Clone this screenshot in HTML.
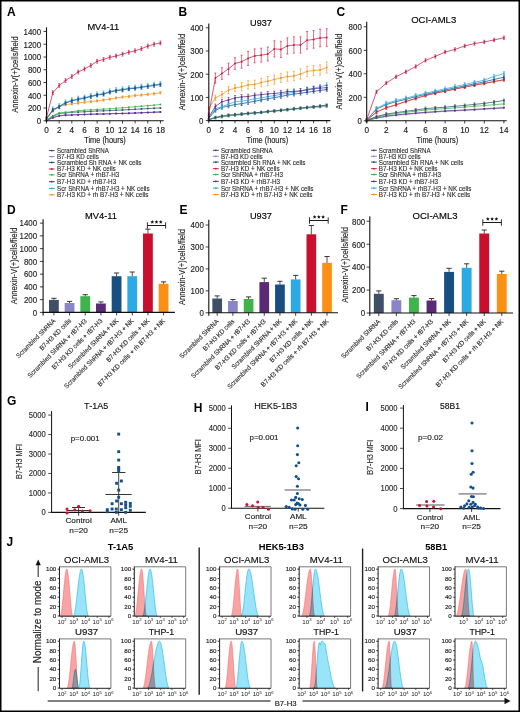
<!DOCTYPE html>
<html><head><meta charset="utf-8"><style>
html,body{margin:0;padding:0;background:#fff;}
svg{display:block;font-family:"Liberation Sans", sans-serif;}
</style></head><body>
<svg width="520" height="712" viewBox="0 0 520 712">
<rect x="0" y="0" width="520" height="712" fill="#fff"/>
<polyline points="46.50,120.48 52.83,117.93 59.16,116.02 65.49,115.38 71.82,115.06 78.15,114.74 84.48,114.48 90.81,114.29 97.14,114.10 103.47,113.91 109.80,113.78 116.13,113.59 122.46,113.40 128.79,113.21 135.12,113.02 141.45,112.76 147.78,112.51 154.11,112.25 160.44,112.00" fill="none" stroke="#8f87d2" stroke-width="0.75"/>
<path d="M45.5 120.5a1 1 0 1 0 2 0a1 1 0 1 0 -2 0M51.8 117.9a1 1 0 1 0 2 0a1 1 0 1 0 -2 0M58.2 116.0a1 1 0 1 0 2 0a1 1 0 1 0 -2 0M64.5 115.4a1 1 0 1 0 2 0a1 1 0 1 0 -2 0M70.8 115.1a1 1 0 1 0 2 0a1 1 0 1 0 -2 0M77.2 114.7a1 1 0 1 0 2 0a1 1 0 1 0 -2 0M83.5 114.5a1 1 0 1 0 2 0a1 1 0 1 0 -2 0M89.8 114.3a1 1 0 1 0 2 0a1 1 0 1 0 -2 0M96.1 114.1a1 1 0 1 0 2 0a1 1 0 1 0 -2 0M102.5 113.9a1 1 0 1 0 2 0a1 1 0 1 0 -2 0M108.8 113.8a1 1 0 1 0 2 0a1 1 0 1 0 -2 0M115.1 113.6a1 1 0 1 0 2 0a1 1 0 1 0 -2 0M121.5 113.4a1 1 0 1 0 2 0a1 1 0 1 0 -2 0M127.8 113.2a1 1 0 1 0 2 0a1 1 0 1 0 -2 0M134.1 113.0a1 1 0 1 0 2 0a1 1 0 1 0 -2 0M140.4 112.8a1 1 0 1 0 2 0a1 1 0 1 0 -2 0M146.8 112.5a1 1 0 1 0 2 0a1 1 0 1 0 -2 0M153.1 112.3a1 1 0 1 0 2 0a1 1 0 1 0 -2 0M159.4 112.0a1 1 0 1 0 2 0a1 1 0 1 0 -2 0" fill="#8f87d2"/>
<polyline points="46.50,120.48 52.83,117.48 59.16,115.70 65.49,115.12 71.82,114.87 78.15,114.68 84.48,114.42 90.81,114.23 97.14,114.04 103.47,113.91 109.80,113.72 116.13,113.59 122.46,113.40 128.79,113.27 135.12,113.08 141.45,112.76 147.78,112.51 154.11,112.19 160.44,111.93" fill="none" stroke="#5e2d86" stroke-width="0.75"/>
<path d="M45.5 120.5a1 1 0 1 0 2 0a1 1 0 1 0 -2 0M51.8 117.5a1 1 0 1 0 2 0a1 1 0 1 0 -2 0M58.2 115.7a1 1 0 1 0 2 0a1 1 0 1 0 -2 0M64.5 115.1a1 1 0 1 0 2 0a1 1 0 1 0 -2 0M70.8 114.9a1 1 0 1 0 2 0a1 1 0 1 0 -2 0M77.2 114.7a1 1 0 1 0 2 0a1 1 0 1 0 -2 0M83.5 114.4a1 1 0 1 0 2 0a1 1 0 1 0 -2 0M89.8 114.2a1 1 0 1 0 2 0a1 1 0 1 0 -2 0M96.1 114.0a1 1 0 1 0 2 0a1 1 0 1 0 -2 0M102.5 113.9a1 1 0 1 0 2 0a1 1 0 1 0 -2 0M108.8 113.7a1 1 0 1 0 2 0a1 1 0 1 0 -2 0M115.1 113.6a1 1 0 1 0 2 0a1 1 0 1 0 -2 0M121.5 113.4a1 1 0 1 0 2 0a1 1 0 1 0 -2 0M127.8 113.3a1 1 0 1 0 2 0a1 1 0 1 0 -2 0M134.1 113.1a1 1 0 1 0 2 0a1 1 0 1 0 -2 0M140.4 112.8a1 1 0 1 0 2 0a1 1 0 1 0 -2 0M146.8 112.5a1 1 0 1 0 2 0a1 1 0 1 0 -2 0M153.1 112.2a1 1 0 1 0 2 0a1 1 0 1 0 -2 0M159.4 111.9a1 1 0 1 0 2 0a1 1 0 1 0 -2 0" fill="#5e2d86"/>
<polyline points="46.50,120.16 52.83,116.27 59.16,113.53 65.49,113.02 71.82,112.19 78.15,112.00 84.48,111.80 90.81,111.36 97.14,110.97 103.47,110.85 109.80,110.59 116.13,110.27 122.46,109.95 128.79,109.63 135.12,109.32 141.45,108.93 147.78,108.55 154.11,108.23 160.44,107.91" fill="none" stroke="#34506e" stroke-width="0.75"/>
<path d="M45.5 120.2a1 1 0 1 0 2 0a1 1 0 1 0 -2 0M51.8 116.3a1 1 0 1 0 2 0a1 1 0 1 0 -2 0M58.2 113.5a1 1 0 1 0 2 0a1 1 0 1 0 -2 0M64.5 113.0a1 1 0 1 0 2 0a1 1 0 1 0 -2 0M70.8 112.2a1 1 0 1 0 2 0a1 1 0 1 0 -2 0M77.2 112.0a1 1 0 1 0 2 0a1 1 0 1 0 -2 0M83.5 111.8a1 1 0 1 0 2 0a1 1 0 1 0 -2 0M89.8 111.4a1 1 0 1 0 2 0a1 1 0 1 0 -2 0M96.1 111.0a1 1 0 1 0 2 0a1 1 0 1 0 -2 0M102.5 110.8a1 1 0 1 0 2 0a1 1 0 1 0 -2 0M108.8 110.6a1 1 0 1 0 2 0a1 1 0 1 0 -2 0M115.1 110.3a1 1 0 1 0 2 0a1 1 0 1 0 -2 0M121.5 110.0a1 1 0 1 0 2 0a1 1 0 1 0 -2 0M127.8 109.6a1 1 0 1 0 2 0a1 1 0 1 0 -2 0M134.1 109.3a1 1 0 1 0 2 0a1 1 0 1 0 -2 0M140.4 108.9a1 1 0 1 0 2 0a1 1 0 1 0 -2 0M146.8 108.6a1 1 0 1 0 2 0a1 1 0 1 0 -2 0M153.1 108.2a1 1 0 1 0 2 0a1 1 0 1 0 -2 0M159.4 107.9a1 1 0 1 0 2 0a1 1 0 1 0 -2 0" fill="#34506e"/>
<polyline points="46.50,120.16 52.83,115.70 59.16,113.02 65.49,112.19 71.82,111.80 78.15,110.78 84.48,110.21 90.81,109.83 97.14,109.51 103.47,109.12 109.80,108.81 116.13,108.30 122.46,107.78 128.79,107.27 135.12,106.70 141.45,106.19 147.78,105.68 154.11,105.17 160.44,104.53" fill="none" stroke="#3bb54a" stroke-width="0.75"/>
<path d="M45.5 120.2a1 1 0 1 0 2 0a1 1 0 1 0 -2 0M51.8 115.7a1 1 0 1 0 2 0a1 1 0 1 0 -2 0M58.2 113.0a1 1 0 1 0 2 0a1 1 0 1 0 -2 0M64.5 112.2a1 1 0 1 0 2 0a1 1 0 1 0 -2 0M70.8 111.8a1 1 0 1 0 2 0a1 1 0 1 0 -2 0M77.2 110.8a1 1 0 1 0 2 0a1 1 0 1 0 -2 0M83.5 110.2a1 1 0 1 0 2 0a1 1 0 1 0 -2 0M89.8 109.8a1 1 0 1 0 2 0a1 1 0 1 0 -2 0M96.1 109.5a1 1 0 1 0 2 0a1 1 0 1 0 -2 0M102.5 109.1a1 1 0 1 0 2 0a1 1 0 1 0 -2 0M108.8 108.8a1 1 0 1 0 2 0a1 1 0 1 0 -2 0M115.1 108.3a1 1 0 1 0 2 0a1 1 0 1 0 -2 0M121.5 107.8a1 1 0 1 0 2 0a1 1 0 1 0 -2 0M127.8 107.3a1 1 0 1 0 2 0a1 1 0 1 0 -2 0M134.1 106.7a1 1 0 1 0 2 0a1 1 0 1 0 -2 0M140.4 106.2a1 1 0 1 0 2 0a1 1 0 1 0 -2 0M146.8 105.7a1 1 0 1 0 2 0a1 1 0 1 0 -2 0M153.1 105.2a1 1 0 1 0 2 0a1 1 0 1 0 -2 0M159.4 104.5a1 1 0 1 0 2 0a1 1 0 1 0 -2 0" fill="#3bb54a"/>
<polyline points="46.50,118.89 52.83,110.78 59.16,107.08 65.49,104.59 71.82,103.89 78.15,103.06 84.48,102.30 90.81,101.66 97.14,100.89 103.47,100.06 109.80,99.11 116.13,97.96 122.46,97.07 128.79,96.43 135.12,95.54 141.45,95.02 147.78,94.32 154.11,93.81 160.44,92.73" fill="none" stroke="#f7941e" stroke-width="0.75"/>
<path d="M46.5 117.7V120.0M45.5 117.7h2M45.5 120.0h2M52.8 109.6V111.9M51.8 109.6h2M51.8 111.9h2M59.2 105.9V108.2M58.2 105.9h2M58.2 108.2h2M65.5 103.4V105.7M64.5 103.4h2M64.5 105.7h2M71.8 102.7V105.0M70.8 102.7h2M70.8 105.0h2M78.2 101.9V104.2M77.2 101.9h2M77.2 104.2h2M84.5 101.1V103.4M83.5 101.1h2M83.5 103.4h2M90.8 100.5V102.8M89.8 100.5h2M89.8 102.8h2M97.1 99.7V102.0M96.1 99.7h2M96.1 102.0h2M103.5 98.9V101.2M102.5 98.9h2M102.5 101.2h2M109.8 98.0V100.3M108.8 98.0h2M108.8 100.3h2M116.1 96.8V99.1M115.1 96.8h2M115.1 99.1h2M122.5 95.9V98.2M121.5 95.9h2M121.5 98.2h2M128.8 95.3V97.6M127.8 95.3h2M127.8 97.6h2M135.1 94.4V96.7M134.1 94.4h2M134.1 96.7h2M141.4 93.9V96.2M140.4 93.9h2M140.4 96.2h2M147.8 93.2V95.5M146.8 93.2h2M146.8 95.5h2M154.1 92.7V95.0M153.1 92.7h2M153.1 95.0h2M160.4 91.6V93.9M159.4 91.6h2M159.4 93.9h2" stroke="#f7941e" stroke-width="0.65" fill="none"/>
<path d="M45.5 118.9a1 1 0 1 0 2 0a1 1 0 1 0 -2 0M51.8 110.8a1 1 0 1 0 2 0a1 1 0 1 0 -2 0M58.2 107.1a1 1 0 1 0 2 0a1 1 0 1 0 -2 0M64.5 104.6a1 1 0 1 0 2 0a1 1 0 1 0 -2 0M70.8 103.9a1 1 0 1 0 2 0a1 1 0 1 0 -2 0M77.2 103.1a1 1 0 1 0 2 0a1 1 0 1 0 -2 0M83.5 102.3a1 1 0 1 0 2 0a1 1 0 1 0 -2 0M89.8 101.7a1 1 0 1 0 2 0a1 1 0 1 0 -2 0M96.1 100.9a1 1 0 1 0 2 0a1 1 0 1 0 -2 0M102.5 100.1a1 1 0 1 0 2 0a1 1 0 1 0 -2 0M108.8 99.1a1 1 0 1 0 2 0a1 1 0 1 0 -2 0M115.1 98.0a1 1 0 1 0 2 0a1 1 0 1 0 -2 0M121.5 97.1a1 1 0 1 0 2 0a1 1 0 1 0 -2 0M127.8 96.4a1 1 0 1 0 2 0a1 1 0 1 0 -2 0M134.1 95.5a1 1 0 1 0 2 0a1 1 0 1 0 -2 0M140.4 95.0a1 1 0 1 0 2 0a1 1 0 1 0 -2 0M146.8 94.3a1 1 0 1 0 2 0a1 1 0 1 0 -2 0M153.1 93.8a1 1 0 1 0 2 0a1 1 0 1 0 -2 0M159.4 92.7a1 1 0 1 0 2 0a1 1 0 1 0 -2 0" fill="#f7941e"/>
<polyline points="46.50,118.89 52.83,109.44 59.16,106.25 65.49,102.49 71.82,100.26 78.15,98.79 84.48,97.58 90.81,95.98 97.14,94.45 103.47,93.49 109.80,91.45 116.13,90.18 122.46,89.35 128.79,88.26 135.12,87.69 141.45,86.73 147.78,85.84 154.11,84.75 160.44,83.99" fill="none" stroke="#35aae3" stroke-width="0.75"/>
<path d="M46.5 116.3V121.4M45.5 116.3h2M45.5 121.4h2M52.8 106.9V112.0M51.8 106.9h2M51.8 112.0h2M59.2 103.7V108.8M58.2 103.7h2M58.2 108.8h2M65.5 99.9V105.0M64.5 99.9h2M64.5 105.0h2M71.8 97.7V102.8M70.8 97.7h2M70.8 102.8h2M78.2 96.2V101.3M77.2 96.2h2M77.2 101.3h2M84.5 95.0V100.1M83.5 95.0h2M83.5 100.1h2M90.8 93.4V98.5M89.8 93.4h2M89.8 98.5h2M97.1 91.9V97.0M96.1 91.9h2M96.1 97.0h2M103.5 90.9V96.0M102.5 90.9h2M102.5 96.0h2M109.8 88.9V94.0M108.8 88.9h2M108.8 94.0h2M116.1 87.6V92.7M115.1 87.6h2M115.1 92.7h2M122.5 86.8V91.9M121.5 86.8h2M121.5 91.9h2M128.8 85.7V90.8M127.8 85.7h2M127.8 90.8h2M135.1 85.1V90.2M134.1 85.1h2M134.1 90.2h2M141.4 84.2V89.3M140.4 84.2h2M140.4 89.3h2M147.8 83.3V88.4M146.8 83.3h2M146.8 88.4h2M154.1 82.2V87.3M153.1 82.2h2M153.1 87.3h2M160.4 81.4V86.5M159.4 81.4h2M159.4 86.5h2" stroke="#35aae3" stroke-width="0.65" fill="none"/>
<path d="M45.5 118.9a1 1 0 1 0 2 0a1 1 0 1 0 -2 0M51.8 109.4a1 1 0 1 0 2 0a1 1 0 1 0 -2 0M58.2 106.3a1 1 0 1 0 2 0a1 1 0 1 0 -2 0M64.5 102.5a1 1 0 1 0 2 0a1 1 0 1 0 -2 0M70.8 100.3a1 1 0 1 0 2 0a1 1 0 1 0 -2 0M77.2 98.8a1 1 0 1 0 2 0a1 1 0 1 0 -2 0M83.5 97.6a1 1 0 1 0 2 0a1 1 0 1 0 -2 0M89.8 96.0a1 1 0 1 0 2 0a1 1 0 1 0 -2 0M96.1 94.5a1 1 0 1 0 2 0a1 1 0 1 0 -2 0M102.5 93.5a1 1 0 1 0 2 0a1 1 0 1 0 -2 0M108.8 91.5a1 1 0 1 0 2 0a1 1 0 1 0 -2 0M115.1 90.2a1 1 0 1 0 2 0a1 1 0 1 0 -2 0M121.5 89.3a1 1 0 1 0 2 0a1 1 0 1 0 -2 0M127.8 88.3a1 1 0 1 0 2 0a1 1 0 1 0 -2 0M134.1 87.7a1 1 0 1 0 2 0a1 1 0 1 0 -2 0M140.4 86.7a1 1 0 1 0 2 0a1 1 0 1 0 -2 0M146.8 85.8a1 1 0 1 0 2 0a1 1 0 1 0 -2 0M153.1 84.8a1 1 0 1 0 2 0a1 1 0 1 0 -2 0M159.4 84.0a1 1 0 1 0 2 0a1 1 0 1 0 -2 0" fill="#35aae3"/>
<polyline points="46.50,118.89 52.83,109.89 59.16,106.83 65.49,103.13 71.82,100.89 78.15,99.43 84.48,98.21 90.81,96.62 97.14,95.09 103.47,94.20 109.80,92.09 116.13,90.81 122.46,89.98 128.79,88.90 135.12,88.33 141.45,87.37 147.78,86.48 154.11,85.39 160.44,84.63" fill="none" stroke="#17508a" stroke-width="0.75"/>
<path d="M46.5 117.3V120.5M45.5 117.3h2M45.5 120.5h2M52.8 108.3V111.5M51.8 108.3h2M51.8 111.5h2M59.2 105.2V108.4M58.2 105.2h2M58.2 108.4h2M65.5 101.5V104.7M64.5 101.5h2M64.5 104.7h2M71.8 99.3V102.5M70.8 99.3h2M70.8 102.5h2M78.2 97.8V101.0M77.2 97.8h2M77.2 101.0h2M84.5 96.6V99.8M83.5 96.6h2M83.5 99.8h2M90.8 95.0V98.2M89.8 95.0h2M89.8 98.2h2M97.1 93.5V96.7M96.1 93.5h2M96.1 96.7h2M103.5 92.6V95.8M102.5 92.6h2M102.5 95.8h2M109.8 90.5V93.7M108.8 90.5h2M108.8 93.7h2M116.1 89.2V92.4M115.1 89.2h2M115.1 92.4h2M122.5 88.4V91.6M121.5 88.4h2M121.5 91.6h2M128.8 87.3V90.5M127.8 87.3h2M127.8 90.5h2M135.1 86.7V89.9M134.1 86.7h2M134.1 89.9h2M141.4 85.8V89.0M140.4 85.8h2M140.4 89.0h2M147.8 84.9V88.1M146.8 84.9h2M146.8 88.1h2M154.1 83.8V87.0M153.1 83.8h2M153.1 87.0h2M160.4 83.0V86.2M159.4 83.0h2M159.4 86.2h2" stroke="#17508a" stroke-width="0.65" fill="none"/>
<path d="M45.5 118.9a1 1 0 1 0 2 0a1 1 0 1 0 -2 0M51.8 109.9a1 1 0 1 0 2 0a1 1 0 1 0 -2 0M58.2 106.8a1 1 0 1 0 2 0a1 1 0 1 0 -2 0M64.5 103.1a1 1 0 1 0 2 0a1 1 0 1 0 -2 0M70.8 100.9a1 1 0 1 0 2 0a1 1 0 1 0 -2 0M77.2 99.4a1 1 0 1 0 2 0a1 1 0 1 0 -2 0M83.5 98.2a1 1 0 1 0 2 0a1 1 0 1 0 -2 0M89.8 96.6a1 1 0 1 0 2 0a1 1 0 1 0 -2 0M96.1 95.1a1 1 0 1 0 2 0a1 1 0 1 0 -2 0M102.5 94.2a1 1 0 1 0 2 0a1 1 0 1 0 -2 0M108.8 92.1a1 1 0 1 0 2 0a1 1 0 1 0 -2 0M115.1 90.8a1 1 0 1 0 2 0a1 1 0 1 0 -2 0M121.5 90.0a1 1 0 1 0 2 0a1 1 0 1 0 -2 0M127.8 88.9a1 1 0 1 0 2 0a1 1 0 1 0 -2 0M134.1 88.3a1 1 0 1 0 2 0a1 1 0 1 0 -2 0M140.4 87.4a1 1 0 1 0 2 0a1 1 0 1 0 -2 0M146.8 86.5a1 1 0 1 0 2 0a1 1 0 1 0 -2 0M153.1 85.4a1 1 0 1 0 2 0a1 1 0 1 0 -2 0M159.4 84.6a1 1 0 1 0 2 0a1 1 0 1 0 -2 0" fill="#17508a"/>
<polyline points="46.50,117.61 52.83,92.73 59.16,85.52 65.49,80.61 71.82,76.52 78.15,71.99 84.48,68.99 90.81,65.49 97.14,61.27 103.47,59.49 109.80,57.32 116.13,55.98 122.46,54.19 128.79,52.28 135.12,50.81 141.45,48.71 147.78,46.15 154.11,44.24 160.44,42.96" fill="none" stroke="#cc1f48" stroke-width="0.75"/>
<path d="M52.8 90.8V94.6M51.8 90.8h2M51.8 94.6h2M59.2 83.6V87.4M58.2 83.6h2M58.2 87.4h2M65.5 78.7V82.5M64.5 78.7h2M64.5 82.5h2M71.8 74.6V78.4M70.8 74.6h2M70.8 78.4h2M78.2 70.1V73.9M77.2 70.1h2M77.2 73.9h2M84.5 67.1V70.9M83.5 67.1h2M83.5 70.9h2M90.8 63.6V67.4M89.8 63.6h2M89.8 67.4h2M97.1 59.4V63.2M96.1 59.4h2M96.1 63.2h2M103.5 57.6V61.4M102.5 57.6h2M102.5 61.4h2M109.8 55.4V59.2M108.8 55.4h2M108.8 59.2h2M116.1 54.1V57.9M115.1 54.1h2M115.1 57.9h2M122.5 52.3V56.1M121.5 52.3h2M121.5 56.1h2M128.8 50.4V54.2M127.8 50.4h2M127.8 54.2h2M135.1 48.9V52.7M134.1 48.9h2M134.1 52.7h2M141.4 46.8V50.6M140.4 46.8h2M140.4 50.6h2M147.8 44.2V48.1M146.8 44.2h2M146.8 48.1h2M154.1 42.3V46.2M153.1 42.3h2M153.1 46.2h2M160.4 41.0V44.9M159.4 41.0h2M159.4 44.9h2" stroke="#cc1f48" stroke-width="0.65" fill="none"/>
<path d="M45.5 117.6a1 1 0 1 0 2 0a1 1 0 1 0 -2 0M51.8 92.7a1 1 0 1 0 2 0a1 1 0 1 0 -2 0M58.2 85.5a1 1 0 1 0 2 0a1 1 0 1 0 -2 0M64.5 80.6a1 1 0 1 0 2 0a1 1 0 1 0 -2 0M70.8 76.5a1 1 0 1 0 2 0a1 1 0 1 0 -2 0M77.2 72.0a1 1 0 1 0 2 0a1 1 0 1 0 -2 0M83.5 69.0a1 1 0 1 0 2 0a1 1 0 1 0 -2 0M89.8 65.5a1 1 0 1 0 2 0a1 1 0 1 0 -2 0M96.1 61.3a1 1 0 1 0 2 0a1 1 0 1 0 -2 0M102.5 59.5a1 1 0 1 0 2 0a1 1 0 1 0 -2 0M108.8 57.3a1 1 0 1 0 2 0a1 1 0 1 0 -2 0M115.1 56.0a1 1 0 1 0 2 0a1 1 0 1 0 -2 0M121.5 54.2a1 1 0 1 0 2 0a1 1 0 1 0 -2 0M127.8 52.3a1 1 0 1 0 2 0a1 1 0 1 0 -2 0M134.1 50.8a1 1 0 1 0 2 0a1 1 0 1 0 -2 0M140.4 48.7a1 1 0 1 0 2 0a1 1 0 1 0 -2 0M146.8 46.2a1 1 0 1 0 2 0a1 1 0 1 0 -2 0M153.1 44.2a1 1 0 1 0 2 0a1 1 0 1 0 -2 0M159.4 43.0a1 1 0 1 0 2 0a1 1 0 1 0 -2 0" fill="#cc1f48"/>
<line x1="46.50" y1="27.30" x2="46.50" y2="121.30" stroke="#111" stroke-width="1.1" />
<line x1="46.00" y1="120.80" x2="163.70" y2="120.80" stroke="#111" stroke-width="1.1" />
<line x1="43.50" y1="120.80" x2="46.50" y2="120.80" stroke="#111" stroke-width="0.8" />
<text x="41.10" y="124.10" font-size="8.8" text-anchor="end" fill="#222" textLength="4.40" lengthAdjust="spacingAndGlyphs"  stroke="#222" stroke-width="0.15">0</text>
<line x1="43.50" y1="108.04" x2="46.50" y2="108.04" stroke="#111" stroke-width="0.8" />
<text x="41.10" y="111.34" font-size="8.8" text-anchor="end" fill="#222" textLength="13.20" lengthAdjust="spacingAndGlyphs"  stroke="#222" stroke-width="0.15">200</text>
<line x1="43.50" y1="95.28" x2="46.50" y2="95.28" stroke="#111" stroke-width="0.8" />
<text x="41.10" y="98.58" font-size="8.8" text-anchor="end" fill="#222" textLength="13.20" lengthAdjust="spacingAndGlyphs"  stroke="#222" stroke-width="0.15">400</text>
<line x1="43.50" y1="82.52" x2="46.50" y2="82.52" stroke="#111" stroke-width="0.8" />
<text x="41.10" y="85.82" font-size="8.8" text-anchor="end" fill="#222" textLength="13.20" lengthAdjust="spacingAndGlyphs"  stroke="#222" stroke-width="0.15">600</text>
<line x1="43.50" y1="69.76" x2="46.50" y2="69.76" stroke="#111" stroke-width="0.8" />
<text x="41.10" y="73.06" font-size="8.8" text-anchor="end" fill="#222" textLength="13.20" lengthAdjust="spacingAndGlyphs"  stroke="#222" stroke-width="0.15">800</text>
<line x1="43.50" y1="57.00" x2="46.50" y2="57.00" stroke="#111" stroke-width="0.8" />
<text x="41.10" y="60.30" font-size="8.8" text-anchor="end" fill="#222" textLength="17.60" lengthAdjust="spacingAndGlyphs"  stroke="#222" stroke-width="0.15">1000</text>
<line x1="43.50" y1="44.24" x2="46.50" y2="44.24" stroke="#111" stroke-width="0.8" />
<text x="41.10" y="47.54" font-size="8.8" text-anchor="end" fill="#222" textLength="17.60" lengthAdjust="spacingAndGlyphs"  stroke="#222" stroke-width="0.15">1200</text>
<line x1="43.50" y1="31.48" x2="46.50" y2="31.48" stroke="#111" stroke-width="0.8" />
<text x="41.10" y="34.78" font-size="8.8" text-anchor="end" fill="#222" textLength="17.60" lengthAdjust="spacingAndGlyphs"  stroke="#222" stroke-width="0.15">1400</text>
<line x1="46.50" y1="120.80" x2="46.50" y2="123.50" stroke="#111" stroke-width="0.8" />
<text x="46.50" y="133.40" font-size="8.2" text-anchor="middle" fill="#222"  stroke="#222" stroke-width="0.15">0</text>
<line x1="59.16" y1="120.80" x2="59.16" y2="123.50" stroke="#111" stroke-width="0.8" />
<text x="59.16" y="133.40" font-size="8.2" text-anchor="middle" fill="#222"  stroke="#222" stroke-width="0.15">2</text>
<line x1="71.82" y1="120.80" x2="71.82" y2="123.50" stroke="#111" stroke-width="0.8" />
<text x="71.82" y="133.40" font-size="8.2" text-anchor="middle" fill="#222"  stroke="#222" stroke-width="0.15">4</text>
<line x1="84.48" y1="120.80" x2="84.48" y2="123.50" stroke="#111" stroke-width="0.8" />
<text x="84.48" y="133.40" font-size="8.2" text-anchor="middle" fill="#222"  stroke="#222" stroke-width="0.15">6</text>
<line x1="97.14" y1="120.80" x2="97.14" y2="123.50" stroke="#111" stroke-width="0.8" />
<text x="97.14" y="133.40" font-size="8.2" text-anchor="middle" fill="#222"  stroke="#222" stroke-width="0.15">8</text>
<line x1="109.80" y1="120.80" x2="109.80" y2="123.50" stroke="#111" stroke-width="0.8" />
<text x="109.80" y="133.40" font-size="8.2" text-anchor="middle" fill="#222"  stroke="#222" stroke-width="0.15">10</text>
<line x1="122.46" y1="120.80" x2="122.46" y2="123.50" stroke="#111" stroke-width="0.8" />
<text x="122.46" y="133.40" font-size="8.2" text-anchor="middle" fill="#222"  stroke="#222" stroke-width="0.15">12</text>
<line x1="135.12" y1="120.80" x2="135.12" y2="123.50" stroke="#111" stroke-width="0.8" />
<text x="135.12" y="133.40" font-size="8.2" text-anchor="middle" fill="#222"  stroke="#222" stroke-width="0.15">14</text>
<line x1="147.78" y1="120.80" x2="147.78" y2="123.50" stroke="#111" stroke-width="0.8" />
<text x="147.78" y="133.40" font-size="8.2" text-anchor="middle" fill="#222"  stroke="#222" stroke-width="0.15">16</text>
<line x1="160.44" y1="120.80" x2="160.44" y2="123.50" stroke="#111" stroke-width="0.8" />
<text x="160.44" y="133.40" font-size="8.2" text-anchor="middle" fill="#222"  stroke="#222" stroke-width="0.15">18</text>
<text x="103.30" y="30.10" font-size="9" text-anchor="middle" fill="#000" textLength="31.80" lengthAdjust="spacingAndGlyphs"  stroke="#000" stroke-width="0.15">MV4-11</text>
<text x="105.00" y="143.20" font-size="8.6" text-anchor="middle" fill="#222" textLength="41.60" lengthAdjust="spacingAndGlyphs"  stroke="#222" stroke-width="0.15">Time (hours)</text>
<text x="0" y="0" font-size="9.8" text-anchor="middle" fill="#222" textLength="76.60" lengthAdjust="spacingAndGlyphs" transform="translate(18.40,74.50) rotate(-90)"  stroke="#222" stroke-width="0.15">Annexin-V(+)cells/field</text>
<line x1="48.90" y1="150.60" x2="54.60" y2="150.60" stroke="#34506e" stroke-width="1.0" />
<circle cx="51.75" cy="150.60" r="0.9" fill="#34506e"/>
<text x="57.00" y="153.05" font-size="7.0" text-anchor="start" fill="#2a2a2a" textLength="51.80" lengthAdjust="spacingAndGlyphs" stroke="#2a2a2a" stroke-width="0.12">Scrambled ShRNA</text>
<line x1="48.90" y1="156.60" x2="54.60" y2="156.60" stroke="#8f87d2" stroke-width="1.0" />
<circle cx="51.75" cy="156.60" r="0.9" fill="#8f87d2"/>
<text x="57.00" y="159.05" font-size="7.0" text-anchor="start" fill="#2a2a2a" textLength="41.80" lengthAdjust="spacingAndGlyphs" stroke="#2a2a2a" stroke-width="0.12">B7-H3 KD cells</text>
<line x1="48.90" y1="162.40" x2="54.60" y2="162.40" stroke="#17508a" stroke-width="1.0" />
<circle cx="51.75" cy="162.40" r="0.9" fill="#17508a"/>
<text x="57.00" y="164.85" font-size="7.0" text-anchor="start" fill="#2a2a2a" textLength="84.50" lengthAdjust="spacingAndGlyphs" stroke="#2a2a2a" stroke-width="0.12">Scrambled Sh RNA + NK cells</text>
<line x1="48.90" y1="169.00" x2="54.60" y2="169.00" stroke="#cc1f48" stroke-width="1.0" />
<circle cx="51.75" cy="169.00" r="0.9" fill="#cc1f48"/>
<text x="57.00" y="171.45" font-size="7.0" text-anchor="start" fill="#2a2a2a" textLength="58.70" lengthAdjust="spacingAndGlyphs" stroke="#2a2a2a" stroke-width="0.12">B7-H3 KD + NK cells</text>
<line x1="48.90" y1="174.80" x2="54.60" y2="174.80" stroke="#3bb54a" stroke-width="1.0" />
<circle cx="51.75" cy="174.80" r="0.9" fill="#3bb54a"/>
<text x="57.00" y="177.25" font-size="7.0" text-anchor="start" fill="#2a2a2a" textLength="62.20" lengthAdjust="spacingAndGlyphs" stroke="#2a2a2a" stroke-width="0.12">Scr ShRNA + rhB7-H3</text>
<line x1="48.90" y1="181.70" x2="54.60" y2="181.70" stroke="#5e2d86" stroke-width="1.0" />
<circle cx="51.75" cy="181.70" r="0.9" fill="#5e2d86"/>
<text x="57.00" y="184.15" font-size="7.0" text-anchor="start" fill="#2a2a2a" textLength="59.20" lengthAdjust="spacingAndGlyphs" stroke="#2a2a2a" stroke-width="0.12">B7-H3 KD + rhB7-H3</text>
<line x1="48.90" y1="188.40" x2="54.60" y2="188.40" stroke="#35aae3" stroke-width="1.0" />
<circle cx="51.75" cy="188.40" r="0.9" fill="#35aae3"/>
<text x="57.00" y="190.85" font-size="7.0" text-anchor="start" fill="#2a2a2a" textLength="92.60" lengthAdjust="spacingAndGlyphs" stroke="#2a2a2a" stroke-width="0.12">Scr ShRNA + rhB7-H3 + NK cells</text>
<line x1="48.90" y1="194.80" x2="54.60" y2="194.80" stroke="#f7941e" stroke-width="1.0" />
<circle cx="51.75" cy="194.80" r="0.9" fill="#f7941e"/>
<text x="57.00" y="197.25" font-size="7.0" text-anchor="start" fill="#2a2a2a" textLength="91.50" lengthAdjust="spacingAndGlyphs" stroke="#2a2a2a" stroke-width="0.12">B7-H3 KD + rh B7-H3 + NK cells</text>
<polyline points="208.80,119.90 215.35,117.82 221.90,116.89 228.45,115.96 235.00,115.26 241.55,114.57 248.10,113.87 254.65,113.41 261.20,112.71 267.75,112.02 274.30,111.32 280.85,110.62 287.40,109.93 293.95,109.23 300.50,108.54 307.05,107.84 313.60,107.38 320.15,106.91 326.70,106.68" fill="none" stroke="#8f87d2" stroke-width="0.75"/>
<path d="M208.8 119.0V120.8M207.8 119.0h2M207.8 120.8h2M215.4 116.9V118.7M214.4 116.9h2M214.4 118.7h2M221.9 116.0V117.8M220.9 116.0h2M220.9 117.8h2M228.5 115.0V116.9M227.5 115.0h2M227.5 116.9h2M235.0 114.3V116.2M234.0 114.3h2M234.0 116.2h2M241.6 113.6V115.5M240.6 113.6h2M240.6 115.5h2M248.1 112.9V114.8M247.1 112.9h2M247.1 114.8h2M254.7 112.5V114.3M253.7 112.5h2M253.7 114.3h2M261.2 111.8V113.6M260.2 111.8h2M260.2 113.6h2M267.8 111.1V112.9M266.8 111.1h2M266.8 112.9h2M274.3 110.4V112.2M273.3 110.4h2M273.3 112.2h2M280.9 109.7V111.6M279.9 109.7h2M279.9 111.6h2M287.4 109.0V110.9M286.4 109.0h2M286.4 110.9h2M293.9 108.3V110.2M292.9 108.3h2M292.9 110.2h2M300.5 107.6V109.5M299.5 107.6h2M299.5 109.5h2M307.1 106.9V108.8M306.1 106.9h2M306.1 108.8h2M313.6 106.4V108.3M312.6 106.4h2M312.6 108.3h2M320.1 106.0V107.8M319.1 106.0h2M319.1 107.8h2M326.7 105.8V107.6M325.7 105.8h2M325.7 107.6h2" stroke="#8f87d2" stroke-width="0.65" fill="none"/>
<path d="M207.8 119.9a1 1 0 1 0 2 0a1 1 0 1 0 -2 0M214.4 117.8a1 1 0 1 0 2 0a1 1 0 1 0 -2 0M220.9 116.9a1 1 0 1 0 2 0a1 1 0 1 0 -2 0M227.5 116.0a1 1 0 1 0 2 0a1 1 0 1 0 -2 0M234.0 115.3a1 1 0 1 0 2 0a1 1 0 1 0 -2 0M240.6 114.6a1 1 0 1 0 2 0a1 1 0 1 0 -2 0M247.1 113.9a1 1 0 1 0 2 0a1 1 0 1 0 -2 0M253.7 113.4a1 1 0 1 0 2 0a1 1 0 1 0 -2 0M260.2 112.7a1 1 0 1 0 2 0a1 1 0 1 0 -2 0M266.8 112.0a1 1 0 1 0 2 0a1 1 0 1 0 -2 0M273.3 111.3a1 1 0 1 0 2 0a1 1 0 1 0 -2 0M279.9 110.6a1 1 0 1 0 2 0a1 1 0 1 0 -2 0M286.4 109.9a1 1 0 1 0 2 0a1 1 0 1 0 -2 0M292.9 109.2a1 1 0 1 0 2 0a1 1 0 1 0 -2 0M299.5 108.5a1 1 0 1 0 2 0a1 1 0 1 0 -2 0M306.1 107.8a1 1 0 1 0 2 0a1 1 0 1 0 -2 0M312.6 107.4a1 1 0 1 0 2 0a1 1 0 1 0 -2 0M319.1 106.9a1 1 0 1 0 2 0a1 1 0 1 0 -2 0M325.7 106.7a1 1 0 1 0 2 0a1 1 0 1 0 -2 0" fill="#8f87d2"/>
<polyline points="208.80,119.90 215.35,117.82 221.90,116.66 228.45,115.73 235.00,115.03 241.55,114.34 248.10,113.64 254.65,113.18 261.20,112.48 267.75,111.78 274.30,111.09 280.85,110.39 287.40,109.70 293.95,109.00 300.50,108.30 307.05,107.61 313.60,106.91 320.15,106.22 326.70,105.52" fill="none" stroke="#3bb54a" stroke-width="0.75"/>
<path d="M208.8 118.7V121.1M207.8 118.7h2M207.8 121.1h2M215.4 116.7V119.0M214.4 116.7h2M214.4 119.0h2M221.9 115.5V117.8M220.9 115.5h2M220.9 117.8h2M228.5 114.6V116.9M227.5 114.6h2M227.5 116.9h2M235.0 113.9V116.2M234.0 113.9h2M234.0 116.2h2M241.6 113.2V115.5M240.6 113.2h2M240.6 115.5h2M248.1 112.5V114.8M247.1 112.5h2M247.1 114.8h2M254.7 112.0V114.3M253.7 112.0h2M253.7 114.3h2M261.2 111.3V113.6M260.2 111.3h2M260.2 113.6h2M267.8 110.6V112.9M266.8 110.6h2M266.8 112.9h2M274.3 109.9V112.2M273.3 109.9h2M273.3 112.2h2M280.9 109.2V111.6M279.9 109.2h2M279.9 111.6h2M287.4 108.5V110.9M286.4 108.5h2M286.4 110.9h2M293.9 107.8V110.2M292.9 107.8h2M292.9 110.2h2M300.5 107.1V109.5M299.5 107.1h2M299.5 109.5h2M307.1 106.4V108.8M306.1 106.4h2M306.1 108.8h2M313.6 105.8V108.1M312.6 105.8h2M312.6 108.1h2M320.1 105.1V107.4M319.1 105.1h2M319.1 107.4h2M326.7 104.4V106.7M325.7 104.4h2M325.7 106.7h2" stroke="#3bb54a" stroke-width="0.65" fill="none"/>
<path d="M207.8 119.9a1 1 0 1 0 2 0a1 1 0 1 0 -2 0M214.4 117.8a1 1 0 1 0 2 0a1 1 0 1 0 -2 0M220.9 116.7a1 1 0 1 0 2 0a1 1 0 1 0 -2 0M227.5 115.7a1 1 0 1 0 2 0a1 1 0 1 0 -2 0M234.0 115.0a1 1 0 1 0 2 0a1 1 0 1 0 -2 0M240.6 114.3a1 1 0 1 0 2 0a1 1 0 1 0 -2 0M247.1 113.6a1 1 0 1 0 2 0a1 1 0 1 0 -2 0M253.7 113.2a1 1 0 1 0 2 0a1 1 0 1 0 -2 0M260.2 112.5a1 1 0 1 0 2 0a1 1 0 1 0 -2 0M266.8 111.8a1 1 0 1 0 2 0a1 1 0 1 0 -2 0M273.3 111.1a1 1 0 1 0 2 0a1 1 0 1 0 -2 0M279.9 110.4a1 1 0 1 0 2 0a1 1 0 1 0 -2 0M286.4 109.7a1 1 0 1 0 2 0a1 1 0 1 0 -2 0M292.9 109.0a1 1 0 1 0 2 0a1 1 0 1 0 -2 0M299.5 108.3a1 1 0 1 0 2 0a1 1 0 1 0 -2 0M306.1 107.6a1 1 0 1 0 2 0a1 1 0 1 0 -2 0M312.6 106.9a1 1 0 1 0 2 0a1 1 0 1 0 -2 0M319.1 106.2a1 1 0 1 0 2 0a1 1 0 1 0 -2 0M325.7 105.5a1 1 0 1 0 2 0a1 1 0 1 0 -2 0" fill="#3bb54a"/>
<polyline points="208.80,119.44 215.35,117.35 221.90,115.96 228.45,115.03 235.00,114.57 241.55,113.87 248.10,113.18 254.65,112.71 261.20,112.25 267.75,111.32 274.30,110.86 280.85,110.16 287.40,109.46 293.95,108.77 300.50,108.07 307.05,107.38 313.60,106.68 320.15,105.98 326.70,105.06" fill="none" stroke="#34506e" stroke-width="0.75"/>
<path d="M208.8 118.3V120.6M207.8 118.3h2M207.8 120.6h2M215.4 116.2V118.5M214.4 116.2h2M214.4 118.5h2M221.9 114.8V117.1M220.9 114.8h2M220.9 117.1h2M228.5 113.9V116.2M227.5 113.9h2M227.5 116.2h2M235.0 113.4V115.7M234.0 113.4h2M234.0 115.7h2M241.6 112.7V115.0M240.6 112.7h2M240.6 115.0h2M248.1 112.0V114.3M247.1 112.0h2M247.1 114.3h2M254.7 111.6V113.9M253.7 111.6h2M253.7 113.9h2M261.2 111.1V113.4M260.2 111.1h2M260.2 113.4h2M267.8 110.2V112.5M266.8 110.2h2M266.8 112.5h2M274.3 109.7V112.0M273.3 109.7h2M273.3 112.0h2M280.9 109.0V111.3M279.9 109.0h2M279.9 111.3h2M287.4 108.3V110.6M286.4 108.3h2M286.4 110.6h2M293.9 107.6V109.9M292.9 107.6h2M292.9 109.9h2M300.5 106.9V109.2M299.5 106.9h2M299.5 109.2h2M307.1 106.2V108.5M306.1 106.2h2M306.1 108.5h2M313.6 105.5V107.8M312.6 105.5h2M312.6 107.8h2M320.1 104.8V107.1M319.1 104.8h2M319.1 107.1h2M326.7 103.9V106.2M325.7 103.9h2M325.7 106.2h2" stroke="#34506e" stroke-width="0.65" fill="none"/>
<path d="M207.8 119.4a1 1 0 1 0 2 0a1 1 0 1 0 -2 0M214.4 117.4a1 1 0 1 0 2 0a1 1 0 1 0 -2 0M220.9 116.0a1 1 0 1 0 2 0a1 1 0 1 0 -2 0M227.5 115.0a1 1 0 1 0 2 0a1 1 0 1 0 -2 0M234.0 114.6a1 1 0 1 0 2 0a1 1 0 1 0 -2 0M240.6 113.9a1 1 0 1 0 2 0a1 1 0 1 0 -2 0M247.1 113.2a1 1 0 1 0 2 0a1 1 0 1 0 -2 0M253.7 112.7a1 1 0 1 0 2 0a1 1 0 1 0 -2 0M260.2 112.2a1 1 0 1 0 2 0a1 1 0 1 0 -2 0M266.8 111.3a1 1 0 1 0 2 0a1 1 0 1 0 -2 0M273.3 110.9a1 1 0 1 0 2 0a1 1 0 1 0 -2 0M279.9 110.2a1 1 0 1 0 2 0a1 1 0 1 0 -2 0M286.4 109.5a1 1 0 1 0 2 0a1 1 0 1 0 -2 0M292.9 108.8a1 1 0 1 0 2 0a1 1 0 1 0 -2 0M299.5 108.1a1 1 0 1 0 2 0a1 1 0 1 0 -2 0M306.1 107.4a1 1 0 1 0 2 0a1 1 0 1 0 -2 0M312.6 106.7a1 1 0 1 0 2 0a1 1 0 1 0 -2 0M319.1 106.0a1 1 0 1 0 2 0a1 1 0 1 0 -2 0M325.7 105.1a1 1 0 1 0 2 0a1 1 0 1 0 -2 0" fill="#34506e"/>
<polyline points="208.80,118.28 215.35,110.39 221.90,107.38 228.45,105.98 235.00,104.59 241.55,103.66 248.10,102.50 254.65,101.34 261.20,99.95 267.75,98.79 274.30,97.63 280.85,96.47 287.40,95.08 293.95,94.15 300.50,93.22 307.05,92.30 313.60,91.37 320.15,90.44 326.70,89.51" fill="none" stroke="#17508a" stroke-width="0.75"/>
<path d="M208.8 116.4V120.1M207.8 116.4h2M207.8 120.1h2M215.4 108.5V112.2M214.4 108.5h2M214.4 112.2h2M221.9 105.5V109.2M220.9 105.5h2M220.9 109.2h2M228.5 104.1V107.8M227.5 104.1h2M227.5 107.8h2M235.0 102.7V106.4M234.0 102.7h2M234.0 106.4h2M241.6 101.8V105.5M240.6 101.8h2M240.6 105.5h2M248.1 100.6V104.4M247.1 100.6h2M247.1 104.4h2M254.7 99.5V103.2M253.7 99.5h2M253.7 103.2h2M261.2 98.1V101.8M260.2 98.1h2M260.2 101.8h2M267.8 96.9V100.6M266.8 96.9h2M266.8 100.6h2M274.3 95.8V99.5M273.3 95.8h2M273.3 99.5h2M280.9 94.6V98.3M279.9 94.6h2M279.9 98.3h2M287.4 93.2V96.9M286.4 93.2h2M286.4 96.9h2M293.9 92.3V96.0M292.9 92.3h2M292.9 96.0h2M300.5 91.4V95.1M299.5 91.4h2M299.5 95.1h2M307.1 90.4V94.2M306.1 90.4h2M306.1 94.2h2M313.6 89.5V93.2M312.6 89.5h2M312.6 93.2h2M320.1 88.6V92.3M319.1 88.6h2M319.1 92.3h2M326.7 87.7V91.4M325.7 87.7h2M325.7 91.4h2" stroke="#17508a" stroke-width="0.65" fill="none"/>
<path d="M207.8 118.3a1 1 0 1 0 2 0a1 1 0 1 0 -2 0M214.4 110.4a1 1 0 1 0 2 0a1 1 0 1 0 -2 0M220.9 107.4a1 1 0 1 0 2 0a1 1 0 1 0 -2 0M227.5 106.0a1 1 0 1 0 2 0a1 1 0 1 0 -2 0M234.0 104.6a1 1 0 1 0 2 0a1 1 0 1 0 -2 0M240.6 103.7a1 1 0 1 0 2 0a1 1 0 1 0 -2 0M247.1 102.5a1 1 0 1 0 2 0a1 1 0 1 0 -2 0M253.7 101.3a1 1 0 1 0 2 0a1 1 0 1 0 -2 0M260.2 100.0a1 1 0 1 0 2 0a1 1 0 1 0 -2 0M266.8 98.8a1 1 0 1 0 2 0a1 1 0 1 0 -2 0M273.3 97.6a1 1 0 1 0 2 0a1 1 0 1 0 -2 0M279.9 96.5a1 1 0 1 0 2 0a1 1 0 1 0 -2 0M286.4 95.1a1 1 0 1 0 2 0a1 1 0 1 0 -2 0M292.9 94.2a1 1 0 1 0 2 0a1 1 0 1 0 -2 0M299.5 93.2a1 1 0 1 0 2 0a1 1 0 1 0 -2 0M306.1 92.3a1 1 0 1 0 2 0a1 1 0 1 0 -2 0M312.6 91.4a1 1 0 1 0 2 0a1 1 0 1 0 -2 0M319.1 90.4a1 1 0 1 0 2 0a1 1 0 1 0 -2 0M325.7 89.5a1 1 0 1 0 2 0a1 1 0 1 0 -2 0" fill="#17508a"/>
<polyline points="208.80,118.28 215.35,108.77 221.90,106.68 228.45,104.13 235.00,101.81 241.55,101.11 248.10,100.18 254.65,98.79 261.20,97.86 267.75,96.70 274.30,95.54 280.85,94.38 287.40,93.22 293.95,92.30 300.50,90.90 307.05,89.28 313.60,88.12 320.15,86.73 326.70,85.10" fill="none" stroke="#35aae3" stroke-width="0.75"/>
<path d="M208.8 116.0V120.6M207.8 116.0h2M207.8 120.6h2M215.4 106.4V111.1M214.4 106.4h2M214.4 111.1h2M221.9 104.4V109.0M220.9 104.4h2M220.9 109.0h2M228.5 101.8V106.4M227.5 101.8h2M227.5 106.4h2M235.0 99.5V104.1M234.0 99.5h2M234.0 104.1h2M241.6 98.8V103.4M240.6 98.8h2M240.6 103.4h2M248.1 97.9V102.5M247.1 97.9h2M247.1 102.5h2M254.7 96.5V101.1M253.7 96.5h2M253.7 101.1h2M261.2 95.5V100.2M260.2 95.5h2M260.2 100.2h2M267.8 94.4V99.0M266.8 94.4h2M266.8 99.0h2M274.3 93.2V97.9M273.3 93.2h2M273.3 97.9h2M280.9 92.1V96.7M279.9 92.1h2M279.9 96.7h2M287.4 90.9V95.5M286.4 90.9h2M286.4 95.5h2M293.9 90.0V94.6M292.9 90.0h2M292.9 94.6h2M300.5 88.6V93.2M299.5 88.6h2M299.5 93.2h2M307.1 87.0V91.6M306.1 87.0h2M306.1 91.6h2M313.6 85.8V90.4M312.6 85.8h2M312.6 90.4h2M320.1 84.4V89.0M319.1 84.4h2M319.1 89.0h2M326.7 82.8V87.4M325.7 82.8h2M325.7 87.4h2" stroke="#35aae3" stroke-width="0.65" fill="none"/>
<path d="M207.8 118.3a1 1 0 1 0 2 0a1 1 0 1 0 -2 0M214.4 108.8a1 1 0 1 0 2 0a1 1 0 1 0 -2 0M220.9 106.7a1 1 0 1 0 2 0a1 1 0 1 0 -2 0M227.5 104.1a1 1 0 1 0 2 0a1 1 0 1 0 -2 0M234.0 101.8a1 1 0 1 0 2 0a1 1 0 1 0 -2 0M240.6 101.1a1 1 0 1 0 2 0a1 1 0 1 0 -2 0M247.1 100.2a1 1 0 1 0 2 0a1 1 0 1 0 -2 0M253.7 98.8a1 1 0 1 0 2 0a1 1 0 1 0 -2 0M260.2 97.9a1 1 0 1 0 2 0a1 1 0 1 0 -2 0M266.8 96.7a1 1 0 1 0 2 0a1 1 0 1 0 -2 0M273.3 95.5a1 1 0 1 0 2 0a1 1 0 1 0 -2 0M279.9 94.4a1 1 0 1 0 2 0a1 1 0 1 0 -2 0M286.4 93.2a1 1 0 1 0 2 0a1 1 0 1 0 -2 0M292.9 92.3a1 1 0 1 0 2 0a1 1 0 1 0 -2 0M299.5 90.9a1 1 0 1 0 2 0a1 1 0 1 0 -2 0M306.1 89.3a1 1 0 1 0 2 0a1 1 0 1 0 -2 0M312.6 88.1a1 1 0 1 0 2 0a1 1 0 1 0 -2 0M319.1 86.7a1 1 0 1 0 2 0a1 1 0 1 0 -2 0M325.7 85.1a1 1 0 1 0 2 0a1 1 0 1 0 -2 0" fill="#35aae3"/>
<polyline points="208.80,117.12 215.35,106.45 221.90,101.81 228.45,99.95 235.00,97.86 241.55,96.94 248.10,96.47 254.65,95.31 261.20,94.62 267.75,93.92 274.30,93.46 280.85,92.76 287.40,91.60 293.95,91.37 300.50,90.90 307.05,89.98 313.60,88.82 320.15,88.12 326.70,87.66" fill="none" stroke="#5e2d86" stroke-width="0.75"/>
<path d="M208.8 114.8V119.4M207.8 114.8h2M207.8 119.4h2M215.4 104.1V108.8M214.4 104.1h2M214.4 108.8h2M221.9 99.5V104.1M220.9 99.5h2M220.9 104.1h2M228.5 97.6V102.3M227.5 97.6h2M227.5 102.3h2M235.0 95.5V100.2M234.0 95.5h2M234.0 100.2h2M241.6 94.6V99.3M240.6 94.6h2M240.6 99.3h2M248.1 94.2V98.8M247.1 94.2h2M247.1 98.8h2M254.7 93.0V97.6M253.7 93.0h2M253.7 97.6h2M261.2 92.3V96.9M260.2 92.3h2M260.2 96.9h2M267.8 91.6V96.2M266.8 91.6h2M266.8 96.2h2M274.3 91.1V95.8M273.3 91.1h2M273.3 95.8h2M280.9 90.4V95.1M279.9 90.4h2M279.9 95.1h2M287.4 89.3V93.9M286.4 89.3h2M286.4 93.9h2M293.9 89.0V93.7M292.9 89.0h2M292.9 93.7h2M300.5 88.6V93.2M299.5 88.6h2M299.5 93.2h2M307.1 87.7V92.3M306.1 87.7h2M306.1 92.3h2M313.6 86.5V91.1M312.6 86.5h2M312.6 91.1h2M320.1 85.8V90.4M319.1 85.8h2M319.1 90.4h2M326.7 85.3V90.0M325.7 85.3h2M325.7 90.0h2" stroke="#5e2d86" stroke-width="0.65" fill="none"/>
<path d="M207.8 117.1a1 1 0 1 0 2 0a1 1 0 1 0 -2 0M214.4 106.4a1 1 0 1 0 2 0a1 1 0 1 0 -2 0M220.9 101.8a1 1 0 1 0 2 0a1 1 0 1 0 -2 0M227.5 100.0a1 1 0 1 0 2 0a1 1 0 1 0 -2 0M234.0 97.9a1 1 0 1 0 2 0a1 1 0 1 0 -2 0M240.6 96.9a1 1 0 1 0 2 0a1 1 0 1 0 -2 0M247.1 96.5a1 1 0 1 0 2 0a1 1 0 1 0 -2 0M253.7 95.3a1 1 0 1 0 2 0a1 1 0 1 0 -2 0M260.2 94.6a1 1 0 1 0 2 0a1 1 0 1 0 -2 0M266.8 93.9a1 1 0 1 0 2 0a1 1 0 1 0 -2 0M273.3 93.5a1 1 0 1 0 2 0a1 1 0 1 0 -2 0M279.9 92.8a1 1 0 1 0 2 0a1 1 0 1 0 -2 0M286.4 91.6a1 1 0 1 0 2 0a1 1 0 1 0 -2 0M292.9 91.4a1 1 0 1 0 2 0a1 1 0 1 0 -2 0M299.5 90.9a1 1 0 1 0 2 0a1 1 0 1 0 -2 0M306.1 90.0a1 1 0 1 0 2 0a1 1 0 1 0 -2 0M312.6 88.8a1 1 0 1 0 2 0a1 1 0 1 0 -2 0M319.1 88.1a1 1 0 1 0 2 0a1 1 0 1 0 -2 0M325.7 87.7a1 1 0 1 0 2 0a1 1 0 1 0 -2 0" fill="#5e2d86"/>
<polyline points="208.80,108.30 215.35,97.86 221.90,94.62 228.45,90.21 235.00,88.12 241.55,86.73 248.10,84.87 254.65,84.41 261.20,82.55 267.75,81.16 274.30,79.54 280.85,77.91 287.40,76.52 293.95,76.06 300.50,73.97 307.05,71.42 313.60,70.49 320.15,70.02 326.70,67.47" fill="none" stroke="#f7941e" stroke-width="0.75"/>
<path d="M208.8 107.1V109.5M207.8 107.1h2M207.8 109.5h2M215.4 95.1V100.6M214.4 95.1h2M214.4 100.6h2M221.9 91.4V97.9M220.9 91.4h2M220.9 97.9h2M228.5 86.7V93.7M227.5 86.7h2M227.5 93.7h2M235.0 84.6V91.6M234.0 84.6h2M234.0 91.6h2M241.6 82.6V90.9M240.6 82.6h2M240.6 90.9h2M248.1 80.7V89.0M247.1 80.7h2M247.1 89.0h2M254.7 80.2V88.6M253.7 80.2h2M253.7 88.6h2M261.2 78.4V86.7M260.2 78.4h2M260.2 86.7h2M267.8 76.5V85.8M266.8 76.5h2M266.8 85.8h2M274.3 74.9V84.2M273.3 74.9h2M273.3 84.2h2M280.9 73.3V82.6M279.9 73.3h2M279.9 82.6h2M287.4 71.9V81.2M286.4 71.9h2M286.4 81.2h2M293.9 71.4V80.7M292.9 71.4h2M292.9 80.7h2M300.5 68.9V79.1M299.5 68.9h2M299.5 79.1h2M307.1 66.3V76.5M306.1 66.3h2M306.1 76.5h2M313.6 65.4V75.6M312.6 65.4h2M312.6 75.6h2M320.1 64.9V75.1M319.1 64.9h2M319.1 75.1h2M326.7 61.9V73.0M325.7 61.9h2M325.7 73.0h2" stroke="#f7941e" stroke-width="0.65" fill="none"/>
<path d="M207.8 108.3a1 1 0 1 0 2 0a1 1 0 1 0 -2 0M214.4 97.9a1 1 0 1 0 2 0a1 1 0 1 0 -2 0M220.9 94.6a1 1 0 1 0 2 0a1 1 0 1 0 -2 0M227.5 90.2a1 1 0 1 0 2 0a1 1 0 1 0 -2 0M234.0 88.1a1 1 0 1 0 2 0a1 1 0 1 0 -2 0M240.6 86.7a1 1 0 1 0 2 0a1 1 0 1 0 -2 0M247.1 84.9a1 1 0 1 0 2 0a1 1 0 1 0 -2 0M253.7 84.4a1 1 0 1 0 2 0a1 1 0 1 0 -2 0M260.2 82.6a1 1 0 1 0 2 0a1 1 0 1 0 -2 0M266.8 81.2a1 1 0 1 0 2 0a1 1 0 1 0 -2 0M273.3 79.5a1 1 0 1 0 2 0a1 1 0 1 0 -2 0M279.9 77.9a1 1 0 1 0 2 0a1 1 0 1 0 -2 0M286.4 76.5a1 1 0 1 0 2 0a1 1 0 1 0 -2 0M292.9 76.1a1 1 0 1 0 2 0a1 1 0 1 0 -2 0M299.5 74.0a1 1 0 1 0 2 0a1 1 0 1 0 -2 0M306.1 71.4a1 1 0 1 0 2 0a1 1 0 1 0 -2 0M312.6 70.5a1 1 0 1 0 2 0a1 1 0 1 0 -2 0M319.1 70.0a1 1 0 1 0 2 0a1 1 0 1 0 -2 0M325.7 67.5a1 1 0 1 0 2 0a1 1 0 1 0 -2 0" fill="#f7941e"/>
<polyline points="208.80,114.10 215.35,78.14 221.90,73.50 228.45,68.86 235.00,63.53 241.55,61.67 248.10,58.42 254.65,55.87 261.20,55.18 267.75,54.02 274.30,48.91 280.85,49.38 287.40,45.90 293.95,44.97 300.50,44.97 307.05,40.33 313.60,39.40 320.15,38.01 326.70,37.54" fill="none" stroke="#cc1f48" stroke-width="0.75"/>
<path d="M208.8 112.9V115.3M207.8 112.9h2M207.8 115.3h2M215.4 73.0V83.2M214.4 73.0h2M214.4 83.2h2M221.9 67.7V79.3M220.9 67.7h2M220.9 79.3h2M228.5 63.1V74.7M227.5 63.1h2M227.5 74.7h2M235.0 57.7V69.3M234.0 57.7h2M234.0 69.3h2M241.6 55.2V68.2M240.6 55.2h2M240.6 68.2h2M248.1 51.5V65.4M247.1 51.5h2M247.1 65.4h2M254.7 48.9V62.8M253.7 48.9h2M253.7 62.8h2M261.2 48.2V62.1M260.2 48.2h2M260.2 62.1h2M267.8 47.1V61.0M266.8 47.1h2M266.8 61.0h2M274.3 40.8V57.0M273.3 40.8h2M273.3 57.0h2M280.9 41.3V57.5M279.9 41.3h2M279.9 57.5h2M287.4 37.8V54.0M286.4 37.8h2M286.4 54.0h2M293.9 36.8V53.1M292.9 36.8h2M292.9 53.1h2M300.5 36.8V53.1M299.5 36.8h2M299.5 53.1h2M307.1 31.5V49.1M306.1 31.5h2M306.1 49.1h2M313.6 30.6V48.2M312.6 30.6h2M312.6 48.2h2M320.1 29.2V46.8M319.1 29.2h2M319.1 46.8h2M326.7 28.7V46.4M325.7 28.7h2M325.7 46.4h2" stroke="#cc1f48" stroke-width="0.65" fill="none"/>
<path d="M207.8 114.1a1 1 0 1 0 2 0a1 1 0 1 0 -2 0M214.4 78.1a1 1 0 1 0 2 0a1 1 0 1 0 -2 0M220.9 73.5a1 1 0 1 0 2 0a1 1 0 1 0 -2 0M227.5 68.9a1 1 0 1 0 2 0a1 1 0 1 0 -2 0M234.0 63.5a1 1 0 1 0 2 0a1 1 0 1 0 -2 0M240.6 61.7a1 1 0 1 0 2 0a1 1 0 1 0 -2 0M247.1 58.4a1 1 0 1 0 2 0a1 1 0 1 0 -2 0M253.7 55.9a1 1 0 1 0 2 0a1 1 0 1 0 -2 0M260.2 55.2a1 1 0 1 0 2 0a1 1 0 1 0 -2 0M266.8 54.0a1 1 0 1 0 2 0a1 1 0 1 0 -2 0M273.3 48.9a1 1 0 1 0 2 0a1 1 0 1 0 -2 0M279.9 49.4a1 1 0 1 0 2 0a1 1 0 1 0 -2 0M286.4 45.9a1 1 0 1 0 2 0a1 1 0 1 0 -2 0M292.9 45.0a1 1 0 1 0 2 0a1 1 0 1 0 -2 0M299.5 45.0a1 1 0 1 0 2 0a1 1 0 1 0 -2 0M306.1 40.3a1 1 0 1 0 2 0a1 1 0 1 0 -2 0M312.6 39.4a1 1 0 1 0 2 0a1 1 0 1 0 -2 0M319.1 38.0a1 1 0 1 0 2 0a1 1 0 1 0 -2 0M325.7 37.5a1 1 0 1 0 2 0a1 1 0 1 0 -2 0" fill="#cc1f48"/>
<line x1="208.80" y1="23.60" x2="208.80" y2="121.10" stroke="#111" stroke-width="1.1" />
<line x1="208.30" y1="120.60" x2="330.40" y2="120.60" stroke="#111" stroke-width="1.1" />
<line x1="205.80" y1="120.60" x2="208.80" y2="120.60" stroke="#111" stroke-width="0.8" />
<text x="203.50" y="123.90" font-size="8.8" text-anchor="end" fill="#222" textLength="4.40" lengthAdjust="spacingAndGlyphs"  stroke="#222" stroke-width="0.15">0</text>
<line x1="205.80" y1="97.40" x2="208.80" y2="97.40" stroke="#111" stroke-width="0.8" />
<text x="203.50" y="100.70" font-size="8.8" text-anchor="end" fill="#222" textLength="13.20" lengthAdjust="spacingAndGlyphs"  stroke="#222" stroke-width="0.15">100</text>
<line x1="205.80" y1="74.20" x2="208.80" y2="74.20" stroke="#111" stroke-width="0.8" />
<text x="203.50" y="77.50" font-size="8.8" text-anchor="end" fill="#222" textLength="13.20" lengthAdjust="spacingAndGlyphs"  stroke="#222" stroke-width="0.15">200</text>
<line x1="205.80" y1="51.00" x2="208.80" y2="51.00" stroke="#111" stroke-width="0.8" />
<text x="203.50" y="54.30" font-size="8.8" text-anchor="end" fill="#222" textLength="13.20" lengthAdjust="spacingAndGlyphs"  stroke="#222" stroke-width="0.15">300</text>
<line x1="205.80" y1="27.80" x2="208.80" y2="27.80" stroke="#111" stroke-width="0.8" />
<text x="203.50" y="31.10" font-size="8.8" text-anchor="end" fill="#222" textLength="13.20" lengthAdjust="spacingAndGlyphs"  stroke="#222" stroke-width="0.15">400</text>
<line x1="208.80" y1="120.60" x2="208.80" y2="123.30" stroke="#111" stroke-width="0.8" />
<text x="208.80" y="133.20" font-size="8.2" text-anchor="middle" fill="#222"  stroke="#222" stroke-width="0.15">0</text>
<line x1="221.90" y1="120.60" x2="221.90" y2="123.30" stroke="#111" stroke-width="0.8" />
<text x="221.90" y="133.20" font-size="8.2" text-anchor="middle" fill="#222"  stroke="#222" stroke-width="0.15">2</text>
<line x1="235.00" y1="120.60" x2="235.00" y2="123.30" stroke="#111" stroke-width="0.8" />
<text x="235.00" y="133.20" font-size="8.2" text-anchor="middle" fill="#222"  stroke="#222" stroke-width="0.15">4</text>
<line x1="248.10" y1="120.60" x2="248.10" y2="123.30" stroke="#111" stroke-width="0.8" />
<text x="248.10" y="133.20" font-size="8.2" text-anchor="middle" fill="#222"  stroke="#222" stroke-width="0.15">6</text>
<line x1="261.20" y1="120.60" x2="261.20" y2="123.30" stroke="#111" stroke-width="0.8" />
<text x="261.20" y="133.20" font-size="8.2" text-anchor="middle" fill="#222"  stroke="#222" stroke-width="0.15">8</text>
<line x1="274.30" y1="120.60" x2="274.30" y2="123.30" stroke="#111" stroke-width="0.8" />
<text x="274.30" y="133.20" font-size="8.2" text-anchor="middle" fill="#222"  stroke="#222" stroke-width="0.15">10</text>
<line x1="287.40" y1="120.60" x2="287.40" y2="123.30" stroke="#111" stroke-width="0.8" />
<text x="287.40" y="133.20" font-size="8.2" text-anchor="middle" fill="#222"  stroke="#222" stroke-width="0.15">12</text>
<line x1="300.50" y1="120.60" x2="300.50" y2="123.30" stroke="#111" stroke-width="0.8" />
<text x="300.50" y="133.20" font-size="8.2" text-anchor="middle" fill="#222"  stroke="#222" stroke-width="0.15">14</text>
<line x1="313.60" y1="120.60" x2="313.60" y2="123.30" stroke="#111" stroke-width="0.8" />
<text x="313.60" y="133.20" font-size="8.2" text-anchor="middle" fill="#222"  stroke="#222" stroke-width="0.15">16</text>
<line x1="326.70" y1="120.60" x2="326.70" y2="123.30" stroke="#111" stroke-width="0.8" />
<text x="326.70" y="133.20" font-size="8.2" text-anchor="middle" fill="#222"  stroke="#222" stroke-width="0.15">18</text>
<text x="261.00" y="25.80" font-size="9" text-anchor="middle" fill="#000" textLength="21.80" lengthAdjust="spacingAndGlyphs"  stroke="#000" stroke-width="0.15">U937</text>
<text x="267.30" y="143.20" font-size="8.6" text-anchor="middle" fill="#222" textLength="41.60" lengthAdjust="spacingAndGlyphs"  stroke="#222" stroke-width="0.15">Time (hours)</text>
<text x="0" y="0" font-size="9.8" text-anchor="middle" fill="#222" textLength="76.70" lengthAdjust="spacingAndGlyphs" transform="translate(184.60,72.00) rotate(-90)"  stroke="#222" stroke-width="0.15">Annexin-V(+)cells/field</text>
<line x1="212.90" y1="150.30" x2="218.70" y2="150.30" stroke="#34506e" stroke-width="1.0" />
<circle cx="215.80" cy="150.30" r="0.9" fill="#34506e"/>
<text x="220.90" y="152.75" font-size="7.0" text-anchor="start" fill="#2a2a2a" textLength="51.80" lengthAdjust="spacingAndGlyphs" stroke="#2a2a2a" stroke-width="0.12">Scrambled ShRNA</text>
<line x1="212.90" y1="156.30" x2="218.70" y2="156.30" stroke="#8f87d2" stroke-width="1.0" />
<circle cx="215.80" cy="156.30" r="0.9" fill="#8f87d2"/>
<text x="220.90" y="158.75" font-size="7.0" text-anchor="start" fill="#2a2a2a" textLength="41.80" lengthAdjust="spacingAndGlyphs" stroke="#2a2a2a" stroke-width="0.12">B7-H3 KD cells</text>
<line x1="212.90" y1="162.10" x2="218.70" y2="162.10" stroke="#17508a" stroke-width="1.0" />
<circle cx="215.80" cy="162.10" r="0.9" fill="#17508a"/>
<text x="220.90" y="164.55" font-size="7.0" text-anchor="start" fill="#2a2a2a" textLength="84.50" lengthAdjust="spacingAndGlyphs" stroke="#2a2a2a" stroke-width="0.12">Scrambled Sh RNA + NK cells</text>
<line x1="212.90" y1="168.70" x2="218.70" y2="168.70" stroke="#cc1f48" stroke-width="1.0" />
<circle cx="215.80" cy="168.70" r="0.9" fill="#cc1f48"/>
<text x="220.90" y="171.15" font-size="7.0" text-anchor="start" fill="#2a2a2a" textLength="58.70" lengthAdjust="spacingAndGlyphs" stroke="#2a2a2a" stroke-width="0.12">B7-H3 KD + NK cells</text>
<line x1="212.90" y1="174.50" x2="218.70" y2="174.50" stroke="#3bb54a" stroke-width="1.0" />
<circle cx="215.80" cy="174.50" r="0.9" fill="#3bb54a"/>
<text x="220.90" y="176.95" font-size="7.0" text-anchor="start" fill="#2a2a2a" textLength="62.20" lengthAdjust="spacingAndGlyphs" stroke="#2a2a2a" stroke-width="0.12">Scr ShRNA + rhB7-H3</text>
<line x1="212.90" y1="181.40" x2="218.70" y2="181.40" stroke="#5e2d86" stroke-width="1.0" />
<circle cx="215.80" cy="181.40" r="0.9" fill="#5e2d86"/>
<text x="220.90" y="183.85" font-size="7.0" text-anchor="start" fill="#2a2a2a" textLength="59.20" lengthAdjust="spacingAndGlyphs" stroke="#2a2a2a" stroke-width="0.12">B7-H3 KD + rhB7-H3</text>
<line x1="212.90" y1="188.10" x2="218.70" y2="188.10" stroke="#35aae3" stroke-width="1.0" />
<circle cx="215.80" cy="188.10" r="0.9" fill="#35aae3"/>
<text x="220.90" y="190.55" font-size="7.0" text-anchor="start" fill="#2a2a2a" textLength="92.60" lengthAdjust="spacingAndGlyphs" stroke="#2a2a2a" stroke-width="0.12">Scr ShRNA + rhB7-H3 + NK cells</text>
<line x1="212.90" y1="194.50" x2="218.70" y2="194.50" stroke="#f7941e" stroke-width="1.0" />
<circle cx="215.80" cy="194.50" r="0.9" fill="#f7941e"/>
<text x="220.90" y="196.95" font-size="7.0" text-anchor="start" fill="#2a2a2a" textLength="91.50" lengthAdjust="spacingAndGlyphs" stroke="#2a2a2a" stroke-width="0.12">B7-H3 KD + rh B7-H3 + NK cells</text>
<polyline points="366.70,120.56 376.50,118.22 386.30,116.57 396.10,115.39 405.90,114.45 415.70,113.52 425.50,112.81 435.30,112.10 445.10,111.40 454.90,110.93 464.70,110.46 474.50,109.87 484.30,109.28 494.10,108.70 503.90,108.11" fill="none" stroke="#8f87d2" stroke-width="0.75"/>
<path d="M365.7 120.6a1 1 0 1 0 2 0a1 1 0 1 0 -2 0M375.5 118.2a1 1 0 1 0 2 0a1 1 0 1 0 -2 0M385.3 116.6a1 1 0 1 0 2 0a1 1 0 1 0 -2 0M395.1 115.4a1 1 0 1 0 2 0a1 1 0 1 0 -2 0M404.9 114.5a1 1 0 1 0 2 0a1 1 0 1 0 -2 0M414.7 113.5a1 1 0 1 0 2 0a1 1 0 1 0 -2 0M424.5 112.8a1 1 0 1 0 2 0a1 1 0 1 0 -2 0M434.3 112.1a1 1 0 1 0 2 0a1 1 0 1 0 -2 0M444.1 111.4a1 1 0 1 0 2 0a1 1 0 1 0 -2 0M453.9 110.9a1 1 0 1 0 2 0a1 1 0 1 0 -2 0M463.7 110.5a1 1 0 1 0 2 0a1 1 0 1 0 -2 0M473.5 109.9a1 1 0 1 0 2 0a1 1 0 1 0 -2 0M483.3 109.3a1 1 0 1 0 2 0a1 1 0 1 0 -2 0M493.1 108.7a1 1 0 1 0 2 0a1 1 0 1 0 -2 0M502.9 108.1a1 1 0 1 0 2 0a1 1 0 1 0 -2 0" fill="#8f87d2"/>
<polyline points="366.70,120.56 376.50,117.86 386.30,116.10 396.10,114.92 405.90,113.98 415.70,113.05 425.50,112.34 435.30,111.63 445.10,110.93 454.90,110.46 464.70,109.99 474.50,109.40 484.30,108.81 494.10,108.23 503.90,107.64" fill="none" stroke="#5e2d86" stroke-width="0.75"/>
<path d="M365.7 120.6a1 1 0 1 0 2 0a1 1 0 1 0 -2 0M375.5 117.9a1 1 0 1 0 2 0a1 1 0 1 0 -2 0M385.3 116.1a1 1 0 1 0 2 0a1 1 0 1 0 -2 0M395.1 114.9a1 1 0 1 0 2 0a1 1 0 1 0 -2 0M404.9 114.0a1 1 0 1 0 2 0a1 1 0 1 0 -2 0M414.7 113.0a1 1 0 1 0 2 0a1 1 0 1 0 -2 0M424.5 112.3a1 1 0 1 0 2 0a1 1 0 1 0 -2 0M434.3 111.6a1 1 0 1 0 2 0a1 1 0 1 0 -2 0M444.1 110.9a1 1 0 1 0 2 0a1 1 0 1 0 -2 0M453.9 110.5a1 1 0 1 0 2 0a1 1 0 1 0 -2 0M463.7 110.0a1 1 0 1 0 2 0a1 1 0 1 0 -2 0M473.5 109.4a1 1 0 1 0 2 0a1 1 0 1 0 -2 0M483.3 108.8a1 1 0 1 0 2 0a1 1 0 1 0 -2 0M493.1 108.2a1 1 0 1 0 2 0a1 1 0 1 0 -2 0M502.9 107.6a1 1 0 1 0 2 0a1 1 0 1 0 -2 0" fill="#5e2d86"/>
<polyline points="366.70,120.45 376.50,117.27 386.30,114.92 396.10,113.52 405.90,112.34 415.70,111.16 425.50,109.99 435.30,109.28 445.10,108.58 454.90,107.88 464.70,107.17 474.50,106.23 484.30,105.53 494.10,104.70 503.90,103.88" fill="none" stroke="#3bb54a" stroke-width="0.75"/>
<path d="M366.7 119.5V121.4M365.7 119.5h2M365.7 121.4h2M376.5 116.3V118.2M375.5 116.3h2M375.5 118.2h2M386.3 114.0V115.9M385.3 114.0h2M385.3 115.9h2M396.1 112.6V114.5M395.1 112.6h2M395.1 114.5h2M405.9 111.4V113.3M404.9 111.4h2M404.9 113.3h2M415.7 110.2V112.1M414.7 110.2h2M414.7 112.1h2M425.5 109.0V110.9M424.5 109.0h2M424.5 110.9h2M435.3 108.3V110.2M434.3 108.3h2M434.3 110.2h2M445.1 107.6V109.5M444.1 107.6h2M444.1 109.5h2M454.9 106.9V108.8M453.9 106.9h2M453.9 108.8h2M464.7 106.2V108.1M463.7 106.2h2M463.7 108.1h2M474.5 105.3V107.2M473.5 105.3h2M473.5 107.2h2M484.3 104.6V106.5M483.3 104.6h2M483.3 106.5h2M494.1 103.8V105.6M493.1 103.8h2M493.1 105.6h2M503.9 102.9V104.8M502.9 102.9h2M502.9 104.8h2" stroke="#3bb54a" stroke-width="0.65" fill="none"/>
<path d="M365.7 120.4a1 1 0 1 0 2 0a1 1 0 1 0 -2 0M375.5 117.3a1 1 0 1 0 2 0a1 1 0 1 0 -2 0M385.3 114.9a1 1 0 1 0 2 0a1 1 0 1 0 -2 0M395.1 113.5a1 1 0 1 0 2 0a1 1 0 1 0 -2 0M404.9 112.3a1 1 0 1 0 2 0a1 1 0 1 0 -2 0M414.7 111.2a1 1 0 1 0 2 0a1 1 0 1 0 -2 0M424.5 110.0a1 1 0 1 0 2 0a1 1 0 1 0 -2 0M434.3 109.3a1 1 0 1 0 2 0a1 1 0 1 0 -2 0M444.1 108.6a1 1 0 1 0 2 0a1 1 0 1 0 -2 0M453.9 107.9a1 1 0 1 0 2 0a1 1 0 1 0 -2 0M463.7 107.2a1 1 0 1 0 2 0a1 1 0 1 0 -2 0M473.5 106.2a1 1 0 1 0 2 0a1 1 0 1 0 -2 0M483.3 105.5a1 1 0 1 0 2 0a1 1 0 1 0 -2 0M493.1 104.7a1 1 0 1 0 2 0a1 1 0 1 0 -2 0M502.9 103.9a1 1 0 1 0 2 0a1 1 0 1 0 -2 0" fill="#3bb54a"/>
<polyline points="366.70,120.45 376.50,116.45 386.30,114.10 396.10,112.58 405.90,111.28 415.70,109.99 425.50,108.58 435.30,107.88 445.10,107.17 454.90,106.23 464.70,105.41 474.50,104.35 484.30,103.41 494.10,102.00 503.90,100.47" fill="none" stroke="#34506e" stroke-width="0.75"/>
<path d="M366.7 119.0V121.9M365.7 119.0h2M365.7 121.9h2M376.5 115.0V117.9M375.5 115.0h2M375.5 117.9h2M386.3 112.7V115.5M385.3 112.7h2M385.3 115.5h2M396.1 111.2V114.0M395.1 111.2h2M395.1 114.0h2M405.9 109.9V112.7M404.9 109.9h2M404.9 112.7h2M415.7 108.6V111.4M414.7 108.6h2M414.7 111.4h2M425.5 107.2V110.0M424.5 107.2h2M424.5 110.0h2M435.3 106.5V109.3M434.3 106.5h2M434.3 109.3h2M445.1 105.8V108.6M444.1 105.8h2M444.1 108.6h2M454.9 104.8V107.6M453.9 104.8h2M453.9 107.6h2M464.7 104.0V106.8M463.7 104.0h2M463.7 106.8h2M474.5 102.9V105.8M473.5 102.9h2M473.5 105.8h2M484.3 102.0V104.8M483.3 102.0h2M483.3 104.8h2M494.1 100.6V103.4M493.1 100.6h2M493.1 103.4h2M503.9 99.1V101.9M502.9 99.1h2M502.9 101.9h2" stroke="#34506e" stroke-width="0.65" fill="none"/>
<path d="M365.7 120.4a1 1 0 1 0 2 0a1 1 0 1 0 -2 0M375.5 116.5a1 1 0 1 0 2 0a1 1 0 1 0 -2 0M385.3 114.1a1 1 0 1 0 2 0a1 1 0 1 0 -2 0M395.1 112.6a1 1 0 1 0 2 0a1 1 0 1 0 -2 0M404.9 111.3a1 1 0 1 0 2 0a1 1 0 1 0 -2 0M414.7 110.0a1 1 0 1 0 2 0a1 1 0 1 0 -2 0M424.5 108.6a1 1 0 1 0 2 0a1 1 0 1 0 -2 0M434.3 107.9a1 1 0 1 0 2 0a1 1 0 1 0 -2 0M444.1 107.2a1 1 0 1 0 2 0a1 1 0 1 0 -2 0M453.9 106.2a1 1 0 1 0 2 0a1 1 0 1 0 -2 0M463.7 105.4a1 1 0 1 0 2 0a1 1 0 1 0 -2 0M473.5 104.3a1 1 0 1 0 2 0a1 1 0 1 0 -2 0M483.3 103.4a1 1 0 1 0 2 0a1 1 0 1 0 -2 0M493.1 102.0a1 1 0 1 0 2 0a1 1 0 1 0 -2 0M502.9 100.5a1 1 0 1 0 2 0a1 1 0 1 0 -2 0" fill="#34506e"/>
<polyline points="366.70,120.21 376.50,112.10 386.30,107.76 396.10,104.82 405.90,101.41 415.70,98.47 425.50,95.54 435.30,93.19 445.10,91.19 454.90,89.08 464.70,87.08 474.50,85.20 484.30,83.44 494.10,81.56 503.90,79.79" fill="none" stroke="#f7941e" stroke-width="0.75"/>
<path d="M366.7 119.0V121.4M365.7 119.0h2M365.7 121.4h2M376.5 110.9V113.3M375.5 110.9h2M375.5 113.3h2M386.3 106.6V108.9M385.3 106.6h2M385.3 108.9h2M396.1 103.6V106.0M395.1 103.6h2M395.1 106.0h2M405.9 100.2V102.6M404.9 100.2h2M404.9 102.6h2M415.7 97.3V99.7M414.7 97.3h2M414.7 99.7h2M425.5 94.4V96.7M424.5 94.4h2M424.5 96.7h2M435.3 92.0V94.4M434.3 92.0h2M434.3 94.4h2M445.1 90.0V92.4M444.1 90.0h2M444.1 92.4h2M454.9 87.9V90.2M453.9 87.9h2M453.9 90.2h2M464.7 85.9V88.3M463.7 85.9h2M463.7 88.3h2M474.5 84.0V86.4M473.5 84.0h2M473.5 86.4h2M484.3 82.3V84.6M483.3 82.3h2M483.3 84.6h2M494.1 80.4V82.7M493.1 80.4h2M493.1 82.7h2M503.9 78.6V81.0M502.9 78.6h2M502.9 81.0h2" stroke="#f7941e" stroke-width="0.65" fill="none"/>
<path d="M365.7 120.2a1 1 0 1 0 2 0a1 1 0 1 0 -2 0M375.5 112.1a1 1 0 1 0 2 0a1 1 0 1 0 -2 0M385.3 107.8a1 1 0 1 0 2 0a1 1 0 1 0 -2 0M395.1 104.8a1 1 0 1 0 2 0a1 1 0 1 0 -2 0M404.9 101.4a1 1 0 1 0 2 0a1 1 0 1 0 -2 0M414.7 98.5a1 1 0 1 0 2 0a1 1 0 1 0 -2 0M424.5 95.5a1 1 0 1 0 2 0a1 1 0 1 0 -2 0M434.3 93.2a1 1 0 1 0 2 0a1 1 0 1 0 -2 0M444.1 91.2a1 1 0 1 0 2 0a1 1 0 1 0 -2 0M453.9 89.1a1 1 0 1 0 2 0a1 1 0 1 0 -2 0M463.7 87.1a1 1 0 1 0 2 0a1 1 0 1 0 -2 0M473.5 85.2a1 1 0 1 0 2 0a1 1 0 1 0 -2 0M483.3 83.4a1 1 0 1 0 2 0a1 1 0 1 0 -2 0M493.1 81.6a1 1 0 1 0 2 0a1 1 0 1 0 -2 0M502.9 79.8a1 1 0 1 0 2 0a1 1 0 1 0 -2 0" fill="#f7941e"/>
<polyline points="366.70,120.21 376.50,112.10 386.30,107.76 396.10,104.82 405.90,101.41 415.70,98.47 425.50,95.54 435.30,93.19 445.10,91.19 454.90,89.08 464.70,87.08 474.50,85.20 484.30,83.44 494.10,81.56 503.90,79.79" fill="none" stroke="#cc1f48" stroke-width="0.75"/>
<path d="M366.7 118.8V121.6M365.7 118.8h2M365.7 121.6h2M376.5 110.7V113.5M375.5 110.7h2M375.5 113.5h2M386.3 106.3V109.2M385.3 106.3h2M385.3 109.2h2M396.1 103.4V106.2M395.1 103.4h2M395.1 106.2h2M405.9 100.0V102.8M404.9 100.0h2M404.9 102.8h2M415.7 97.1V99.9M414.7 97.1h2M414.7 99.9h2M425.5 94.1V96.9M424.5 94.1h2M424.5 96.9h2M435.3 91.8V94.6M434.3 91.8h2M434.3 94.6h2M445.1 89.8V92.6M444.1 89.8h2M444.1 92.6h2M454.9 87.7V90.5M453.9 87.7h2M453.9 90.5h2M464.7 85.7V88.5M463.7 85.7h2M463.7 88.5h2M474.5 83.8V86.6M473.5 83.8h2M473.5 86.6h2M484.3 82.0V84.8M483.3 82.0h2M483.3 84.8h2M494.1 80.1V83.0M493.1 80.1h2M493.1 83.0h2M503.9 78.4V81.2M502.9 78.4h2M502.9 81.2h2" stroke="#cc1f48" stroke-width="0.65" fill="none"/>
<path d="M365.7 120.2a1 1 0 1 0 2 0a1 1 0 1 0 -2 0M375.5 112.1a1 1 0 1 0 2 0a1 1 0 1 0 -2 0M385.3 107.8a1 1 0 1 0 2 0a1 1 0 1 0 -2 0M395.1 104.8a1 1 0 1 0 2 0a1 1 0 1 0 -2 0M404.9 101.4a1 1 0 1 0 2 0a1 1 0 1 0 -2 0M414.7 98.5a1 1 0 1 0 2 0a1 1 0 1 0 -2 0M424.5 95.5a1 1 0 1 0 2 0a1 1 0 1 0 -2 0M434.3 93.2a1 1 0 1 0 2 0a1 1 0 1 0 -2 0M444.1 91.2a1 1 0 1 0 2 0a1 1 0 1 0 -2 0M453.9 89.1a1 1 0 1 0 2 0a1 1 0 1 0 -2 0M463.7 87.1a1 1 0 1 0 2 0a1 1 0 1 0 -2 0M473.5 85.2a1 1 0 1 0 2 0a1 1 0 1 0 -2 0M483.3 83.4a1 1 0 1 0 2 0a1 1 0 1 0 -2 0M493.1 81.6a1 1 0 1 0 2 0a1 1 0 1 0 -2 0M502.9 79.8a1 1 0 1 0 2 0a1 1 0 1 0 -2 0" fill="#cc1f48"/>
<polyline points="366.70,120.21 376.50,109.05 386.30,104.58 396.10,101.65 405.90,99.30 415.70,96.71 425.50,94.36 435.30,92.13 445.10,90.02 454.90,87.90 464.70,85.90 474.50,83.79 484.30,81.79 494.10,79.44 503.90,77.21" fill="none" stroke="#17508a" stroke-width="0.75"/>
<path d="M366.7 118.6V121.9M365.7 118.6h2M365.7 121.9h2M376.5 107.4V110.7M375.5 107.4h2M375.5 110.7h2M386.3 102.9V106.2M385.3 102.9h2M385.3 106.2h2M396.1 100.0V103.3M395.1 100.0h2M395.1 103.3h2M405.9 97.7V100.9M404.9 97.7h2M404.9 100.9h2M415.7 95.1V98.4M414.7 95.1h2M414.7 98.4h2M425.5 92.7V96.0M424.5 92.7h2M424.5 96.0h2M435.3 90.5V93.8M434.3 90.5h2M434.3 93.8h2M445.1 88.4V91.7M444.1 88.4h2M444.1 91.7h2M454.9 86.3V89.5M453.9 86.3h2M453.9 89.5h2M464.7 84.3V87.5M463.7 84.3h2M463.7 87.5h2M474.5 82.1V85.4M473.5 82.1h2M473.5 85.4h2M484.3 80.1V83.4M483.3 80.1h2M483.3 83.4h2M494.1 77.8V81.1M493.1 77.8h2M493.1 81.1h2M503.9 75.6V78.9M502.9 75.6h2M502.9 78.9h2" stroke="#17508a" stroke-width="0.65" fill="none"/>
<path d="M365.7 120.2a1 1 0 1 0 2 0a1 1 0 1 0 -2 0M375.5 109.0a1 1 0 1 0 2 0a1 1 0 1 0 -2 0M385.3 104.6a1 1 0 1 0 2 0a1 1 0 1 0 -2 0M395.1 101.6a1 1 0 1 0 2 0a1 1 0 1 0 -2 0M404.9 99.3a1 1 0 1 0 2 0a1 1 0 1 0 -2 0M414.7 96.7a1 1 0 1 0 2 0a1 1 0 1 0 -2 0M424.5 94.4a1 1 0 1 0 2 0a1 1 0 1 0 -2 0M434.3 92.1a1 1 0 1 0 2 0a1 1 0 1 0 -2 0M444.1 90.0a1 1 0 1 0 2 0a1 1 0 1 0 -2 0M453.9 87.9a1 1 0 1 0 2 0a1 1 0 1 0 -2 0M463.7 85.9a1 1 0 1 0 2 0a1 1 0 1 0 -2 0M473.5 83.8a1 1 0 1 0 2 0a1 1 0 1 0 -2 0M483.3 81.8a1 1 0 1 0 2 0a1 1 0 1 0 -2 0M493.1 79.4a1 1 0 1 0 2 0a1 1 0 1 0 -2 0M502.9 77.2a1 1 0 1 0 2 0a1 1 0 1 0 -2 0" fill="#17508a"/>
<polyline points="366.70,120.21 376.50,108.34 386.30,103.41 396.10,100.47 405.90,98.12 415.70,95.54 425.50,93.19 435.30,90.95 445.10,88.84 454.90,86.61 464.70,84.49 474.50,82.26 484.30,80.14 494.10,76.38 503.90,73.56" fill="none" stroke="#35aae3" stroke-width="0.75"/>
<path d="M366.7 118.3V122.1M365.7 118.3h2M365.7 122.1h2M376.5 106.5V110.2M375.5 106.5h2M375.5 110.2h2M386.3 101.5V105.3M385.3 101.5h2M385.3 105.3h2M396.1 98.6V102.4M395.1 98.6h2M395.1 102.4h2M405.9 96.2V100.0M404.9 96.2h2M404.9 100.0h2M415.7 93.7V97.4M414.7 93.7h2M414.7 97.4h2M425.5 91.3V95.1M424.5 91.3h2M424.5 95.1h2M435.3 89.1V92.8M434.3 89.1h2M434.3 92.8h2M445.1 87.0V90.7M444.1 87.0h2M444.1 90.7h2M454.9 84.7V88.5M453.9 84.7h2M453.9 88.5h2M464.7 82.6V86.4M463.7 82.6h2M463.7 86.4h2M474.5 80.4V84.1M473.5 80.4h2M473.5 84.1h2M484.3 78.3V82.0M483.3 78.3h2M483.3 82.0h2M494.1 74.5V78.3M493.1 74.5h2M493.1 78.3h2M503.9 71.7V75.4M502.9 71.7h2M502.9 75.4h2" stroke="#35aae3" stroke-width="0.65" fill="none"/>
<path d="M365.7 120.2a1 1 0 1 0 2 0a1 1 0 1 0 -2 0M375.5 108.3a1 1 0 1 0 2 0a1 1 0 1 0 -2 0M385.3 103.4a1 1 0 1 0 2 0a1 1 0 1 0 -2 0M395.1 100.5a1 1 0 1 0 2 0a1 1 0 1 0 -2 0M404.9 98.1a1 1 0 1 0 2 0a1 1 0 1 0 -2 0M414.7 95.5a1 1 0 1 0 2 0a1 1 0 1 0 -2 0M424.5 93.2a1 1 0 1 0 2 0a1 1 0 1 0 -2 0M434.3 91.0a1 1 0 1 0 2 0a1 1 0 1 0 -2 0M444.1 88.8a1 1 0 1 0 2 0a1 1 0 1 0 -2 0M453.9 86.6a1 1 0 1 0 2 0a1 1 0 1 0 -2 0M463.7 84.5a1 1 0 1 0 2 0a1 1 0 1 0 -2 0M473.5 82.3a1 1 0 1 0 2 0a1 1 0 1 0 -2 0M483.3 80.1a1 1 0 1 0 2 0a1 1 0 1 0 -2 0M493.1 76.4a1 1 0 1 0 2 0a1 1 0 1 0 -2 0M502.9 73.6a1 1 0 1 0 2 0a1 1 0 1 0 -2 0" fill="#35aae3"/>
<polyline points="366.70,119.62 376.50,91.78 386.30,83.08 396.10,76.74 405.90,71.80 415.70,66.52 425.50,60.41 435.30,56.41 445.10,52.06 454.90,49.48 464.70,45.95 474.50,43.60 484.30,41.96 494.10,39.96 503.90,37.73" fill="none" stroke="#cc1f48" stroke-width="0.75"/>
<path d="M376.5 90.1V93.4M375.5 90.1h2M375.5 93.4h2M386.3 81.4V84.7M385.3 81.4h2M385.3 84.7h2M396.1 75.1V78.4M395.1 75.1h2M395.1 78.4h2M405.9 70.2V73.4M404.9 70.2h2M404.9 73.4h2M415.7 64.9V68.2M414.7 64.9h2M414.7 68.2h2M425.5 58.8V62.0M424.5 58.8h2M424.5 62.0h2M435.3 54.8V58.1M434.3 54.8h2M434.3 58.1h2M445.1 50.4V53.7M444.1 50.4h2M444.1 53.7h2M454.9 47.8V51.1M453.9 47.8h2M453.9 51.1h2M464.7 44.3V47.6M463.7 44.3h2M463.7 47.6h2M474.5 42.0V45.2M473.5 42.0h2M473.5 45.2h2M484.3 40.3V43.6M483.3 40.3h2M483.3 43.6h2M494.1 38.3V41.6M493.1 38.3h2M493.1 41.6h2M503.9 36.1V39.4M502.9 36.1h2M502.9 39.4h2" stroke="#cc1f48" stroke-width="0.65" fill="none"/>
<path d="M365.7 119.6a1 1 0 1 0 2 0a1 1 0 1 0 -2 0M375.5 91.8a1 1 0 1 0 2 0a1 1 0 1 0 -2 0M385.3 83.1a1 1 0 1 0 2 0a1 1 0 1 0 -2 0M395.1 76.7a1 1 0 1 0 2 0a1 1 0 1 0 -2 0M404.9 71.8a1 1 0 1 0 2 0a1 1 0 1 0 -2 0M414.7 66.5a1 1 0 1 0 2 0a1 1 0 1 0 -2 0M424.5 60.4a1 1 0 1 0 2 0a1 1 0 1 0 -2 0M434.3 56.4a1 1 0 1 0 2 0a1 1 0 1 0 -2 0M444.1 52.1a1 1 0 1 0 2 0a1 1 0 1 0 -2 0M453.9 49.5a1 1 0 1 0 2 0a1 1 0 1 0 -2 0M463.7 46.0a1 1 0 1 0 2 0a1 1 0 1 0 -2 0M473.5 43.6a1 1 0 1 0 2 0a1 1 0 1 0 -2 0M483.3 42.0a1 1 0 1 0 2 0a1 1 0 1 0 -2 0M493.1 40.0a1 1 0 1 0 2 0a1 1 0 1 0 -2 0M502.9 37.7a1 1 0 1 0 2 0a1 1 0 1 0 -2 0" fill="#cc1f48"/>
<line x1="366.70" y1="21.70" x2="366.70" y2="121.30" stroke="#111" stroke-width="1.1" />
<line x1="366.20" y1="120.80" x2="506.70" y2="120.80" stroke="#111" stroke-width="1.1" />
<line x1="363.70" y1="120.80" x2="366.70" y2="120.80" stroke="#111" stroke-width="0.8" />
<text x="361.80" y="124.10" font-size="8.8" text-anchor="end" fill="#222" textLength="4.40" lengthAdjust="spacingAndGlyphs"  stroke="#222" stroke-width="0.15">0</text>
<line x1="363.70" y1="97.30" x2="366.70" y2="97.30" stroke="#111" stroke-width="0.8" />
<text x="361.80" y="100.60" font-size="8.8" text-anchor="end" fill="#222" textLength="13.20" lengthAdjust="spacingAndGlyphs"  stroke="#222" stroke-width="0.15">200</text>
<line x1="363.70" y1="73.80" x2="366.70" y2="73.80" stroke="#111" stroke-width="0.8" />
<text x="361.80" y="77.10" font-size="8.8" text-anchor="end" fill="#222" textLength="13.20" lengthAdjust="spacingAndGlyphs"  stroke="#222" stroke-width="0.15">400</text>
<line x1="363.70" y1="50.30" x2="366.70" y2="50.30" stroke="#111" stroke-width="0.8" />
<text x="361.80" y="53.60" font-size="8.8" text-anchor="end" fill="#222" textLength="13.20" lengthAdjust="spacingAndGlyphs"  stroke="#222" stroke-width="0.15">600</text>
<line x1="363.70" y1="26.80" x2="366.70" y2="26.80" stroke="#111" stroke-width="0.8" />
<text x="361.80" y="30.10" font-size="8.8" text-anchor="end" fill="#222" textLength="13.20" lengthAdjust="spacingAndGlyphs"  stroke="#222" stroke-width="0.15">800</text>
<line x1="366.70" y1="120.80" x2="366.70" y2="123.50" stroke="#111" stroke-width="0.8" />
<text x="366.70" y="133.40" font-size="8.2" text-anchor="middle" fill="#222"  stroke="#222" stroke-width="0.15">0</text>
<line x1="386.30" y1="120.80" x2="386.30" y2="123.50" stroke="#111" stroke-width="0.8" />
<text x="386.30" y="133.40" font-size="8.2" text-anchor="middle" fill="#222"  stroke="#222" stroke-width="0.15">2</text>
<line x1="405.90" y1="120.80" x2="405.90" y2="123.50" stroke="#111" stroke-width="0.8" />
<text x="405.90" y="133.40" font-size="8.2" text-anchor="middle" fill="#222"  stroke="#222" stroke-width="0.15">4</text>
<line x1="425.50" y1="120.80" x2="425.50" y2="123.50" stroke="#111" stroke-width="0.8" />
<text x="425.50" y="133.40" font-size="8.2" text-anchor="middle" fill="#222"  stroke="#222" stroke-width="0.15">6</text>
<line x1="445.10" y1="120.80" x2="445.10" y2="123.50" stroke="#111" stroke-width="0.8" />
<text x="445.10" y="133.40" font-size="8.2" text-anchor="middle" fill="#222"  stroke="#222" stroke-width="0.15">8</text>
<line x1="464.70" y1="120.80" x2="464.70" y2="123.50" stroke="#111" stroke-width="0.8" />
<text x="464.70" y="133.40" font-size="8.2" text-anchor="middle" fill="#222"  stroke="#222" stroke-width="0.15">10</text>
<line x1="484.30" y1="120.80" x2="484.30" y2="123.50" stroke="#111" stroke-width="0.8" />
<text x="484.30" y="133.40" font-size="8.2" text-anchor="middle" fill="#222"  stroke="#222" stroke-width="0.15">12</text>
<line x1="503.90" y1="120.80" x2="503.90" y2="123.50" stroke="#111" stroke-width="0.8" />
<text x="503.90" y="133.40" font-size="8.2" text-anchor="middle" fill="#222"  stroke="#222" stroke-width="0.15">14</text>
<text x="433.70" y="23.20" font-size="9" text-anchor="middle" fill="#000" textLength="45.00" lengthAdjust="spacingAndGlyphs"  stroke="#000" stroke-width="0.15">OCI-AML3</text>
<text x="437.30" y="143.20" font-size="8.6" text-anchor="middle" fill="#222" textLength="41.60" lengthAdjust="spacingAndGlyphs"  stroke="#222" stroke-width="0.15">Time (hours)</text>
<text x="0" y="0" font-size="9.8" text-anchor="middle" fill="#222" textLength="75.90" lengthAdjust="spacingAndGlyphs" transform="translate(341.60,71.50) rotate(-90)"  stroke="#222" stroke-width="0.15">Annexin-V(+)cells/field</text>
<line x1="371.00" y1="150.30" x2="376.80" y2="150.30" stroke="#34506e" stroke-width="1.0" />
<circle cx="373.90" cy="150.30" r="0.9" fill="#34506e"/>
<text x="378.80" y="152.75" font-size="7.0" text-anchor="start" fill="#2a2a2a" textLength="51.80" lengthAdjust="spacingAndGlyphs" stroke="#2a2a2a" stroke-width="0.12">Scrambled ShRNA</text>
<line x1="371.00" y1="156.30" x2="376.80" y2="156.30" stroke="#8f87d2" stroke-width="1.0" />
<circle cx="373.90" cy="156.30" r="0.9" fill="#8f87d2"/>
<text x="378.80" y="158.75" font-size="7.0" text-anchor="start" fill="#2a2a2a" textLength="41.80" lengthAdjust="spacingAndGlyphs" stroke="#2a2a2a" stroke-width="0.12">B7-H3 KD cells</text>
<line x1="371.00" y1="162.10" x2="376.80" y2="162.10" stroke="#17508a" stroke-width="1.0" />
<circle cx="373.90" cy="162.10" r="0.9" fill="#17508a"/>
<text x="378.80" y="164.55" font-size="7.0" text-anchor="start" fill="#2a2a2a" textLength="84.50" lengthAdjust="spacingAndGlyphs" stroke="#2a2a2a" stroke-width="0.12">Scrambled Sh RNA + NK cells</text>
<line x1="371.00" y1="168.70" x2="376.80" y2="168.70" stroke="#cc1f48" stroke-width="1.0" />
<circle cx="373.90" cy="168.70" r="0.9" fill="#cc1f48"/>
<text x="378.80" y="171.15" font-size="7.0" text-anchor="start" fill="#2a2a2a" textLength="58.70" lengthAdjust="spacingAndGlyphs" stroke="#2a2a2a" stroke-width="0.12">B7-H3 KD + NK cells</text>
<line x1="371.00" y1="174.50" x2="376.80" y2="174.50" stroke="#3bb54a" stroke-width="1.0" />
<circle cx="373.90" cy="174.50" r="0.9" fill="#3bb54a"/>
<text x="378.80" y="176.95" font-size="7.0" text-anchor="start" fill="#2a2a2a" textLength="62.20" lengthAdjust="spacingAndGlyphs" stroke="#2a2a2a" stroke-width="0.12">Scr ShRNA + rhB7-H3</text>
<line x1="371.00" y1="181.40" x2="376.80" y2="181.40" stroke="#5e2d86" stroke-width="1.0" />
<circle cx="373.90" cy="181.40" r="0.9" fill="#5e2d86"/>
<text x="378.80" y="183.85" font-size="7.0" text-anchor="start" fill="#2a2a2a" textLength="59.20" lengthAdjust="spacingAndGlyphs" stroke="#2a2a2a" stroke-width="0.12">B7-H3 KD + rhB7-H3</text>
<line x1="371.00" y1="188.10" x2="376.80" y2="188.10" stroke="#35aae3" stroke-width="1.0" />
<circle cx="373.90" cy="188.10" r="0.9" fill="#35aae3"/>
<text x="378.80" y="190.55" font-size="7.0" text-anchor="start" fill="#2a2a2a" textLength="92.60" lengthAdjust="spacingAndGlyphs" stroke="#2a2a2a" stroke-width="0.12">Scr ShRNA + rhB7-H3 + NK cells</text>
<line x1="371.00" y1="194.50" x2="376.80" y2="194.50" stroke="#f7941e" stroke-width="1.0" />
<circle cx="373.90" cy="194.50" r="0.9" fill="#f7941e"/>
<text x="378.80" y="196.95" font-size="7.0" text-anchor="start" fill="#2a2a2a" textLength="91.50" lengthAdjust="spacingAndGlyphs" stroke="#2a2a2a" stroke-width="0.12">B7-H3 KD + rh B7-H3 + NK cells</text>
<rect x="49.00" y="299.90" width="9.80" height="12.50" fill="#3f4f66" />
<line x1="53.90" y1="298.30" x2="53.90" y2="299.90" stroke="#222" stroke-width="0.8" />
<line x1="51.30" y1="298.30" x2="56.50" y2="298.30" stroke="#222" stroke-width="0.9" />
<rect x="64.67" y="303.00" width="9.80" height="9.40" fill="#8a84c8" />
<line x1="69.57" y1="301.40" x2="69.57" y2="303.00" stroke="#222" stroke-width="0.8" />
<line x1="66.97" y1="301.40" x2="72.17" y2="301.40" stroke="#222" stroke-width="0.9" />
<rect x="80.34" y="296.20" width="9.80" height="16.20" fill="#3db54a" />
<line x1="85.24" y1="294.70" x2="85.24" y2="296.20" stroke="#222" stroke-width="0.8" />
<line x1="82.64" y1="294.70" x2="87.84" y2="294.70" stroke="#222" stroke-width="0.9" />
<rect x="96.01" y="303.50" width="9.80" height="8.90" fill="#5a2a78" />
<line x1="100.91" y1="301.90" x2="100.91" y2="303.50" stroke="#222" stroke-width="0.8" />
<line x1="98.31" y1="301.90" x2="103.51" y2="301.90" stroke="#222" stroke-width="0.9" />
<rect x="111.68" y="276.20" width="9.80" height="36.20" fill="#174f83" />
<line x1="116.58" y1="273.00" x2="116.58" y2="276.20" stroke="#222" stroke-width="0.8" />
<line x1="113.98" y1="273.00" x2="119.18" y2="273.00" stroke="#222" stroke-width="0.9" />
<rect x="127.35" y="276.20" width="9.80" height="36.20" fill="#2caae3" />
<line x1="132.25" y1="272.00" x2="132.25" y2="276.20" stroke="#222" stroke-width="0.8" />
<line x1="129.65" y1="272.00" x2="134.85" y2="272.00" stroke="#222" stroke-width="0.9" />
<rect x="143.02" y="233.50" width="9.80" height="78.90" fill="#c8102e" />
<line x1="147.92" y1="229.20" x2="147.92" y2="233.50" stroke="#222" stroke-width="0.8" />
<line x1="145.32" y1="229.20" x2="150.52" y2="229.20" stroke="#222" stroke-width="0.9" />
<rect x="158.69" y="283.80" width="9.80" height="28.60" fill="#fb9014" />
<line x1="163.59" y1="281.90" x2="163.59" y2="283.80" stroke="#222" stroke-width="0.8" />
<line x1="160.99" y1="281.90" x2="166.19" y2="281.90" stroke="#222" stroke-width="0.9" />
<line x1="43.10" y1="219.20" x2="43.10" y2="315.40" stroke="#111" stroke-width="1.1" />
<line x1="42.60" y1="312.40" x2="174.90" y2="312.40" stroke="#111" stroke-width="1.1" />
<line x1="39.90" y1="312.40" x2="43.10" y2="312.40" stroke="#111" stroke-width="0.8" />
<text x="37.10" y="315.70" font-size="8.8" text-anchor="end" fill="#222" textLength="4.40" lengthAdjust="spacingAndGlyphs"  stroke="#222" stroke-width="0.15">0</text>
<line x1="39.90" y1="299.65" x2="43.10" y2="299.65" stroke="#111" stroke-width="0.8" />
<text x="37.10" y="302.95" font-size="8.8" text-anchor="end" fill="#222" textLength="13.20" lengthAdjust="spacingAndGlyphs"  stroke="#222" stroke-width="0.15">200</text>
<line x1="39.90" y1="286.90" x2="43.10" y2="286.90" stroke="#111" stroke-width="0.8" />
<text x="37.10" y="290.20" font-size="8.8" text-anchor="end" fill="#222" textLength="13.20" lengthAdjust="spacingAndGlyphs"  stroke="#222" stroke-width="0.15">400</text>
<line x1="39.90" y1="274.15" x2="43.10" y2="274.15" stroke="#111" stroke-width="0.8" />
<text x="37.10" y="277.45" font-size="8.8" text-anchor="end" fill="#222" textLength="13.20" lengthAdjust="spacingAndGlyphs"  stroke="#222" stroke-width="0.15">600</text>
<line x1="39.90" y1="261.40" x2="43.10" y2="261.40" stroke="#111" stroke-width="0.8" />
<text x="37.10" y="264.70" font-size="8.8" text-anchor="end" fill="#222" textLength="13.20" lengthAdjust="spacingAndGlyphs"  stroke="#222" stroke-width="0.15">800</text>
<line x1="39.90" y1="248.65" x2="43.10" y2="248.65" stroke="#111" stroke-width="0.8" />
<text x="37.10" y="251.95" font-size="8.8" text-anchor="end" fill="#222" textLength="17.60" lengthAdjust="spacingAndGlyphs"  stroke="#222" stroke-width="0.15">1000</text>
<line x1="39.90" y1="235.90" x2="43.10" y2="235.90" stroke="#111" stroke-width="0.8" />
<text x="37.10" y="239.20" font-size="8.8" text-anchor="end" fill="#222" textLength="17.60" lengthAdjust="spacingAndGlyphs"  stroke="#222" stroke-width="0.15">1200</text>
<line x1="39.90" y1="223.15" x2="43.10" y2="223.15" stroke="#111" stroke-width="0.8" />
<text x="37.10" y="226.45" font-size="8.8" text-anchor="end" fill="#222" textLength="17.60" lengthAdjust="spacingAndGlyphs"  stroke="#222" stroke-width="0.15">1400</text>
<line x1="53.90" y1="312.40" x2="53.90" y2="315.40" stroke="#111" stroke-width="0.8" />
<text x="0" y="0" font-size="6.7" text-anchor="end" fill="#333" textLength="52.50" lengthAdjust="spacingAndGlyphs" transform="translate(55.90,321.40) rotate(-45)"  stroke="#333" stroke-width="0.15">Scrambled ShRNA</text>
<line x1="69.57" y1="312.40" x2="69.57" y2="315.40" stroke="#111" stroke-width="0.8" />
<text x="0" y="0" font-size="6.7" text-anchor="end" fill="#333" textLength="41.50" lengthAdjust="spacingAndGlyphs" transform="translate(71.57,321.40) rotate(-45)"  stroke="#333" stroke-width="0.15">B7-H3 KD cells</text>
<line x1="85.24" y1="312.40" x2="85.24" y2="315.40" stroke="#111" stroke-width="0.8" />
<text x="0" y="0" font-size="6.7" text-anchor="end" fill="#333" textLength="80.50" lengthAdjust="spacingAndGlyphs" transform="translate(87.24,321.40) rotate(-45)"  stroke="#333" stroke-width="0.15">Scrambled ShRNA + rB7-H3</text>
<line x1="100.91" y1="312.40" x2="100.91" y2="315.40" stroke="#111" stroke-width="0.8" />
<text x="0" y="0" font-size="6.7" text-anchor="end" fill="#333" textLength="68.50" lengthAdjust="spacingAndGlyphs" transform="translate(102.91,321.40) rotate(-45)"  stroke="#333" stroke-width="0.15">B7-H3 KD cells + rB7-H3</text>
<line x1="116.58" y1="312.40" x2="116.58" y2="315.40" stroke="#111" stroke-width="0.8" />
<text x="0" y="0" font-size="6.7" text-anchor="end" fill="#333" textLength="67.50" lengthAdjust="spacingAndGlyphs" transform="translate(118.58,321.40) rotate(-45)"  stroke="#333" stroke-width="0.15">Scrambled ShRNA + NK</text>
<line x1="132.25" y1="312.40" x2="132.25" y2="315.40" stroke="#111" stroke-width="0.8" />
<text x="0" y="0" font-size="6.7" text-anchor="end" fill="#333" textLength="95.50" lengthAdjust="spacingAndGlyphs" transform="translate(134.25,321.40) rotate(-45)"  stroke="#333" stroke-width="0.15">Scrambled ShRNA + rB7-H3 + NK</text>
<line x1="147.92" y1="312.40" x2="147.92" y2="315.40" stroke="#111" stroke-width="0.8" />
<text x="0" y="0" font-size="6.7" text-anchor="end" fill="#333" textLength="58.00" lengthAdjust="spacingAndGlyphs" transform="translate(149.92,321.40) rotate(-45)"  stroke="#333" stroke-width="0.15">B7-H3 KD cells + NK</text>
<line x1="163.59" y1="312.40" x2="163.59" y2="315.40" stroke="#111" stroke-width="0.8" />
<text x="0" y="0" font-size="6.7" text-anchor="end" fill="#333" textLength="92.50" lengthAdjust="spacingAndGlyphs" transform="translate(165.59,321.40) rotate(-45)"  stroke="#333" stroke-width="0.15">B7-H3 KD cells + rh B7-H3 + NK</text>
<text x="101.00" y="218.60" font-size="9" text-anchor="middle" fill="#000" textLength="32.00" lengthAdjust="spacingAndGlyphs"  stroke="#000" stroke-width="0.15">MV4-11</text>
<text x="0" y="0" font-size="9.8" text-anchor="middle" fill="#222" textLength="76.70" lengthAdjust="spacingAndGlyphs" transform="translate(17.00,265.90) rotate(-90)"  stroke="#222" stroke-width="0.15">Annexin-V(+)cells/field</text>
<line x1="147.40" y1="225.50" x2="165.60" y2="225.50" stroke="#1a1a1a" stroke-width="1.0" />
<line x1="147.40" y1="222.30" x2="147.40" y2="228.70" stroke="#1a1a1a" stroke-width="0.9" />
<line x1="165.60" y1="222.30" x2="165.60" y2="228.70" stroke="#1a1a1a" stroke-width="0.9" />
<polygon points="152.25,220.00 152.78,221.27 154.15,221.38 153.11,222.28 153.43,223.62 152.25,222.90 151.07,223.62 151.39,222.28 150.35,221.38 151.72,221.27" fill="#111"/>
<polygon points="156.50,220.00 157.03,221.27 158.40,221.38 157.36,222.28 157.68,223.62 156.50,222.90 155.32,223.62 155.64,222.28 154.60,221.38 155.97,221.27" fill="#111"/>
<polygon points="160.75,220.00 161.28,221.27 162.65,221.38 161.61,222.28 161.93,223.62 160.75,222.90 159.57,223.62 159.89,222.28 158.85,221.38 160.22,221.27" fill="#111"/>
<rect x="212.35" y="298.50" width="9.70" height="14.30" fill="#3f4f66" />
<line x1="217.20" y1="295.90" x2="217.20" y2="298.50" stroke="#222" stroke-width="0.8" />
<line x1="214.60" y1="295.90" x2="219.80" y2="295.90" stroke="#222" stroke-width="0.9" />
<rect x="228.04" y="301.00" width="9.70" height="11.80" fill="#8a84c8" />
<line x1="232.89" y1="299.50" x2="232.89" y2="301.00" stroke="#222" stroke-width="0.8" />
<line x1="230.29" y1="299.50" x2="235.49" y2="299.50" stroke="#222" stroke-width="0.9" />
<rect x="243.73" y="299.00" width="9.70" height="13.80" fill="#3db54a" />
<line x1="248.58" y1="296.90" x2="248.58" y2="299.00" stroke="#222" stroke-width="0.8" />
<line x1="245.98" y1="296.90" x2="251.18" y2="296.90" stroke="#222" stroke-width="0.9" />
<rect x="259.42" y="282.10" width="9.70" height="30.70" fill="#5a2a78" />
<line x1="264.27" y1="278.20" x2="264.27" y2="282.10" stroke="#222" stroke-width="0.8" />
<line x1="261.67" y1="278.20" x2="266.87" y2="278.20" stroke="#222" stroke-width="0.9" />
<rect x="275.11" y="284.50" width="9.70" height="28.30" fill="#174f83" />
<line x1="279.96" y1="281.30" x2="279.96" y2="284.50" stroke="#222" stroke-width="0.8" />
<line x1="277.36" y1="281.30" x2="282.56" y2="281.30" stroke="#222" stroke-width="0.9" />
<rect x="290.80" y="279.40" width="9.70" height="33.40" fill="#2caae3" />
<line x1="295.65" y1="275.40" x2="295.65" y2="279.40" stroke="#222" stroke-width="0.8" />
<line x1="293.05" y1="275.40" x2="298.25" y2="275.40" stroke="#222" stroke-width="0.9" />
<rect x="306.49" y="234.30" width="9.70" height="78.50" fill="#c8102e" />
<line x1="311.34" y1="225.50" x2="311.34" y2="234.30" stroke="#222" stroke-width="0.8" />
<line x1="308.74" y1="225.50" x2="313.94" y2="225.50" stroke="#222" stroke-width="0.9" />
<rect x="322.18" y="262.80" width="9.70" height="50.00" fill="#fb9014" />
<line x1="327.03" y1="256.50" x2="327.03" y2="262.80" stroke="#222" stroke-width="0.8" />
<line x1="324.43" y1="256.50" x2="329.63" y2="256.50" stroke="#222" stroke-width="0.9" />
<line x1="208.80" y1="219.80" x2="208.80" y2="315.80" stroke="#111" stroke-width="1.1" />
<line x1="208.30" y1="312.80" x2="338.00" y2="312.80" stroke="#111" stroke-width="1.1" />
<line x1="205.60" y1="312.80" x2="208.80" y2="312.80" stroke="#111" stroke-width="0.8" />
<text x="203.80" y="316.10" font-size="8.8" text-anchor="end" fill="#222" textLength="4.40" lengthAdjust="spacingAndGlyphs"  stroke="#222" stroke-width="0.15">0</text>
<line x1="205.60" y1="290.86" x2="208.80" y2="290.86" stroke="#111" stroke-width="0.8" />
<text x="203.80" y="294.16" font-size="8.8" text-anchor="end" fill="#222" textLength="13.20" lengthAdjust="spacingAndGlyphs"  stroke="#222" stroke-width="0.15">100</text>
<line x1="205.60" y1="268.92" x2="208.80" y2="268.92" stroke="#111" stroke-width="0.8" />
<text x="203.80" y="272.22" font-size="8.8" text-anchor="end" fill="#222" textLength="13.20" lengthAdjust="spacingAndGlyphs"  stroke="#222" stroke-width="0.15">200</text>
<line x1="205.60" y1="246.98" x2="208.80" y2="246.98" stroke="#111" stroke-width="0.8" />
<text x="203.80" y="250.28" font-size="8.8" text-anchor="end" fill="#222" textLength="13.20" lengthAdjust="spacingAndGlyphs"  stroke="#222" stroke-width="0.15">300</text>
<line x1="205.60" y1="225.04" x2="208.80" y2="225.04" stroke="#111" stroke-width="0.8" />
<text x="203.80" y="228.34" font-size="8.8" text-anchor="end" fill="#222" textLength="13.20" lengthAdjust="spacingAndGlyphs"  stroke="#222" stroke-width="0.15">400</text>
<line x1="217.20" y1="312.80" x2="217.20" y2="315.80" stroke="#111" stroke-width="0.8" />
<text x="0" y="0" font-size="6.7" text-anchor="end" fill="#333" textLength="52.50" lengthAdjust="spacingAndGlyphs" transform="translate(219.20,321.80) rotate(-45)"  stroke="#333" stroke-width="0.15">Scrambled ShRNA</text>
<line x1="232.89" y1="312.80" x2="232.89" y2="315.80" stroke="#111" stroke-width="0.8" />
<text x="0" y="0" font-size="6.7" text-anchor="end" fill="#333" textLength="41.50" lengthAdjust="spacingAndGlyphs" transform="translate(234.89,321.80) rotate(-45)"  stroke="#333" stroke-width="0.15">B7-H3 KD cells</text>
<line x1="248.58" y1="312.80" x2="248.58" y2="315.80" stroke="#111" stroke-width="0.8" />
<text x="0" y="0" font-size="6.7" text-anchor="end" fill="#333" textLength="80.50" lengthAdjust="spacingAndGlyphs" transform="translate(250.58,321.80) rotate(-45)"  stroke="#333" stroke-width="0.15">Scrambled ShRNA + rB7-H3</text>
<line x1="264.27" y1="312.80" x2="264.27" y2="315.80" stroke="#111" stroke-width="0.8" />
<text x="0" y="0" font-size="6.7" text-anchor="end" fill="#333" textLength="68.50" lengthAdjust="spacingAndGlyphs" transform="translate(266.27,321.80) rotate(-45)"  stroke="#333" stroke-width="0.15">B7-H3 KD cells + rB7-H3</text>
<line x1="279.96" y1="312.80" x2="279.96" y2="315.80" stroke="#111" stroke-width="0.8" />
<text x="0" y="0" font-size="6.7" text-anchor="end" fill="#333" textLength="67.50" lengthAdjust="spacingAndGlyphs" transform="translate(281.96,321.80) rotate(-45)"  stroke="#333" stroke-width="0.15">Scrambled ShRNA + NK</text>
<line x1="295.65" y1="312.80" x2="295.65" y2="315.80" stroke="#111" stroke-width="0.8" />
<text x="0" y="0" font-size="6.7" text-anchor="end" fill="#333" textLength="95.50" lengthAdjust="spacingAndGlyphs" transform="translate(297.65,321.80) rotate(-45)"  stroke="#333" stroke-width="0.15">Scrambled ShRNA + rB7-H3 + NK</text>
<line x1="311.34" y1="312.80" x2="311.34" y2="315.80" stroke="#111" stroke-width="0.8" />
<text x="0" y="0" font-size="6.7" text-anchor="end" fill="#333" textLength="58.00" lengthAdjust="spacingAndGlyphs" transform="translate(313.34,321.80) rotate(-45)"  stroke="#333" stroke-width="0.15">B7-H3 KD cells + NK</text>
<line x1="327.03" y1="312.80" x2="327.03" y2="315.80" stroke="#111" stroke-width="0.8" />
<text x="0" y="0" font-size="6.7" text-anchor="end" fill="#333" textLength="92.50" lengthAdjust="spacingAndGlyphs" transform="translate(329.03,321.80) rotate(-45)"  stroke="#333" stroke-width="0.15">B7-H3 KD cells + rh B7-H3 + NK</text>
<text x="260.90" y="218.50" font-size="9" text-anchor="middle" fill="#000" textLength="22.00" lengthAdjust="spacingAndGlyphs"  stroke="#000" stroke-width="0.15">U937</text>
<text x="0" y="0" font-size="9.8" text-anchor="middle" fill="#222" textLength="76.00" lengthAdjust="spacingAndGlyphs" transform="translate(185.20,267.00) rotate(-90)"  stroke="#222" stroke-width="0.15">Annexin-V(+)cells/field</text>
<line x1="309.50" y1="220.50" x2="328.20" y2="220.50" stroke="#1a1a1a" stroke-width="1.0" />
<line x1="309.50" y1="217.30" x2="309.50" y2="223.70" stroke="#1a1a1a" stroke-width="0.9" />
<line x1="328.20" y1="217.30" x2="328.20" y2="223.70" stroke="#1a1a1a" stroke-width="0.9" />
<polygon points="314.60,215.00 315.13,216.27 316.50,216.38 315.46,217.28 315.78,218.62 314.60,217.90 313.42,218.62 313.74,217.28 312.70,216.38 314.07,216.27" fill="#111"/>
<polygon points="318.85,215.00 319.38,216.27 320.75,216.38 319.71,217.28 320.03,218.62 318.85,217.90 317.67,218.62 317.99,217.28 316.95,216.38 318.32,216.27" fill="#111"/>
<polygon points="323.10,215.00 323.63,216.27 325.00,216.38 323.96,217.28 324.28,218.62 323.10,217.90 321.92,218.62 322.24,217.28 321.20,216.38 322.57,216.27" fill="#111"/>
<rect x="373.85" y="293.80" width="9.90" height="19.20" fill="#3f4f66" />
<line x1="378.80" y1="290.90" x2="378.80" y2="293.80" stroke="#222" stroke-width="0.8" />
<line x1="376.20" y1="290.90" x2="381.40" y2="290.90" stroke="#222" stroke-width="0.9" />
<rect x="391.42" y="300.20" width="9.90" height="12.80" fill="#8a84c8" />
<line x1="396.37" y1="298.70" x2="396.37" y2="300.20" stroke="#222" stroke-width="0.8" />
<line x1="393.77" y1="298.70" x2="398.97" y2="298.70" stroke="#222" stroke-width="0.9" />
<rect x="408.99" y="297.60" width="9.90" height="15.40" fill="#3db54a" />
<line x1="413.94" y1="295.60" x2="413.94" y2="297.60" stroke="#222" stroke-width="0.8" />
<line x1="411.34" y1="295.60" x2="416.54" y2="295.60" stroke="#222" stroke-width="0.9" />
<rect x="426.56" y="300.50" width="9.90" height="12.50" fill="#5a2a78" />
<line x1="431.51" y1="298.50" x2="431.51" y2="300.50" stroke="#222" stroke-width="0.8" />
<line x1="428.91" y1="298.50" x2="434.11" y2="298.50" stroke="#222" stroke-width="0.9" />
<rect x="444.13" y="271.90" width="9.90" height="41.10" fill="#174f83" />
<line x1="449.08" y1="268.30" x2="449.08" y2="271.90" stroke="#222" stroke-width="0.8" />
<line x1="446.48" y1="268.30" x2="451.68" y2="268.30" stroke="#222" stroke-width="0.9" />
<rect x="461.70" y="267.80" width="9.90" height="45.20" fill="#2caae3" />
<line x1="466.65" y1="263.80" x2="466.65" y2="267.80" stroke="#222" stroke-width="0.8" />
<line x1="464.05" y1="263.80" x2="469.25" y2="263.80" stroke="#222" stroke-width="0.9" />
<rect x="479.27" y="233.50" width="9.90" height="79.50" fill="#c8102e" />
<line x1="484.22" y1="230.00" x2="484.22" y2="233.50" stroke="#222" stroke-width="0.8" />
<line x1="481.62" y1="230.00" x2="486.82" y2="230.00" stroke="#222" stroke-width="0.9" />
<rect x="496.84" y="274.00" width="9.90" height="39.00" fill="#fb9014" />
<line x1="501.79" y1="271.20" x2="501.79" y2="274.00" stroke="#222" stroke-width="0.8" />
<line x1="499.19" y1="271.20" x2="504.39" y2="271.20" stroke="#222" stroke-width="0.9" />
<line x1="369.80" y1="216.30" x2="369.80" y2="316.00" stroke="#111" stroke-width="1.1" />
<line x1="369.30" y1="313.00" x2="513.00" y2="313.00" stroke="#111" stroke-width="1.1" />
<line x1="366.60" y1="313.00" x2="369.80" y2="313.00" stroke="#111" stroke-width="0.8" />
<text x="365.20" y="316.30" font-size="8.8" text-anchor="end" fill="#222" textLength="4.40" lengthAdjust="spacingAndGlyphs"  stroke="#222" stroke-width="0.15">0</text>
<line x1="366.60" y1="290.07" x2="369.80" y2="290.07" stroke="#111" stroke-width="0.8" />
<text x="365.20" y="293.37" font-size="8.8" text-anchor="end" fill="#222" textLength="13.20" lengthAdjust="spacingAndGlyphs"  stroke="#222" stroke-width="0.15">200</text>
<line x1="366.60" y1="267.14" x2="369.80" y2="267.14" stroke="#111" stroke-width="0.8" />
<text x="365.20" y="270.44" font-size="8.8" text-anchor="end" fill="#222" textLength="13.20" lengthAdjust="spacingAndGlyphs"  stroke="#222" stroke-width="0.15">400</text>
<line x1="366.60" y1="244.21" x2="369.80" y2="244.21" stroke="#111" stroke-width="0.8" />
<text x="365.20" y="247.51" font-size="8.8" text-anchor="end" fill="#222" textLength="13.20" lengthAdjust="spacingAndGlyphs"  stroke="#222" stroke-width="0.15">600</text>
<line x1="366.60" y1="221.28" x2="369.80" y2="221.28" stroke="#111" stroke-width="0.8" />
<text x="365.20" y="224.58" font-size="8.8" text-anchor="end" fill="#222" textLength="13.20" lengthAdjust="spacingAndGlyphs"  stroke="#222" stroke-width="0.15">800</text>
<line x1="378.80" y1="313.00" x2="378.80" y2="316.00" stroke="#111" stroke-width="0.8" />
<text x="0" y="0" font-size="6.7" text-anchor="end" fill="#333" textLength="52.50" lengthAdjust="spacingAndGlyphs" transform="translate(380.80,322.00) rotate(-45)"  stroke="#333" stroke-width="0.15">Scrambled ShRNA</text>
<line x1="396.37" y1="313.00" x2="396.37" y2="316.00" stroke="#111" stroke-width="0.8" />
<text x="0" y="0" font-size="6.7" text-anchor="end" fill="#333" textLength="41.50" lengthAdjust="spacingAndGlyphs" transform="translate(398.37,322.00) rotate(-45)"  stroke="#333" stroke-width="0.15">B7-H3 KD cells</text>
<line x1="413.94" y1="313.00" x2="413.94" y2="316.00" stroke="#111" stroke-width="0.8" />
<text x="0" y="0" font-size="6.7" text-anchor="end" fill="#333" textLength="80.50" lengthAdjust="spacingAndGlyphs" transform="translate(415.94,322.00) rotate(-45)"  stroke="#333" stroke-width="0.15">Scrambled ShRNA + rB7-H3</text>
<line x1="431.51" y1="313.00" x2="431.51" y2="316.00" stroke="#111" stroke-width="0.8" />
<text x="0" y="0" font-size="6.7" text-anchor="end" fill="#333" textLength="68.50" lengthAdjust="spacingAndGlyphs" transform="translate(433.51,322.00) rotate(-45)"  stroke="#333" stroke-width="0.15">B7-H3 KD cells + rB7-H3</text>
<line x1="449.08" y1="313.00" x2="449.08" y2="316.00" stroke="#111" stroke-width="0.8" />
<text x="0" y="0" font-size="6.7" text-anchor="end" fill="#333" textLength="67.50" lengthAdjust="spacingAndGlyphs" transform="translate(451.08,322.00) rotate(-45)"  stroke="#333" stroke-width="0.15">Scrambled ShRNA + NK</text>
<line x1="466.65" y1="313.00" x2="466.65" y2="316.00" stroke="#111" stroke-width="0.8" />
<text x="0" y="0" font-size="6.7" text-anchor="end" fill="#333" textLength="95.50" lengthAdjust="spacingAndGlyphs" transform="translate(468.65,322.00) rotate(-45)"  stroke="#333" stroke-width="0.15">Scrambled ShRNA + rB7-H3 + NK</text>
<line x1="484.22" y1="313.00" x2="484.22" y2="316.00" stroke="#111" stroke-width="0.8" />
<text x="0" y="0" font-size="6.7" text-anchor="end" fill="#333" textLength="58.00" lengthAdjust="spacingAndGlyphs" transform="translate(486.22,322.00) rotate(-45)"  stroke="#333" stroke-width="0.15">B7-H3 KD cells + NK</text>
<line x1="501.79" y1="313.00" x2="501.79" y2="316.00" stroke="#111" stroke-width="0.8" />
<text x="0" y="0" font-size="6.7" text-anchor="end" fill="#333" textLength="92.50" lengthAdjust="spacingAndGlyphs" transform="translate(503.79,322.00) rotate(-45)"  stroke="#333" stroke-width="0.15">B7-H3 KD cells + rh B7-H3 + NK</text>
<text x="435.00" y="218.60" font-size="9" text-anchor="middle" fill="#000" textLength="45.00" lengthAdjust="spacingAndGlyphs"  stroke="#000" stroke-width="0.15">OCI-AML3</text>
<text x="0" y="0" font-size="9.8" text-anchor="middle" fill="#222" textLength="75.70" lengthAdjust="spacingAndGlyphs" transform="translate(348.30,264.90) rotate(-90)"  stroke="#222" stroke-width="0.15">Annexin-V(+)cells/field</text>
<line x1="482.80" y1="222.50" x2="501.40" y2="222.50" stroke="#1a1a1a" stroke-width="1.0" />
<line x1="482.80" y1="219.30" x2="482.80" y2="225.70" stroke="#1a1a1a" stroke-width="0.9" />
<line x1="501.40" y1="219.30" x2="501.40" y2="225.70" stroke="#1a1a1a" stroke-width="0.9" />
<polygon points="487.85,217.00 488.38,218.27 489.75,218.38 488.71,219.28 489.03,220.62 487.85,219.90 486.67,220.62 486.99,219.28 485.95,218.38 487.32,218.27" fill="#111"/>
<polygon points="492.10,217.00 492.63,218.27 494.00,218.38 492.96,219.28 493.28,220.62 492.10,219.90 490.92,220.62 491.24,219.28 490.20,218.38 491.57,218.27" fill="#111"/>
<polygon points="496.35,217.00 496.88,218.27 498.25,218.38 497.21,219.28 497.53,220.62 496.35,219.90 495.17,220.62 495.49,219.28 494.45,218.38 495.82,218.27" fill="#111"/>
<line x1="51.60" y1="411.10" x2="51.60" y2="512.90" stroke="#111" stroke-width="1.0" />
<line x1="51.10" y1="512.40" x2="145.80" y2="512.40" stroke="#111" stroke-width="1.1" />
<line x1="48.20" y1="512.40" x2="51.60" y2="512.40" stroke="#222" stroke-width="0.8" />
<text x="45.80" y="515.30" font-size="8.2" text-anchor="end" fill="#2e2e2e" textLength="4.25" lengthAdjust="spacingAndGlyphs"  stroke="#2e2e2e" stroke-width="0.15">0</text>
<line x1="48.20" y1="492.94" x2="51.60" y2="492.94" stroke="#222" stroke-width="0.8" />
<text x="45.80" y="495.84" font-size="8.2" text-anchor="end" fill="#2e2e2e" textLength="17.00" lengthAdjust="spacingAndGlyphs"  stroke="#2e2e2e" stroke-width="0.15">1000</text>
<line x1="48.20" y1="473.48" x2="51.60" y2="473.48" stroke="#222" stroke-width="0.8" />
<text x="45.80" y="476.38" font-size="8.2" text-anchor="end" fill="#2e2e2e" textLength="17.00" lengthAdjust="spacingAndGlyphs"  stroke="#2e2e2e" stroke-width="0.15">2000</text>
<line x1="48.20" y1="454.02" x2="51.60" y2="454.02" stroke="#222" stroke-width="0.8" />
<text x="45.80" y="456.92" font-size="8.2" text-anchor="end" fill="#2e2e2e" textLength="17.00" lengthAdjust="spacingAndGlyphs"  stroke="#2e2e2e" stroke-width="0.15">3000</text>
<line x1="48.20" y1="434.56" x2="51.60" y2="434.56" stroke="#222" stroke-width="0.8" />
<text x="45.80" y="437.46" font-size="8.2" text-anchor="end" fill="#2e2e2e" textLength="17.00" lengthAdjust="spacingAndGlyphs"  stroke="#2e2e2e" stroke-width="0.15">4000</text>
<line x1="48.20" y1="415.10" x2="51.60" y2="415.10" stroke="#222" stroke-width="0.8" />
<text x="45.80" y="418.00" font-size="8.2" text-anchor="end" fill="#2e2e2e" textLength="17.00" lengthAdjust="spacingAndGlyphs"  stroke="#2e2e2e" stroke-width="0.15">5000</text>
<line x1="78.60" y1="512.40" x2="78.60" y2="515.70" stroke="#111" stroke-width="0.8" />
<line x1="118.70" y1="512.40" x2="118.70" y2="515.70" stroke="#111" stroke-width="0.8" />
<text x="0" y="0" font-size="8.8" text-anchor="middle" fill="#333" textLength="35.00" lengthAdjust="spacingAndGlyphs" transform="translate(22.20,461.50) rotate(-90)"  stroke="#333" stroke-width="0.15">B7-H3 MFI</text>
<text x="96.20" y="408.80" font-size="9.8" text-anchor="middle" fill="#111" textLength="24.20" lengthAdjust="spacingAndGlyphs"  stroke="#111" stroke-width="0.15">T-1A5</text>
<text x="70.70" y="441.20" font-size="7.8" text-anchor="start" fill="#222" textLength="29.00" lengthAdjust="spacingAndGlyphs"  stroke="#222" stroke-width="0.15">p=0.001</text>
<text x="78.60" y="522.90" font-size="8.0" text-anchor="middle" fill="#222" textLength="26.20" lengthAdjust="spacingAndGlyphs"  stroke="#222" stroke-width="0.15">Control</text>
<text x="78.60" y="532.50" font-size="8.0" text-anchor="middle" fill="#222" textLength="18.60" lengthAdjust="spacingAndGlyphs"  stroke="#222" stroke-width="0.15">n=20</text>
<text x="118.70" y="522.90" font-size="8.0" text-anchor="middle" fill="#222" textLength="16.50" lengthAdjust="spacingAndGlyphs"  stroke="#222" stroke-width="0.15">AML</text>
<text x="118.70" y="532.50" font-size="8.0" text-anchor="middle" fill="#222" textLength="18.70" lengthAdjust="spacingAndGlyphs"  stroke="#222" stroke-width="0.15">n=25</text>
<line x1="66.50" y1="510.50" x2="91.00" y2="510.50" stroke="#333" stroke-width="1.05" />
<line x1="72.10" y1="507.50" x2="85.00" y2="507.50" stroke="#333" stroke-width="1.05" />
<line x1="105.40" y1="494.50" x2="131.70" y2="494.50" stroke="#333" stroke-width="1.05" />
<line x1="112.10" y1="472.50" x2="125.40" y2="472.50" stroke="#333" stroke-width="1.05" />
<line x1="78.60" y1="507.50" x2="78.60" y2="512.40" stroke="#333" stroke-width="0.9" />
<line x1="118.70" y1="472.70" x2="118.70" y2="512.40" stroke="#333" stroke-width="0.9" />
<circle cx="67.00" cy="509.00" r="1.5" fill="#d0102e"/>
<circle cx="67.00" cy="512.90" r="1.5" fill="#d0102e"/>
<circle cx="74.70" cy="509.70" r="1.5" fill="#d0102e"/>
<circle cx="78.60" cy="506.20" r="1.5" fill="#d0102e"/>
<circle cx="82.40" cy="511.00" r="1.5" fill="#d0102e"/>
<circle cx="90.10" cy="510.70" r="1.5" fill="#d0102e"/>
<rect x="117.25" y="432.65" width="2.90" height="2.90" fill="#13508c" />
<rect x="117.25" y="450.25" width="2.90" height="2.90" fill="#13508c" />
<rect x="117.25" y="458.65" width="2.90" height="2.90" fill="#13508c" />
<rect x="117.25" y="465.95" width="2.90" height="2.90" fill="#13508c" />
<rect x="117.25" y="467.55" width="2.90" height="2.90" fill="#13508c" />
<rect x="117.25" y="469.55" width="2.90" height="2.90" fill="#13508c" />
<rect x="119.95" y="479.55" width="2.90" height="2.90" fill="#13508c" />
<rect x="115.15" y="481.85" width="2.90" height="2.90" fill="#13508c" />
<rect x="117.25" y="488.65" width="2.90" height="2.90" fill="#13508c" />
<rect x="117.25" y="495.85" width="2.90" height="2.90" fill="#13508c" />
<rect x="115.15" y="499.55" width="2.90" height="2.90" fill="#13508c" />
<rect x="110.65" y="502.25" width="2.90" height="2.90" fill="#13508c" />
<rect x="119.95" y="502.25" width="2.90" height="2.90" fill="#13508c" />
<rect x="124.25" y="500.85" width="2.90" height="2.90" fill="#13508c" />
<rect x="128.85" y="501.95" width="2.90" height="2.90" fill="#13508c" />
<rect x="105.85" y="508.25" width="2.90" height="2.90" fill="#13508c" />
<rect x="105.85" y="510.25" width="2.90" height="2.90" fill="#13508c" />
<rect x="110.65" y="507.55" width="2.90" height="2.90" fill="#13508c" />
<rect x="114.85" y="507.55" width="2.90" height="2.90" fill="#13508c" />
<rect x="114.85" y="510.85" width="2.90" height="2.90" fill="#13508c" />
<rect x="119.95" y="508.25" width="2.90" height="2.90" fill="#13508c" />
<rect x="124.25" y="503.55" width="2.90" height="2.90" fill="#13508c" />
<rect x="124.25" y="506.25" width="2.90" height="2.90" fill="#13508c" />
<rect x="124.25" y="510.85" width="2.90" height="2.90" fill="#13508c" />
<rect x="128.85" y="504.85" width="2.90" height="2.90" fill="#13508c" />
<rect x="128.85" y="508.85" width="2.90" height="2.90" fill="#13508c" />
<line x1="231.50" y1="405.40" x2="231.50" y2="508.70" stroke="#111" stroke-width="1.0" />
<line x1="231.00" y1="508.20" x2="324.40" y2="508.20" stroke="#111" stroke-width="1.1" />
<line x1="228.10" y1="508.20" x2="231.50" y2="508.20" stroke="#222" stroke-width="0.8" />
<text x="225.70" y="511.10" font-size="8.2" text-anchor="end" fill="#2e2e2e" textLength="4.25" lengthAdjust="spacingAndGlyphs"  stroke="#2e2e2e" stroke-width="0.15">0</text>
<line x1="228.10" y1="488.22" x2="231.50" y2="488.22" stroke="#222" stroke-width="0.8" />
<text x="225.70" y="491.12" font-size="8.2" text-anchor="end" fill="#2e2e2e" textLength="17.00" lengthAdjust="spacingAndGlyphs"  stroke="#2e2e2e" stroke-width="0.15">1000</text>
<line x1="228.10" y1="468.24" x2="231.50" y2="468.24" stroke="#222" stroke-width="0.8" />
<text x="225.70" y="471.14" font-size="8.2" text-anchor="end" fill="#2e2e2e" textLength="17.00" lengthAdjust="spacingAndGlyphs"  stroke="#2e2e2e" stroke-width="0.15">2000</text>
<line x1="228.10" y1="448.26" x2="231.50" y2="448.26" stroke="#222" stroke-width="0.8" />
<text x="225.70" y="451.16" font-size="8.2" text-anchor="end" fill="#2e2e2e" textLength="17.00" lengthAdjust="spacingAndGlyphs"  stroke="#2e2e2e" stroke-width="0.15">3000</text>
<line x1="228.10" y1="428.28" x2="231.50" y2="428.28" stroke="#222" stroke-width="0.8" />
<text x="225.70" y="431.18" font-size="8.2" text-anchor="end" fill="#2e2e2e" textLength="17.00" lengthAdjust="spacingAndGlyphs"  stroke="#2e2e2e" stroke-width="0.15">4000</text>
<line x1="228.10" y1="408.30" x2="231.50" y2="408.30" stroke="#222" stroke-width="0.8" />
<text x="225.70" y="411.20" font-size="8.2" text-anchor="end" fill="#2e2e2e" textLength="17.00" lengthAdjust="spacingAndGlyphs"  stroke="#2e2e2e" stroke-width="0.15">5000</text>
<line x1="257.90" y1="508.20" x2="257.90" y2="511.50" stroke="#111" stroke-width="0.8" />
<line x1="298.30" y1="508.20" x2="298.30" y2="511.50" stroke="#111" stroke-width="0.8" />
<text x="0" y="0" font-size="8.8" text-anchor="middle" fill="#333" textLength="35.00" lengthAdjust="spacingAndGlyphs" transform="translate(201.20,456.70) rotate(-90)"  stroke="#333" stroke-width="0.15">B7-H3 MFI</text>
<text x="275.70" y="408.60" font-size="9.8" text-anchor="middle" fill="#111" textLength="43.00" lengthAdjust="spacingAndGlyphs"  stroke="#111" stroke-width="0.15">HEK5-1B3</text>
<text x="249.50" y="439.80" font-size="7.8" text-anchor="start" fill="#222" textLength="29.00" lengthAdjust="spacingAndGlyphs"  stroke="#222" stroke-width="0.15">p=0.001</text>
<text x="257.90" y="518.80" font-size="8.0" text-anchor="middle" fill="#222" textLength="26.20" lengthAdjust="spacingAndGlyphs"  stroke="#222" stroke-width="0.15">Control</text>
<text x="257.90" y="528.50" font-size="8.0" text-anchor="middle" fill="#222" textLength="18.60" lengthAdjust="spacingAndGlyphs"  stroke="#222" stroke-width="0.15">n=20</text>
<text x="298.30" y="518.80" font-size="8.0" text-anchor="middle" fill="#222" textLength="16.50" lengthAdjust="spacingAndGlyphs"  stroke="#222" stroke-width="0.15">AML</text>
<text x="298.30" y="528.50" font-size="8.0" text-anchor="middle" fill="#222" textLength="18.70" lengthAdjust="spacingAndGlyphs"  stroke="#222" stroke-width="0.15">n=25</text>
<line x1="244.60" y1="506.50" x2="270.80" y2="506.50" stroke="#7c7c7c" stroke-width="1.3" />
<line x1="284.60" y1="490.00" x2="310.80" y2="490.00" stroke="#7c7c7c" stroke-width="1.3" />
<circle cx="246.90" cy="504.60" r="1.5" fill="#d0102e"/>
<circle cx="252.60" cy="505.80" r="1.5" fill="#d0102e"/>
<circle cx="257.70" cy="502.00" r="1.5" fill="#d0102e"/>
<circle cx="258.20" cy="507.40" r="1.5" fill="#d0102e"/>
<circle cx="263.10" cy="507.40" r="1.5" fill="#d0102e"/>
<circle cx="268.50" cy="509.20" r="1.5" fill="#d0102e"/>
<circle cx="297.70" cy="428.00" r="1.55" fill="#13508c"/>
<circle cx="297.70" cy="445.80" r="1.55" fill="#13508c"/>
<circle cx="297.40" cy="454.60" r="1.55" fill="#13508c"/>
<circle cx="298.80" cy="462.80" r="1.55" fill="#13508c"/>
<circle cx="296.20" cy="465.80" r="1.55" fill="#13508c"/>
<circle cx="296.20" cy="476.60" r="1.55" fill="#13508c"/>
<circle cx="298.50" cy="478.80" r="1.55" fill="#13508c"/>
<circle cx="297.40" cy="486.20" r="1.55" fill="#13508c"/>
<circle cx="297.40" cy="493.50" r="1.55" fill="#13508c"/>
<circle cx="295.70" cy="497.40" r="1.55" fill="#13508c"/>
<circle cx="291.50" cy="500.00" r="1.55" fill="#13508c"/>
<circle cx="294.20" cy="500.00" r="1.55" fill="#13508c"/>
<circle cx="299.20" cy="498.80" r="1.55" fill="#13508c"/>
<circle cx="302.30" cy="499.50" r="1.55" fill="#13508c"/>
<circle cx="297.20" cy="503.10" r="1.55" fill="#13508c"/>
<circle cx="298.50" cy="503.80" r="1.55" fill="#13508c"/>
<circle cx="295.70" cy="504.60" r="1.55" fill="#13508c"/>
<circle cx="300.00" cy="505.00" r="1.55" fill="#13508c"/>
<circle cx="305.40" cy="505.40" r="1.55" fill="#13508c"/>
<circle cx="286.20" cy="506.60" r="1.55" fill="#13508c"/>
<circle cx="289.20" cy="507.40" r="1.55" fill="#13508c"/>
<circle cx="292.30" cy="508.90" r="1.55" fill="#13508c"/>
<circle cx="295.10" cy="509.20" r="1.55" fill="#13508c"/>
<circle cx="302.80" cy="509.20" r="1.55" fill="#13508c"/>
<circle cx="307.70" cy="509.20" r="1.55" fill="#13508c"/>
<line x1="403.40" y1="405.00" x2="403.40" y2="509.10" stroke="#111" stroke-width="1.0" />
<line x1="402.90" y1="508.60" x2="500.50" y2="508.60" stroke="#111" stroke-width="1.1" />
<line x1="400.00" y1="508.60" x2="403.40" y2="508.60" stroke="#222" stroke-width="0.8" />
<text x="397.60" y="511.50" font-size="8.2" text-anchor="end" fill="#2e2e2e" textLength="4.25" lengthAdjust="spacingAndGlyphs"  stroke="#2e2e2e" stroke-width="0.15">0</text>
<line x1="400.00" y1="488.50" x2="403.40" y2="488.50" stroke="#222" stroke-width="0.8" />
<text x="397.60" y="491.40" font-size="8.2" text-anchor="end" fill="#2e2e2e" textLength="17.00" lengthAdjust="spacingAndGlyphs"  stroke="#2e2e2e" stroke-width="0.15">1000</text>
<line x1="400.00" y1="468.40" x2="403.40" y2="468.40" stroke="#222" stroke-width="0.8" />
<text x="397.60" y="471.30" font-size="8.2" text-anchor="end" fill="#2e2e2e" textLength="17.00" lengthAdjust="spacingAndGlyphs"  stroke="#2e2e2e" stroke-width="0.15">2000</text>
<line x1="400.00" y1="448.30" x2="403.40" y2="448.30" stroke="#222" stroke-width="0.8" />
<text x="397.60" y="451.20" font-size="8.2" text-anchor="end" fill="#2e2e2e" textLength="17.00" lengthAdjust="spacingAndGlyphs"  stroke="#2e2e2e" stroke-width="0.15">3000</text>
<line x1="400.00" y1="428.20" x2="403.40" y2="428.20" stroke="#222" stroke-width="0.8" />
<text x="397.60" y="431.10" font-size="8.2" text-anchor="end" fill="#2e2e2e" textLength="17.00" lengthAdjust="spacingAndGlyphs"  stroke="#2e2e2e" stroke-width="0.15">4000</text>
<line x1="400.00" y1="408.10" x2="403.40" y2="408.10" stroke="#222" stroke-width="0.8" />
<text x="397.60" y="411.00" font-size="8.2" text-anchor="end" fill="#2e2e2e" textLength="17.00" lengthAdjust="spacingAndGlyphs"  stroke="#2e2e2e" stroke-width="0.15">5000</text>
<line x1="429.90" y1="508.60" x2="429.90" y2="511.90" stroke="#111" stroke-width="0.8" />
<line x1="471.60" y1="508.60" x2="471.60" y2="511.90" stroke="#111" stroke-width="0.8" />
<text x="0" y="0" font-size="8.8" text-anchor="middle" fill="#333" textLength="35.00" lengthAdjust="spacingAndGlyphs" transform="translate(372.70,457.30) rotate(-90)"  stroke="#333" stroke-width="0.15">B7-H3 MFI</text>
<text x="450.00" y="408.50" font-size="9.8" text-anchor="middle" fill="#111" textLength="20.00" lengthAdjust="spacingAndGlyphs"  stroke="#111" stroke-width="0.15">58B1</text>
<text x="418.00" y="440.00" font-size="7.8" text-anchor="start" fill="#222" textLength="25.10" lengthAdjust="spacingAndGlyphs"  stroke="#222" stroke-width="0.15">p=0.02</text>
<text x="429.90" y="519.70" font-size="8.0" text-anchor="middle" fill="#222" textLength="26.20" lengthAdjust="spacingAndGlyphs"  stroke="#222" stroke-width="0.15">Control</text>
<text x="429.90" y="529.20" font-size="8.0" text-anchor="middle" fill="#222" textLength="18.60" lengthAdjust="spacingAndGlyphs"  stroke="#222" stroke-width="0.15">n=20</text>
<text x="471.60" y="519.70" font-size="8.0" text-anchor="middle" fill="#222" textLength="16.50" lengthAdjust="spacingAndGlyphs"  stroke="#222" stroke-width="0.15">AML</text>
<text x="471.60" y="529.20" font-size="8.0" text-anchor="middle" fill="#222" textLength="18.70" lengthAdjust="spacingAndGlyphs"  stroke="#222" stroke-width="0.15">n=25</text>
<line x1="416.20" y1="505.00" x2="444.60" y2="505.00" stroke="#7c7c7c" stroke-width="1.3" />
<line x1="458.50" y1="493.90" x2="486.60" y2="493.90" stroke="#7c7c7c" stroke-width="1.3" />
<circle cx="419.50" cy="505.50" r="1.5" fill="#d0102e"/>
<circle cx="426.60" cy="501.60" r="1.5" fill="#d0102e"/>
<circle cx="426.90" cy="506.10" r="1.5" fill="#d0102e"/>
<circle cx="433.80" cy="501.20" r="1.5" fill="#d0102e"/>
<circle cx="433.50" cy="507.00" r="1.5" fill="#d0102e"/>
<circle cx="440.80" cy="508.80" r="1.5" fill="#d0102e"/>
<circle cx="472.00" cy="423.00" r="1.55" fill="#13508c"/>
<circle cx="472.00" cy="450.70" r="1.55" fill="#13508c"/>
<circle cx="472.00" cy="463.50" r="1.55" fill="#13508c"/>
<circle cx="473.10" cy="472.20" r="1.55" fill="#13508c"/>
<circle cx="471.20" cy="474.20" r="1.55" fill="#13508c"/>
<circle cx="470.80" cy="487.00" r="1.55" fill="#13508c"/>
<circle cx="473.10" cy="488.10" r="1.55" fill="#13508c"/>
<circle cx="471.50" cy="496.50" r="1.55" fill="#13508c"/>
<circle cx="473.40" cy="496.80" r="1.55" fill="#13508c"/>
<circle cx="468.80" cy="500.80" r="1.55" fill="#13508c"/>
<circle cx="473.10" cy="502.40" r="1.55" fill="#13508c"/>
<circle cx="466.90" cy="503.90" r="1.55" fill="#13508c"/>
<circle cx="470.80" cy="504.20" r="1.55" fill="#13508c"/>
<circle cx="475.40" cy="504.20" r="1.55" fill="#13508c"/>
<circle cx="460.80" cy="507.00" r="1.55" fill="#13508c"/>
<circle cx="463.80" cy="508.10" r="1.55" fill="#13508c"/>
<circle cx="469.20" cy="507.30" r="1.55" fill="#13508c"/>
<circle cx="472.30" cy="507.00" r="1.55" fill="#13508c"/>
<circle cx="477.70" cy="507.00" r="1.55" fill="#13508c"/>
<circle cx="480.80" cy="508.10" r="1.55" fill="#13508c"/>
<circle cx="483.50" cy="508.50" r="1.55" fill="#13508c"/>
<circle cx="474.60" cy="505.80" r="1.55" fill="#13508c"/>
<circle cx="478.50" cy="508.10" r="1.55" fill="#13508c"/>
<circle cx="464.60" cy="505.80" r="1.55" fill="#13508c"/>
<path d="M60.20 615.90L60.20 615.90L60.30 615.87L60.41 615.78L60.52 615.64L60.62 615.43L60.73 615.17L60.83 614.86L60.94 614.48L61.04 614.05L61.15 613.57L61.25 613.04L61.36 612.45L61.46 611.82L61.57 611.13L61.67 610.40L61.78 609.63L61.88 608.81L61.98 607.95L62.09 607.05L62.20 606.12L62.30 605.15L62.41 604.15L62.51 603.12L62.62 602.07L62.72 600.99L62.83 599.89L62.93 598.77L63.04 597.64L63.14 596.49L63.25 595.33L63.35 594.17L63.45 593.00L63.56 591.83L63.66 590.66L63.77 589.50L63.88 588.35L63.98 587.20L64.09 586.07L64.19 584.95L64.30 583.85L64.40 582.78L64.50 581.73L64.61 580.70L64.72 579.71L64.82 578.75L64.92 577.82L65.03 576.93L65.14 576.07L65.24 575.26L65.34 574.49L65.45 573.77L65.56 573.09L65.66 572.46L65.77 571.88L65.87 571.36L65.97 570.88L66.08 570.46L66.19 570.10L66.29 569.79L66.39 569.53L66.50 569.34L66.61 569.20L66.71 569.12L66.81 569.10L66.92 569.15L67.03 569.26L67.13 569.45L67.23 569.70L67.34 570.03L67.44 570.42L67.55 570.88L67.66 571.41L67.76 571.99L67.86 572.64L67.97 573.36L68.08 574.12L68.18 574.95L68.28 575.82L68.39 576.75L68.50 577.73L68.60 578.75L68.70 579.81L68.81 580.91L68.91 582.04L69.02 583.21L69.12 584.40L69.23 585.62L69.33 586.86L69.44 588.12L69.55 589.38L69.65 590.66L69.75 591.95L69.86 593.24L69.97 594.52L70.07 595.80L70.17 597.07L70.28 598.32L70.38 599.56L70.49 600.77L70.59 601.96L70.70 603.12L70.80 604.25L70.91 605.35L71.02 606.40L71.12 607.42L71.22 608.38L71.33 609.30L71.44 610.17L71.54 610.99L71.64 611.75L71.75 612.45L71.86 613.09L71.96 613.67L72.06 614.19L72.17 614.64L72.27 615.02L72.38 615.34L72.48 615.58L72.59 615.76L72.69 615.86L72.80 615.90L72.80 615.90Z" fill="#f9a4a4" stroke="#f46c6c" stroke-width="0.6"/>
<path d="M73.30 615.90L73.30 615.90L73.43 615.87L73.55 615.79L73.68 615.65L73.81 615.46L73.93 615.21L74.06 614.92L74.19 614.56L74.31 614.16L74.44 613.70L74.57 613.20L74.69 612.64L74.82 612.04L74.95 611.40L75.07 610.70L75.20 609.97L75.33 609.19L75.45 608.38L75.58 607.53L75.71 606.64L75.83 605.72L75.96 604.76L76.09 603.78L76.21 602.78L76.34 601.74L76.47 600.69L76.59 599.62L76.72 598.53L76.85 597.42L76.97 596.31L77.10 595.18L77.23 594.05L77.35 592.92L77.48 591.78L77.61 590.65L77.73 589.52L77.86 588.40L77.99 587.28L78.11 586.18L78.24 585.10L78.37 584.03L78.49 582.98L78.62 581.96L78.75 580.96L78.87 579.98L79.00 579.04L79.13 578.12L79.25 577.25L79.38 576.40L79.51 575.60L79.63 574.83L79.76 574.11L79.89 573.43L80.01 572.79L80.14 572.21L80.27 571.66L80.39 571.17L80.52 570.73L80.65 570.34L80.77 570.00L80.90 569.72L81.03 569.48L81.15 569.31L81.28 569.18L81.41 569.11L81.53 569.10L81.66 569.16L81.79 569.29L81.91 569.50L82.04 569.78L82.17 570.14L82.29 570.57L82.42 571.07L82.55 571.63L82.67 572.27L82.80 572.97L82.93 573.73L83.05 574.56L83.18 575.44L83.31 576.38L83.43 577.37L83.56 578.41L83.69 579.49L83.81 580.62L83.94 581.78L84.07 582.98L84.19 584.21L84.32 585.47L84.45 586.75L84.57 588.05L84.70 589.36L84.83 590.68L84.95 592.01L85.08 593.34L85.21 594.67L85.33 595.99L85.46 597.30L85.59 598.59L85.71 599.86L85.84 601.11L85.97 602.34L86.09 603.53L86.22 604.68L86.35 605.80L86.47 606.87L86.60 607.90L86.73 608.87L86.85 609.80L86.98 610.66L87.11 611.47L87.23 612.22L87.36 612.90L87.49 613.52L87.61 614.07L87.74 614.55L87.87 614.96L87.99 615.30L88.12 615.56L88.25 615.75L88.37 615.86L88.50 615.90L88.50 615.90Z" fill="#9ae4f9" stroke="#22bcec" stroke-width="0.7" style="mix-blend-mode:multiply"/>
<path d="M59.50 566.80H110.90V616.20" fill="none" stroke="#6b6b6b" stroke-width="0.9"/>
<line x1="59.50" y1="566.40" x2="59.50" y2="616.20" stroke="#222" stroke-width="1.0" />
<line x1="59.50" y1="616.20" x2="110.90" y2="616.20" stroke="#222" stroke-width="1.0" />
<path d="M58.30 569.40h1.2M58.30 574.08h1.2M58.30 578.76h1.2M58.30 583.44h1.2M58.30 588.12h1.2M58.30 592.80h1.2M58.30 597.48h1.2M58.30 602.16h1.2M58.30 606.84h1.2M58.30 611.52h1.2M58.30 616.20h1.2" stroke="#333" stroke-width="0.6"/>
<line x1="57.50" y1="615.90" x2="59.50" y2="615.90" stroke="#222" stroke-width="0.7" />
<text x="56.30" y="618.10" font-size="6.2" text-anchor="end" fill="#222"  stroke="#222" stroke-width="0.15">0</text>
<line x1="57.50" y1="606.54" x2="59.50" y2="606.54" stroke="#222" stroke-width="0.7" />
<text x="56.30" y="608.74" font-size="6.2" text-anchor="end" fill="#222"  stroke="#222" stroke-width="0.15">20</text>
<line x1="57.50" y1="597.18" x2="59.50" y2="597.18" stroke="#222" stroke-width="0.7" />
<text x="56.30" y="599.38" font-size="6.2" text-anchor="end" fill="#222"  stroke="#222" stroke-width="0.15">40</text>
<line x1="57.50" y1="587.82" x2="59.50" y2="587.82" stroke="#222" stroke-width="0.7" />
<text x="56.30" y="590.02" font-size="6.2" text-anchor="end" fill="#222"  stroke="#222" stroke-width="0.15">60</text>
<line x1="57.50" y1="578.46" x2="59.50" y2="578.46" stroke="#222" stroke-width="0.7" />
<text x="56.30" y="580.66" font-size="6.2" text-anchor="end" fill="#222"  stroke="#222" stroke-width="0.15">80</text>
<line x1="57.50" y1="569.10" x2="59.50" y2="569.10" stroke="#222" stroke-width="0.7" />
<text x="56.30" y="571.30" font-size="6.2" text-anchor="end" fill="#222"  stroke="#222" stroke-width="0.15">100</text>
<line x1="62.10" y1="616.20" x2="62.10" y2="618.00" stroke="#222" stroke-width="0.7" />
<text x="62.10" y="623.80" font-size="6.2" text-anchor="middle" fill="#222">10<tspan font-size="4.2" dy="-2.4">2</tspan></text>
<line x1="73.80" y1="616.20" x2="73.80" y2="618.00" stroke="#222" stroke-width="0.7" />
<text x="73.80" y="623.80" font-size="6.2" text-anchor="middle" fill="#222">10<tspan font-size="4.2" dy="-2.4">3</tspan></text>
<line x1="85.50" y1="616.20" x2="85.50" y2="618.00" stroke="#222" stroke-width="0.7" />
<text x="85.50" y="623.80" font-size="6.2" text-anchor="middle" fill="#222">10<tspan font-size="4.2" dy="-2.4">4</tspan></text>
<line x1="97.20" y1="616.20" x2="97.20" y2="618.00" stroke="#222" stroke-width="0.7" />
<text x="97.20" y="623.80" font-size="6.2" text-anchor="middle" fill="#222">10<tspan font-size="4.2" dy="-2.4">5</tspan></text>
<line x1="108.90" y1="616.20" x2="108.90" y2="618.00" stroke="#222" stroke-width="0.7" />
<text x="108.90" y="623.80" font-size="6.2" text-anchor="middle" fill="#222">10<tspan font-size="4.2" dy="-2.4">6</tspan></text>
<text x="86.60" y="562.70" font-size="8.8" text-anchor="middle" fill="#111" textLength="45.20" lengthAdjust="spacingAndGlyphs"  stroke="#111" stroke-width="0.15">OCI-AML3</text>
<path d="M134.80 615.90L134.80 615.88L134.90 615.81L135.00 615.69L135.09 615.53L135.19 615.32L135.29 615.07L135.39 614.77L135.48 614.43L135.58 614.05L135.68 613.62L135.78 613.15L135.87 612.64L135.97 612.10L136.07 611.51L136.17 610.88L136.26 610.22L136.36 609.53L136.46 608.80L136.56 608.04L136.65 607.25L136.75 606.43L136.85 605.58L136.95 604.70L137.04 603.81L137.14 602.89L137.24 601.94L137.34 600.99L137.43 600.01L137.53 599.02L137.63 598.01L137.73 597.00L137.82 595.98L137.92 594.95L138.02 593.91L138.12 592.87L138.21 591.83L138.31 590.80L138.41 589.76L138.50 588.73L138.60 587.71L138.70 586.70L138.80 585.70L138.90 584.71L138.99 583.74L139.09 582.79L139.19 581.85L139.28 580.94L139.38 580.05L139.48 579.18L139.58 578.34L139.68 577.53L139.77 576.74L139.87 575.99L139.97 575.27L140.06 574.59L140.16 573.94L140.26 573.32L140.36 572.75L140.46 572.21L140.55 571.71L140.65 571.26L140.75 570.84L140.84 570.47L140.94 570.14L141.04 569.86L141.14 569.62L141.24 569.42L141.33 569.27L141.43 569.17L141.53 569.11L141.62 569.10L141.72 569.17L141.82 569.33L141.92 569.58L142.02 569.92L142.11 570.35L142.21 570.87L142.31 571.47L142.41 572.15L142.50 572.91L142.60 573.75L142.70 574.66L142.80 575.64L142.89 576.69L142.99 577.79L143.09 578.96L143.19 580.18L143.28 581.44L143.38 582.75L143.48 584.10L143.58 585.48L143.67 586.89L143.77 588.32L143.87 589.77L143.97 591.23L144.06 592.69L144.16 594.15L144.26 595.60L144.35 597.05L144.45 598.47L144.55 599.87L144.65 601.25L144.75 602.59L144.84 603.88L144.94 605.14L145.04 606.35L145.13 607.50L145.23 608.59L145.33 609.62L145.43 610.58L145.53 611.47L145.62 612.29L145.72 613.03L145.82 613.70L145.91 614.27L146.01 614.77L146.11 615.17L146.21 615.49L146.31 615.72L146.40 615.85L146.50 615.90L146.50 615.90Z" fill="#f9a4a4" stroke="#f46c6c" stroke-width="0.6"/>
<path d="M142.70 615.90L142.70 615.90L142.82 615.87L142.94 615.78L143.06 615.62L143.19 615.40L143.31 615.12L143.43 614.79L143.55 614.39L143.67 613.93L143.79 613.42L143.92 612.85L144.04 612.22L144.16 611.55L144.28 610.82L144.40 610.04L144.52 609.22L144.65 608.35L144.77 607.44L144.89 606.49L145.01 605.51L145.13 604.49L145.25 603.43L145.38 602.35L145.50 601.24L145.62 600.11L145.74 598.96L145.86 597.79L145.98 596.60L146.11 595.41L146.23 594.20L146.35 593.00L146.47 591.79L146.59 590.58L146.72 589.38L146.84 588.19L146.96 587.01L147.08 585.84L147.20 584.69L147.32 583.56L147.44 582.46L147.57 581.38L147.69 580.33L147.81 579.31L147.93 578.33L148.05 577.39L148.18 576.49L148.30 575.63L148.42 574.81L148.54 574.05L148.66 573.33L148.78 572.66L148.91 572.05L149.03 571.49L149.15 570.98L149.27 570.54L149.39 570.15L149.51 569.82L149.63 569.55L149.76 569.35L149.88 569.20L150.00 569.12L150.12 569.10L150.24 569.15L150.37 569.26L150.49 569.43L150.61 569.67L150.73 569.98L150.85 570.35L150.97 570.78L151.09 571.27L151.22 571.82L151.34 572.43L151.46 573.10L151.58 573.82L151.70 574.60L151.83 575.42L151.95 576.29L152.07 577.21L152.19 578.17L152.31 579.18L152.43 580.22L152.56 581.29L152.68 582.40L152.80 583.53L152.92 584.69L153.04 585.87L153.16 587.07L153.28 588.29L153.41 589.51L153.53 590.75L153.65 591.99L153.77 593.23L153.89 594.47L154.02 595.71L154.14 596.93L154.26 598.14L154.38 599.34L154.50 600.52L154.62 601.67L154.75 602.80L154.87 603.90L154.99 604.97L155.11 606.01L155.23 607.00L155.35 607.95L155.47 608.86L155.60 609.73L155.72 610.55L155.84 611.31L155.96 612.02L156.08 612.68L156.21 613.28L156.33 613.82L156.45 614.30L156.57 614.72L156.69 615.08L156.81 615.37L156.94 615.60L157.06 615.77L157.18 615.87L157.30 615.90L157.30 615.90Z" fill="#9ae4f9" stroke="#22bcec" stroke-width="0.7" style="mix-blend-mode:multiply"/>
<path d="M134.30 566.80H185.70V616.20" fill="none" stroke="#6b6b6b" stroke-width="0.9"/>
<line x1="134.30" y1="566.40" x2="134.30" y2="616.20" stroke="#222" stroke-width="1.0" />
<line x1="134.30" y1="616.20" x2="185.70" y2="616.20" stroke="#222" stroke-width="1.0" />
<path d="M133.10 569.40h1.2M133.10 574.08h1.2M133.10 578.76h1.2M133.10 583.44h1.2M133.10 588.12h1.2M133.10 592.80h1.2M133.10 597.48h1.2M133.10 602.16h1.2M133.10 606.84h1.2M133.10 611.52h1.2M133.10 616.20h1.2" stroke="#333" stroke-width="0.6"/>
<line x1="132.30" y1="615.90" x2="134.30" y2="615.90" stroke="#222" stroke-width="0.7" />
<text x="131.10" y="618.10" font-size="6.2" text-anchor="end" fill="#222"  stroke="#222" stroke-width="0.15">0</text>
<line x1="132.30" y1="606.54" x2="134.30" y2="606.54" stroke="#222" stroke-width="0.7" />
<text x="131.10" y="608.74" font-size="6.2" text-anchor="end" fill="#222"  stroke="#222" stroke-width="0.15">20</text>
<line x1="132.30" y1="597.18" x2="134.30" y2="597.18" stroke="#222" stroke-width="0.7" />
<text x="131.10" y="599.38" font-size="6.2" text-anchor="end" fill="#222"  stroke="#222" stroke-width="0.15">40</text>
<line x1="132.30" y1="587.82" x2="134.30" y2="587.82" stroke="#222" stroke-width="0.7" />
<text x="131.10" y="590.02" font-size="6.2" text-anchor="end" fill="#222"  stroke="#222" stroke-width="0.15">60</text>
<line x1="132.30" y1="578.46" x2="134.30" y2="578.46" stroke="#222" stroke-width="0.7" />
<text x="131.10" y="580.66" font-size="6.2" text-anchor="end" fill="#222"  stroke="#222" stroke-width="0.15">80</text>
<line x1="132.30" y1="569.10" x2="134.30" y2="569.10" stroke="#222" stroke-width="0.7" />
<text x="131.10" y="571.30" font-size="6.2" text-anchor="end" fill="#222"  stroke="#222" stroke-width="0.15">100</text>
<line x1="136.90" y1="616.20" x2="136.90" y2="618.00" stroke="#222" stroke-width="0.7" />
<text x="136.90" y="623.80" font-size="6.2" text-anchor="middle" fill="#222">10<tspan font-size="4.2" dy="-2.4">2</tspan></text>
<line x1="148.60" y1="616.20" x2="148.60" y2="618.00" stroke="#222" stroke-width="0.7" />
<text x="148.60" y="623.80" font-size="6.2" text-anchor="middle" fill="#222">10<tspan font-size="4.2" dy="-2.4">3</tspan></text>
<line x1="160.30" y1="616.20" x2="160.30" y2="618.00" stroke="#222" stroke-width="0.7" />
<text x="160.30" y="623.80" font-size="6.2" text-anchor="middle" fill="#222">10<tspan font-size="4.2" dy="-2.4">4</tspan></text>
<line x1="172.00" y1="616.20" x2="172.00" y2="618.00" stroke="#222" stroke-width="0.7" />
<text x="172.00" y="623.80" font-size="6.2" text-anchor="middle" fill="#222">10<tspan font-size="4.2" dy="-2.4">5</tspan></text>
<line x1="183.70" y1="616.20" x2="183.70" y2="618.00" stroke="#222" stroke-width="0.7" />
<text x="183.70" y="623.80" font-size="6.2" text-anchor="middle" fill="#222">10<tspan font-size="4.2" dy="-2.4">6</tspan></text>
<text x="161.40" y="562.70" font-size="8.8" text-anchor="middle" fill="#111" textLength="33.00" lengthAdjust="spacingAndGlyphs"  stroke="#111" stroke-width="0.15">MV4-11</text>
<path d="M67.00 688.00L67.00 688.00L67.09 687.98L67.19 687.92L67.28 687.83L67.38 687.69L67.47 687.52L67.56 687.31L67.66 687.06L67.75 686.78L67.85 686.46L67.94 686.10L68.04 685.71L68.13 685.29L68.22 684.83L68.32 684.33L68.41 683.81L68.51 683.25L68.60 682.66L68.69 682.05L68.79 681.40L68.88 680.73L68.98 680.03L69.07 679.30L69.17 678.55L69.26 677.78L69.35 676.98L69.45 676.17L69.54 675.34L69.64 674.48L69.73 673.62L69.83 672.73L69.92 671.84L70.01 670.93L70.11 670.01L70.20 669.09L70.30 668.15L70.39 667.21L70.48 666.27L70.58 665.32L70.67 664.37L70.77 663.43L70.86 662.48L70.95 661.54L71.05 660.60L71.14 659.67L71.24 658.75L71.33 657.83L71.43 656.93L71.52 656.04L71.61 655.17L71.71 654.31L71.80 653.46L71.90 652.64L71.99 651.83L72.08 651.05L72.18 650.29L72.27 649.55L72.37 648.84L72.46 648.15L72.56 647.49L72.65 646.86L72.74 646.25L72.84 645.68L72.93 645.14L73.03 644.63L73.12 644.15L73.22 643.70L73.31 643.30L73.40 642.92L73.50 642.58L73.59 642.28L73.69 642.01L73.78 641.78L73.87 641.59L73.97 641.44L74.06 641.32L74.16 641.24L74.25 641.21L74.34 641.21L74.44 641.34L74.53 641.59L74.63 641.97L74.72 642.47L74.82 643.09L74.91 643.83L75.00 644.69L75.10 645.65L75.19 646.72L75.29 647.88L75.38 649.14L75.47 650.48L75.57 651.89L75.66 653.38L75.76 654.93L75.85 656.53L75.95 658.17L76.04 659.85L76.13 661.56L76.23 663.28L76.32 665.01L76.42 666.74L76.51 668.46L76.60 670.15L76.70 671.82L76.79 673.44L76.89 675.02L76.98 676.54L77.08 677.99L77.17 679.37L77.26 680.67L77.36 681.89L77.45 683.00L77.55 684.02L77.64 684.93L77.73 685.73L77.83 686.42L77.92 686.98L78.02 687.43L78.11 687.74L78.21 687.94L78.30 688.00L78.30 688.00Z" fill="#f9a4a4" stroke="#f46c6c" stroke-width="0.6"/>
<path d="M71.95 688.00L71.95 688.00L72.10 687.91L72.25 687.65L72.40 687.22L72.55 686.63L72.70 685.89L72.85 685.01L73.00 684.02L73.15 682.92L73.30 681.74L73.45 680.51L73.60 679.24L73.75 677.96L73.91 676.69L74.06 675.46L74.21 674.29L74.36 673.20L74.51 672.21L74.66 671.34L74.81 670.61L74.96 670.03L75.11 669.61L75.26 669.36L75.41 669.28L75.56 669.38L75.71 669.65L75.86 670.09L76.01 670.69L76.16 671.44L76.31 672.33L76.46 673.33L76.61 674.43L76.76 675.61L76.91 676.85L77.06 678.12L77.21 679.40L77.37 680.67L77.52 681.90L77.67 683.07L77.82 684.15L77.97 685.13L78.12 685.99L78.27 686.71L78.42 687.28L78.57 687.69L78.72 687.93L78.87 687.98L79.02 687.78L79.17 687.37L79.32 686.76L79.47 685.95L79.62 684.95L79.77 683.77L79.92 682.42L80.07 680.91L80.22 679.25L80.37 677.47L80.52 675.57L80.67 673.57L80.82 671.49L80.97 669.35L81.13 667.16L81.28 664.96L81.43 662.75L81.58 660.55L81.73 658.40L81.88 656.29L82.03 654.27L82.18 652.33L82.33 650.51L82.48 648.81L82.63 647.25L82.78 645.84L82.93 644.61L83.08 643.55L83.23 642.68L83.38 642.00L83.53 641.53L83.68 641.26L83.83 641.20L83.98 641.30L84.13 641.53L84.28 641.90L84.43 642.40L84.59 643.03L84.74 643.78L84.89 644.65L85.04 645.64L85.19 646.74L85.34 647.95L85.49 649.25L85.64 650.63L85.79 652.11L85.94 653.65L86.09 655.25L86.24 656.91L86.39 658.62L86.54 660.36L86.69 662.12L86.84 663.90L86.99 665.69L87.14 667.46L87.29 669.22L87.44 670.96L87.59 672.65L87.74 674.30L87.89 675.90L88.04 677.42L88.19 678.88L88.35 680.25L88.50 681.53L88.65 682.71L88.80 683.78L88.95 684.75L89.10 685.60L89.25 686.32L89.40 686.92L89.55 687.39L89.70 687.73L89.85 687.93L90.00 688.00L90.00 688.00Z" fill="#9ae4f9" stroke="#22bcec" stroke-width="0.7" style="mix-blend-mode:multiply"/>
<path d="M59.50 638.90H110.90V688.30" fill="none" stroke="#6b6b6b" stroke-width="0.9"/>
<line x1="59.50" y1="638.50" x2="59.50" y2="688.30" stroke="#222" stroke-width="1.0" />
<line x1="59.50" y1="688.30" x2="110.90" y2="688.30" stroke="#222" stroke-width="1.0" />
<path d="M58.30 641.50h1.2M58.30 646.18h1.2M58.30 650.86h1.2M58.30 655.54h1.2M58.30 660.22h1.2M58.30 664.90h1.2M58.30 669.58h1.2M58.30 674.26h1.2M58.30 678.94h1.2M58.30 683.62h1.2M58.30 688.30h1.2" stroke="#333" stroke-width="0.6"/>
<line x1="57.50" y1="688.00" x2="59.50" y2="688.00" stroke="#222" stroke-width="0.7" />
<text x="56.30" y="690.20" font-size="6.2" text-anchor="end" fill="#222"  stroke="#222" stroke-width="0.15">0</text>
<line x1="57.50" y1="678.64" x2="59.50" y2="678.64" stroke="#222" stroke-width="0.7" />
<text x="56.30" y="680.84" font-size="6.2" text-anchor="end" fill="#222"  stroke="#222" stroke-width="0.15">20</text>
<line x1="57.50" y1="669.28" x2="59.50" y2="669.28" stroke="#222" stroke-width="0.7" />
<text x="56.30" y="671.48" font-size="6.2" text-anchor="end" fill="#222"  stroke="#222" stroke-width="0.15">40</text>
<line x1="57.50" y1="659.92" x2="59.50" y2="659.92" stroke="#222" stroke-width="0.7" />
<text x="56.30" y="662.12" font-size="6.2" text-anchor="end" fill="#222"  stroke="#222" stroke-width="0.15">60</text>
<line x1="57.50" y1="650.56" x2="59.50" y2="650.56" stroke="#222" stroke-width="0.7" />
<text x="56.30" y="652.76" font-size="6.2" text-anchor="end" fill="#222"  stroke="#222" stroke-width="0.15">80</text>
<line x1="57.50" y1="641.20" x2="59.50" y2="641.20" stroke="#222" stroke-width="0.7" />
<text x="56.30" y="643.40" font-size="6.2" text-anchor="end" fill="#222"  stroke="#222" stroke-width="0.15">100</text>
<line x1="62.10" y1="688.30" x2="62.10" y2="690.10" stroke="#222" stroke-width="0.7" />
<text x="62.10" y="695.90" font-size="6.2" text-anchor="middle" fill="#222">10<tspan font-size="4.2" dy="-2.4">2</tspan></text>
<line x1="73.80" y1="688.30" x2="73.80" y2="690.10" stroke="#222" stroke-width="0.7" />
<text x="73.80" y="695.90" font-size="6.2" text-anchor="middle" fill="#222">10<tspan font-size="4.2" dy="-2.4">3</tspan></text>
<line x1="85.50" y1="688.30" x2="85.50" y2="690.10" stroke="#222" stroke-width="0.7" />
<text x="85.50" y="695.90" font-size="6.2" text-anchor="middle" fill="#222">10<tspan font-size="4.2" dy="-2.4">4</tspan></text>
<line x1="97.20" y1="688.30" x2="97.20" y2="690.10" stroke="#222" stroke-width="0.7" />
<text x="97.20" y="695.90" font-size="6.2" text-anchor="middle" fill="#222">10<tspan font-size="4.2" dy="-2.4">5</tspan></text>
<line x1="108.90" y1="688.30" x2="108.90" y2="690.10" stroke="#222" stroke-width="0.7" />
<text x="108.90" y="695.90" font-size="6.2" text-anchor="middle" fill="#222">10<tspan font-size="4.2" dy="-2.4">6</tspan></text>
<text x="86.60" y="634.90" font-size="8.8" text-anchor="middle" fill="#111" textLength="23.10" lengthAdjust="spacingAndGlyphs"  stroke="#111" stroke-width="0.15">U937</text>
<path d="M142.70 688.00L142.70 688.00L142.81 687.98L142.91 687.93L143.02 687.85L143.12 687.73L143.23 687.57L143.33 687.39L143.44 687.17L143.55 686.91L143.65 686.63L143.76 686.31L143.86 685.96L143.97 685.58L144.08 685.17L144.18 684.73L144.29 684.26L144.39 683.76L144.50 683.23L144.60 682.68L144.71 682.10L144.82 681.49L144.92 680.86L145.03 680.21L145.13 679.53L145.24 678.83L145.35 678.11L145.45 677.37L145.56 676.61L145.66 675.83L145.77 675.04L145.88 674.23L145.98 673.41L146.09 672.58L146.19 671.73L146.30 670.87L146.40 670.01L146.51 669.13L146.62 668.25L146.72 667.37L146.83 666.48L146.93 665.59L147.04 664.69L147.14 663.80L147.25 662.90L147.36 662.01L147.46 661.13L147.57 660.25L147.67 659.37L147.78 658.50L147.89 657.64L147.99 656.80L148.10 655.96L148.20 655.13L148.31 654.32L148.41 653.53L148.52 652.75L148.63 651.99L148.73 651.24L148.84 650.52L148.94 649.81L149.05 649.13L149.16 648.47L149.26 647.84L149.37 647.22L149.47 646.64L149.58 646.08L149.69 645.55L149.79 645.04L149.90 644.56L150.00 644.12L150.11 643.70L150.21 643.31L150.32 642.96L150.43 642.63L150.53 642.34L150.64 642.08L150.74 641.85L150.85 641.66L150.96 641.50L151.06 641.38L151.17 641.28L151.27 641.22L151.38 641.20L151.48 641.25L151.59 641.46L151.70 641.83L151.80 642.35L151.91 643.03L152.01 643.86L152.12 644.83L152.22 645.94L152.33 647.18L152.44 648.54L152.54 650.01L152.65 651.57L152.75 653.23L152.86 654.97L152.97 656.77L153.07 658.63L153.18 660.53L153.28 662.46L153.39 664.40L153.50 666.34L153.60 668.28L153.71 670.18L153.81 672.05L153.92 673.87L154.02 675.62L154.13 677.29L154.24 678.88L154.34 680.37L154.45 681.75L154.55 683.01L154.66 684.15L154.77 685.15L154.87 686.01L154.98 686.72L155.08 687.28L155.19 687.68L155.29 687.92L155.40 688.00L155.40 688.00Z" fill="#f9a4a4" stroke="#f46c6c" stroke-width="0.6"/>
<path d="M147.30 688.00L147.30 688.00L147.48 687.97L147.67 687.90L147.85 687.77L148.03 687.59L148.21 687.36L148.40 687.08L148.58 686.75L148.76 686.37L148.94 685.94L149.12 685.46L149.31 684.94L149.49 684.38L149.67 683.77L149.86 683.12L150.04 682.42L150.22 681.69L150.40 680.92L150.59 680.12L150.77 679.28L150.95 678.40L151.13 677.50L151.31 676.57L151.50 675.61L151.68 674.63L151.86 673.62L152.05 672.60L152.23 671.56L152.41 670.50L152.59 669.43L152.78 668.35L152.96 667.26L153.14 666.17L153.32 665.07L153.50 663.97L153.69 662.87L153.87 661.77L154.05 660.69L154.24 659.61L154.42 658.54L154.60 657.48L154.78 656.44L154.97 655.42L155.15 654.42L155.33 653.44L155.51 652.49L155.69 651.56L155.88 650.66L156.06 649.80L156.24 648.96L156.43 648.16L156.61 647.40L156.79 646.67L156.97 645.98L157.16 645.34L157.34 644.74L157.52 644.18L157.70 643.66L157.88 643.19L158.07 642.77L158.25 642.40L158.43 642.08L158.62 641.81L158.80 641.58L158.98 641.41L159.16 641.29L159.34 641.22L159.53 641.20L159.71 641.25L159.89 641.39L160.07 641.60L160.26 641.90L160.44 642.28L160.62 642.73L160.81 643.26L160.99 643.86L161.17 644.54L161.35 645.29L161.53 646.10L161.72 646.98L161.90 647.92L162.08 648.92L162.26 649.97L162.45 651.08L162.63 652.23L162.81 653.42L163.00 654.66L163.18 655.93L163.36 657.22L163.54 658.55L163.72 659.90L163.91 661.26L164.09 662.63L164.27 664.01L164.45 665.40L164.64 666.78L164.82 668.15L165.00 669.51L165.19 670.85L165.37 672.17L165.55 673.47L165.73 674.73L165.91 675.96L166.10 677.15L166.28 678.29L166.46 679.39L166.64 680.44L166.83 681.43L167.01 682.36L167.19 683.23L167.38 684.03L167.56 684.77L167.74 685.43L167.92 686.03L168.10 686.54L168.29 686.99L168.47 687.35L168.65 687.63L168.83 687.84L169.02 687.96L169.20 688.00L169.20 688.00Z" fill="#9ae4f9" stroke="#22bcec" stroke-width="0.7" style="mix-blend-mode:multiply"/>
<path d="M134.30 638.90H185.70V688.30" fill="none" stroke="#6b6b6b" stroke-width="0.9"/>
<line x1="134.30" y1="638.50" x2="134.30" y2="688.30" stroke="#222" stroke-width="1.0" />
<line x1="134.30" y1="688.30" x2="185.70" y2="688.30" stroke="#222" stroke-width="1.0" />
<path d="M133.10 641.50h1.2M133.10 646.18h1.2M133.10 650.86h1.2M133.10 655.54h1.2M133.10 660.22h1.2M133.10 664.90h1.2M133.10 669.58h1.2M133.10 674.26h1.2M133.10 678.94h1.2M133.10 683.62h1.2M133.10 688.30h1.2" stroke="#333" stroke-width="0.6"/>
<line x1="132.30" y1="688.00" x2="134.30" y2="688.00" stroke="#222" stroke-width="0.7" />
<text x="131.10" y="690.20" font-size="6.2" text-anchor="end" fill="#222"  stroke="#222" stroke-width="0.15">0</text>
<line x1="132.30" y1="678.64" x2="134.30" y2="678.64" stroke="#222" stroke-width="0.7" />
<text x="131.10" y="680.84" font-size="6.2" text-anchor="end" fill="#222"  stroke="#222" stroke-width="0.15">20</text>
<line x1="132.30" y1="669.28" x2="134.30" y2="669.28" stroke="#222" stroke-width="0.7" />
<text x="131.10" y="671.48" font-size="6.2" text-anchor="end" fill="#222"  stroke="#222" stroke-width="0.15">40</text>
<line x1="132.30" y1="659.92" x2="134.30" y2="659.92" stroke="#222" stroke-width="0.7" />
<text x="131.10" y="662.12" font-size="6.2" text-anchor="end" fill="#222"  stroke="#222" stroke-width="0.15">60</text>
<line x1="132.30" y1="650.56" x2="134.30" y2="650.56" stroke="#222" stroke-width="0.7" />
<text x="131.10" y="652.76" font-size="6.2" text-anchor="end" fill="#222"  stroke="#222" stroke-width="0.15">80</text>
<line x1="132.30" y1="641.20" x2="134.30" y2="641.20" stroke="#222" stroke-width="0.7" />
<text x="131.10" y="643.40" font-size="6.2" text-anchor="end" fill="#222"  stroke="#222" stroke-width="0.15">100</text>
<line x1="136.90" y1="688.30" x2="136.90" y2="690.10" stroke="#222" stroke-width="0.7" />
<text x="136.90" y="695.90" font-size="6.2" text-anchor="middle" fill="#222">10<tspan font-size="4.2" dy="-2.4">2</tspan></text>
<line x1="148.60" y1="688.30" x2="148.60" y2="690.10" stroke="#222" stroke-width="0.7" />
<text x="148.60" y="695.90" font-size="6.2" text-anchor="middle" fill="#222">10<tspan font-size="4.2" dy="-2.4">3</tspan></text>
<line x1="160.30" y1="688.30" x2="160.30" y2="690.10" stroke="#222" stroke-width="0.7" />
<text x="160.30" y="695.90" font-size="6.2" text-anchor="middle" fill="#222">10<tspan font-size="4.2" dy="-2.4">4</tspan></text>
<line x1="172.00" y1="688.30" x2="172.00" y2="690.10" stroke="#222" stroke-width="0.7" />
<text x="172.00" y="695.90" font-size="6.2" text-anchor="middle" fill="#222">10<tspan font-size="4.2" dy="-2.4">5</tspan></text>
<line x1="183.70" y1="688.30" x2="183.70" y2="690.10" stroke="#222" stroke-width="0.7" />
<text x="183.70" y="695.90" font-size="6.2" text-anchor="middle" fill="#222">10<tspan font-size="4.2" dy="-2.4">6</tspan></text>
<text x="161.40" y="634.90" font-size="8.8" text-anchor="middle" fill="#111" textLength="25.40" lengthAdjust="spacingAndGlyphs"  stroke="#111" stroke-width="0.15">THP-1</text>
<path d="M231.20 615.90L231.20 615.90L231.29 615.88L231.37 615.82L231.46 615.71L231.55 615.56L231.63 615.37L231.72 615.14L231.81 614.87L231.89 614.56L231.98 614.21L232.07 613.81L232.15 613.38L232.24 612.92L232.33 612.41L232.41 611.87L232.50 611.30L232.59 610.69L232.67 610.04L232.76 609.37L232.85 608.66L232.93 607.93L233.02 607.17L233.11 606.38L233.19 605.56L233.28 604.73L233.37 603.87L233.45 602.99L233.54 602.09L233.63 601.17L233.71 600.24L233.80 599.29L233.89 598.33L233.97 597.37L234.06 596.39L234.15 595.40L234.23 594.41L234.32 593.42L234.41 592.42L234.49 591.43L234.58 590.44L234.67 589.45L234.75 588.46L234.84 587.49L234.93 586.52L235.01 585.56L235.10 584.62L235.19 583.69L235.27 582.77L235.36 581.88L235.45 581.00L235.53 580.14L235.62 579.31L235.71 578.50L235.79 577.71L235.88 576.96L235.97 576.23L236.05 575.53L236.14 574.86L236.23 574.22L236.31 573.61L236.40 573.04L236.49 572.51L236.57 572.01L236.66 571.55L236.75 571.12L236.83 570.74L236.92 570.39L237.01 570.09L237.09 569.82L237.18 569.60L237.27 569.41L237.35 569.27L237.44 569.17L237.53 569.12L237.61 569.10L237.70 569.17L237.79 569.35L237.87 569.64L237.96 570.03L238.05 570.53L238.13 571.12L238.22 571.82L238.31 572.61L238.39 573.50L238.48 574.47L238.57 575.53L238.65 576.66L238.74 577.87L238.83 579.15L238.91 580.48L239.00 581.88L239.09 583.32L239.17 584.80L239.26 586.33L239.35 587.87L239.43 589.45L239.52 591.03L239.61 592.62L239.69 594.21L239.78 595.80L239.87 597.37L239.95 598.91L240.04 600.43L240.13 601.91L240.21 603.34L240.30 604.73L240.39 606.06L240.47 607.32L240.56 608.52L240.65 609.64L240.73 610.69L240.82 611.64L240.91 612.52L240.99 613.29L241.08 613.98L241.17 614.56L241.25 615.04L241.34 615.41L241.43 615.68L241.51 615.85L241.60 615.90L241.60 615.90Z" fill="#f9a4a4" stroke="#f46c6c" stroke-width="0.6"/>
<path d="M241.20 615.90L241.20 615.90L241.35 615.86L241.49 615.73L241.64 615.51L241.79 615.22L241.93 614.83L242.08 614.37L242.23 613.82L242.37 613.20L242.52 612.50L242.67 611.73L242.81 610.89L242.96 609.98L243.11 609.00L243.25 607.97L243.40 606.87L243.55 605.73L243.69 604.53L243.84 603.30L243.99 602.02L244.13 600.70L244.28 599.36L244.43 597.99L244.57 596.61L244.72 595.20L244.87 593.79L245.01 592.37L245.16 590.95L245.31 589.54L245.45 588.14L245.60 586.76L245.75 585.39L245.89 584.05L246.04 582.75L246.19 581.48L246.33 580.25L246.48 579.06L246.63 577.92L246.77 576.84L246.92 575.82L247.07 574.85L247.21 573.96L247.36 573.12L247.51 572.37L247.65 571.68L247.80 571.07L247.95 570.54L248.09 570.09L248.24 569.72L248.39 569.44L248.53 569.24L248.68 569.13L248.83 569.10L248.97 569.13L249.12 569.22L249.27 569.35L249.41 569.53L249.56 569.76L249.71 570.04L249.85 570.37L250.00 570.74L250.15 571.16L250.29 571.63L250.44 572.14L250.59 572.69L250.73 573.29L250.88 573.92L251.03 574.60L251.17 575.31L251.32 576.06L251.47 576.84L251.61 577.66L251.76 578.51L251.91 579.39L252.05 580.29L252.20 581.23L252.35 582.18L252.49 583.16L252.64 584.16L252.79 585.18L252.93 586.21L253.08 587.25L253.23 588.31L253.37 589.37L253.52 590.44L253.67 591.52L253.81 592.60L253.96 593.68L254.11 594.75L254.25 595.82L254.40 596.88L254.55 597.94L254.69 598.98L254.84 600.01L254.99 601.02L255.13 602.02L255.28 602.99L255.43 603.94L255.57 604.87L255.72 605.77L255.87 606.65L256.01 607.49L256.16 608.30L256.31 609.08L256.45 609.82L256.60 610.53L256.75 611.20L256.89 611.83L257.04 612.41L257.19 612.96L257.33 613.46L257.48 613.92L257.63 614.33L257.77 614.69L257.92 615.01L258.07 615.28L258.21 615.50L258.36 615.68L258.51 615.80L258.65 615.88L258.80 615.90L258.80 615.90Z" fill="#9ae4f9" stroke="#22bcec" stroke-width="0.7" style="mix-blend-mode:multiply"/>
<path d="M219.60 566.80H271.00V616.20" fill="none" stroke="#6b6b6b" stroke-width="0.9"/>
<line x1="219.60" y1="566.40" x2="219.60" y2="616.20" stroke="#222" stroke-width="1.0" />
<line x1="219.60" y1="616.20" x2="271.00" y2="616.20" stroke="#222" stroke-width="1.0" />
<path d="M218.40 569.40h1.2M218.40 574.08h1.2M218.40 578.76h1.2M218.40 583.44h1.2M218.40 588.12h1.2M218.40 592.80h1.2M218.40 597.48h1.2M218.40 602.16h1.2M218.40 606.84h1.2M218.40 611.52h1.2M218.40 616.20h1.2" stroke="#333" stroke-width="0.6"/>
<line x1="217.60" y1="615.90" x2="219.60" y2="615.90" stroke="#222" stroke-width="0.7" />
<text x="216.40" y="618.10" font-size="6.2" text-anchor="end" fill="#222"  stroke="#222" stroke-width="0.15">0</text>
<line x1="217.60" y1="606.54" x2="219.60" y2="606.54" stroke="#222" stroke-width="0.7" />
<text x="216.40" y="608.74" font-size="6.2" text-anchor="end" fill="#222"  stroke="#222" stroke-width="0.15">20</text>
<line x1="217.60" y1="597.18" x2="219.60" y2="597.18" stroke="#222" stroke-width="0.7" />
<text x="216.40" y="599.38" font-size="6.2" text-anchor="end" fill="#222"  stroke="#222" stroke-width="0.15">40</text>
<line x1="217.60" y1="587.82" x2="219.60" y2="587.82" stroke="#222" stroke-width="0.7" />
<text x="216.40" y="590.02" font-size="6.2" text-anchor="end" fill="#222"  stroke="#222" stroke-width="0.15">60</text>
<line x1="217.60" y1="578.46" x2="219.60" y2="578.46" stroke="#222" stroke-width="0.7" />
<text x="216.40" y="580.66" font-size="6.2" text-anchor="end" fill="#222"  stroke="#222" stroke-width="0.15">80</text>
<line x1="217.60" y1="569.10" x2="219.60" y2="569.10" stroke="#222" stroke-width="0.7" />
<text x="216.40" y="571.30" font-size="6.2" text-anchor="end" fill="#222"  stroke="#222" stroke-width="0.15">100</text>
<line x1="222.20" y1="616.20" x2="222.20" y2="618.00" stroke="#222" stroke-width="0.7" />
<text x="222.20" y="623.80" font-size="6.2" text-anchor="middle" fill="#222">10<tspan font-size="4.2" dy="-2.4">2</tspan></text>
<line x1="233.90" y1="616.20" x2="233.90" y2="618.00" stroke="#222" stroke-width="0.7" />
<text x="233.90" y="623.80" font-size="6.2" text-anchor="middle" fill="#222">10<tspan font-size="4.2" dy="-2.4">3</tspan></text>
<line x1="245.60" y1="616.20" x2="245.60" y2="618.00" stroke="#222" stroke-width="0.7" />
<text x="245.60" y="623.80" font-size="6.2" text-anchor="middle" fill="#222">10<tspan font-size="4.2" dy="-2.4">4</tspan></text>
<line x1="257.30" y1="616.20" x2="257.30" y2="618.00" stroke="#222" stroke-width="0.7" />
<text x="257.30" y="623.80" font-size="6.2" text-anchor="middle" fill="#222">10<tspan font-size="4.2" dy="-2.4">5</tspan></text>
<line x1="269.00" y1="616.20" x2="269.00" y2="618.00" stroke="#222" stroke-width="0.7" />
<text x="269.00" y="623.80" font-size="6.2" text-anchor="middle" fill="#222">10<tspan font-size="4.2" dy="-2.4">6</tspan></text>
<text x="246.70" y="562.70" font-size="8.8" text-anchor="middle" fill="#111" textLength="45.20" lengthAdjust="spacingAndGlyphs"  stroke="#111" stroke-width="0.15">OCI-AML3</text>
<path d="M301.50 615.90L301.50 615.90L301.61 615.88L301.72 615.83L301.83 615.74L301.94 615.62L302.05 615.46L302.15 615.26L302.26 615.03L302.37 614.77L302.48 614.48L302.59 614.15L302.70 613.78L302.81 613.39L302.92 612.96L303.03 612.50L303.14 612.01L303.25 611.50L303.36 610.95L303.47 610.37L303.57 609.77L303.68 609.14L303.79 608.49L303.90 607.81L304.01 607.11L304.12 606.39L304.23 605.64L304.34 604.88L304.45 604.10L304.56 603.30L304.67 602.48L304.77 601.65L304.88 600.80L304.99 599.94L305.10 599.07L305.21 598.19L305.32 597.30L305.43 596.41L305.54 595.51L305.65 594.60L305.76 593.69L305.87 592.78L305.98 591.87L306.09 590.96L306.19 590.05L306.30 589.14L306.41 588.24L306.52 587.35L306.63 586.46L306.74 585.59L306.85 584.72L306.96 583.87L307.07 583.03L307.18 582.20L307.29 581.39L307.39 580.60L307.50 579.82L307.61 579.06L307.72 578.33L307.83 577.61L307.94 576.92L308.05 576.25L308.16 575.61L308.27 574.99L308.38 574.40L308.49 573.83L308.60 573.30L308.71 572.79L308.81 572.32L308.92 571.87L309.03 571.46L309.14 571.07L309.25 570.72L309.36 570.41L309.47 570.12L309.58 569.87L309.69 569.66L309.80 569.48L309.91 569.33L310.01 569.22L310.12 569.15L310.23 569.11L310.34 569.11L310.45 569.24L310.56 569.52L310.67 569.95L310.78 570.52L310.89 571.23L311.00 572.07L311.11 573.05L311.22 574.15L311.33 575.36L311.43 576.68L311.54 578.11L311.65 579.62L311.76 581.22L311.87 582.89L311.98 584.62L312.09 586.40L312.20 588.22L312.31 590.07L312.42 591.93L312.53 593.80L312.63 595.65L312.74 597.49L312.85 599.30L312.96 601.06L313.07 602.77L313.18 604.41L313.29 605.98L313.40 607.46L313.51 608.84L313.62 610.13L313.73 611.30L313.84 612.35L313.95 613.27L314.05 614.06L314.16 614.72L314.27 615.23L314.38 615.60L314.49 615.83L314.60 615.90L314.60 615.90Z" fill="#f9a4a4" stroke="#f46c6c" stroke-width="0.6"/>
<path d="M309.20 615.90L309.20 615.90L309.33 615.85L309.46 615.70L309.58 615.46L309.71 615.11L309.84 614.67L309.97 614.14L310.10 613.52L310.23 612.80L310.36 612.01L310.48 611.12L310.61 610.16L310.74 609.13L310.87 608.03L311.00 606.85L311.12 605.62L311.25 604.34L311.38 603.00L311.51 601.62L311.64 600.20L311.77 598.75L311.89 597.27L312.02 595.77L312.15 594.26L312.28 592.74L312.41 591.22L312.54 589.70L312.67 588.20L312.79 586.71L312.92 585.25L313.05 583.82L313.18 582.43L313.31 581.07L313.44 579.77L313.56 578.52L313.69 577.33L313.82 576.21L313.95 575.15L314.08 574.17L314.20 573.26L314.33 572.44L314.46 571.70L314.59 571.04L314.72 570.48L314.85 570.01L314.98 569.64L315.10 569.36L315.23 569.19L315.36 569.10L315.49 569.11L315.62 569.16L315.75 569.26L315.87 569.40L316.00 569.59L316.13 569.82L316.26 570.10L316.39 570.42L316.51 570.78L316.64 571.18L316.77 571.62L316.90 572.10L317.03 572.63L317.16 573.19L317.29 573.78L317.41 574.42L317.54 575.08L317.67 575.79L317.80 576.52L317.93 577.28L318.06 578.08L318.18 578.90L318.31 579.74L318.44 580.62L318.57 581.51L318.70 582.43L318.82 583.36L318.95 584.31L319.08 585.28L319.21 586.26L319.34 587.26L319.47 588.26L319.60 589.27L319.72 590.29L319.85 591.32L319.98 592.34L320.11 593.37L320.24 594.39L320.37 595.41L320.49 596.42L320.62 597.43L320.75 598.43L320.88 599.41L321.01 600.39L321.13 601.34L321.26 602.28L321.39 603.21L321.52 604.11L321.65 604.99L321.78 605.84L321.91 606.67L322.03 607.47L322.16 608.25L322.29 608.99L322.42 609.70L322.55 610.38L322.68 611.02L322.80 611.63L322.93 612.20L323.06 612.74L323.19 613.23L323.32 613.69L323.44 614.10L323.57 614.48L323.70 614.81L323.83 615.10L323.96 615.34L324.09 615.54L324.22 615.70L324.34 615.81L324.47 615.88L324.60 615.90L324.60 615.90Z" fill="#9ae4f9" stroke="#22bcec" stroke-width="0.7" style="mix-blend-mode:multiply"/>
<path d="M299.20 566.80H350.60V616.20" fill="none" stroke="#6b6b6b" stroke-width="0.9"/>
<line x1="299.20" y1="566.40" x2="299.20" y2="616.20" stroke="#222" stroke-width="1.0" />
<line x1="299.20" y1="616.20" x2="350.60" y2="616.20" stroke="#222" stroke-width="1.0" />
<path d="M298.00 569.40h1.2M298.00 574.08h1.2M298.00 578.76h1.2M298.00 583.44h1.2M298.00 588.12h1.2M298.00 592.80h1.2M298.00 597.48h1.2M298.00 602.16h1.2M298.00 606.84h1.2M298.00 611.52h1.2M298.00 616.20h1.2" stroke="#333" stroke-width="0.6"/>
<line x1="297.20" y1="615.90" x2="299.20" y2="615.90" stroke="#222" stroke-width="0.7" />
<text x="296.00" y="618.10" font-size="6.2" text-anchor="end" fill="#222"  stroke="#222" stroke-width="0.15">0</text>
<line x1="297.20" y1="606.54" x2="299.20" y2="606.54" stroke="#222" stroke-width="0.7" />
<text x="296.00" y="608.74" font-size="6.2" text-anchor="end" fill="#222"  stroke="#222" stroke-width="0.15">20</text>
<line x1="297.20" y1="597.18" x2="299.20" y2="597.18" stroke="#222" stroke-width="0.7" />
<text x="296.00" y="599.38" font-size="6.2" text-anchor="end" fill="#222"  stroke="#222" stroke-width="0.15">40</text>
<line x1="297.20" y1="587.82" x2="299.20" y2="587.82" stroke="#222" stroke-width="0.7" />
<text x="296.00" y="590.02" font-size="6.2" text-anchor="end" fill="#222"  stroke="#222" stroke-width="0.15">60</text>
<line x1="297.20" y1="578.46" x2="299.20" y2="578.46" stroke="#222" stroke-width="0.7" />
<text x="296.00" y="580.66" font-size="6.2" text-anchor="end" fill="#222"  stroke="#222" stroke-width="0.15">80</text>
<line x1="297.20" y1="569.10" x2="299.20" y2="569.10" stroke="#222" stroke-width="0.7" />
<text x="296.00" y="571.30" font-size="6.2" text-anchor="end" fill="#222"  stroke="#222" stroke-width="0.15">100</text>
<line x1="306.90" y1="616.20" x2="306.90" y2="618.00" stroke="#222" stroke-width="0.7" />
<text x="306.90" y="623.80" font-size="6.2" text-anchor="middle" fill="#222">10<tspan font-size="4.2" dy="-2.4">3</tspan></text>
<line x1="320.80" y1="616.20" x2="320.80" y2="618.00" stroke="#222" stroke-width="0.7" />
<text x="320.80" y="623.80" font-size="6.2" text-anchor="middle" fill="#222">10<tspan font-size="4.2" dy="-2.4">4</tspan></text>
<line x1="334.60" y1="616.20" x2="334.60" y2="618.00" stroke="#222" stroke-width="0.7" />
<text x="334.60" y="623.80" font-size="6.2" text-anchor="middle" fill="#222">10<tspan font-size="4.2" dy="-2.4">5</tspan></text>
<line x1="347.70" y1="616.20" x2="347.70" y2="618.00" stroke="#222" stroke-width="0.7" />
<text x="347.70" y="623.80" font-size="6.2" text-anchor="middle" fill="#222">10<tspan font-size="4.2" dy="-2.4">6</tspan></text>
<text x="326.30" y="562.70" font-size="8.8" text-anchor="middle" fill="#111" textLength="33.00" lengthAdjust="spacingAndGlyphs"  stroke="#111" stroke-width="0.15">MV4-11</text>
<path d="M225.00 688.00L225.00 688.00L225.09 687.98L225.18 687.90L225.27 687.78L225.36 687.61L225.45 687.39L225.54 687.13L225.63 686.82L225.72 686.46L225.81 686.06L225.90 685.61L225.99 685.12L226.08 684.58L226.17 684.01L226.26 683.39L226.35 682.74L226.44 682.04L226.53 681.31L226.62 680.55L226.71 679.75L226.80 678.92L226.89 678.06L226.98 677.18L227.07 676.27L227.16 675.33L227.25 674.37L227.34 673.39L227.43 672.39L227.52 671.38L227.61 670.35L227.70 669.31L227.79 668.26L227.88 667.20L227.97 666.14L228.06 665.07L228.15 664.01L228.24 662.94L228.33 661.88L228.42 660.82L228.51 659.77L228.60 658.73L228.69 657.71L228.78 656.70L228.87 655.70L228.96 654.72L229.05 653.77L229.14 652.83L229.23 651.92L229.32 651.04L229.41 650.18L229.50 649.36L229.59 648.56L229.68 647.80L229.77 647.08L229.86 646.39L229.95 645.74L230.04 645.13L230.13 644.56L230.22 644.03L230.31 643.54L230.40 643.10L230.49 642.70L230.58 642.35L230.67 642.04L230.76 641.78L230.85 641.57L230.94 641.40L231.03 641.29L231.12 641.22L231.21 641.20L231.30 641.25L231.39 641.40L231.48 641.63L231.57 641.94L231.66 642.35L231.75 642.83L231.84 643.40L231.93 644.05L232.02 644.77L232.11 645.58L232.20 646.45L232.29 647.39L232.38 648.40L232.47 649.46L232.56 650.59L232.65 651.77L232.74 652.99L232.83 654.26L232.92 655.57L233.01 656.91L233.10 658.29L233.19 659.68L233.28 661.10L233.37 662.53L233.46 663.96L233.55 665.40L233.64 666.83L233.73 668.26L233.82 669.67L233.91 671.07L234.00 672.44L234.09 673.78L234.18 675.08L234.27 676.35L234.36 677.57L234.45 678.74L234.54 679.86L234.63 680.92L234.72 681.92L234.81 682.85L234.90 683.72L234.99 684.51L235.08 685.23L235.17 685.87L235.26 686.43L235.35 686.90L235.44 687.30L235.53 687.60L235.62 687.82L235.71 687.96L235.80 688.00L235.80 688.00Z" fill="#f9a4a4" stroke="#f46c6c" stroke-width="0.6"/>
<path d="M235.80 688.00L235.80 688.00L235.92 687.95L236.05 687.81L236.17 687.58L236.29 687.26L236.41 686.85L236.54 686.34L236.66 685.75L236.78 685.08L236.90 684.33L237.03 683.50L237.15 682.59L237.27 681.61L237.39 680.56L237.52 679.45L237.64 678.28L237.76 677.06L237.88 675.78L238.00 674.46L238.13 673.11L238.25 671.72L238.37 670.30L238.50 668.85L238.62 667.40L238.74 665.92L238.86 664.45L238.99 662.97L239.11 661.51L239.23 660.05L239.35 658.61L239.48 657.20L239.60 655.81L239.72 654.46L239.84 653.15L239.97 651.89L240.09 650.68L240.21 649.52L240.33 648.42L240.46 647.39L240.58 646.42L240.70 645.53L240.82 644.71L240.94 643.97L241.07 643.32L241.19 642.75L241.31 642.26L241.44 641.87L241.56 641.56L241.68 641.35L241.80 641.23L241.93 641.20L242.05 641.23L242.17 641.31L242.29 641.44L242.42 641.61L242.54 641.83L242.66 642.10L242.78 642.41L242.91 642.76L243.03 643.16L243.15 643.60L243.27 644.08L243.40 644.60L243.52 645.17L243.64 645.77L243.76 646.41L243.88 647.09L244.01 647.80L244.13 648.54L244.25 649.32L244.38 650.13L244.50 650.97L244.62 651.83L244.74 652.72L244.87 653.64L244.99 654.57L245.11 655.53L245.23 656.50L245.35 657.49L245.48 658.50L245.60 659.51L245.72 660.54L245.84 661.57L245.97 662.61L246.09 663.66L246.21 664.71L246.34 665.75L246.46 666.80L246.58 667.84L246.70 668.87L246.83 669.90L246.95 670.91L247.07 671.91L247.19 672.90L247.31 673.87L247.44 674.82L247.56 675.75L247.68 676.66L247.81 677.55L247.93 678.41L248.05 679.24L248.17 680.04L248.29 680.81L248.42 681.55L248.54 682.25L248.66 682.92L248.78 683.56L248.91 684.15L249.03 684.71L249.15 685.22L249.28 685.70L249.40 686.13L249.52 686.52L249.64 686.86L249.77 687.16L249.89 687.42L250.01 687.63L250.13 687.79L250.25 687.91L250.38 687.98L250.50 688.00L250.50 688.00Z" fill="#9ae4f9" stroke="#22bcec" stroke-width="0.7" style="mix-blend-mode:multiply"/>
<path d="M219.60 638.90H271.00V688.30" fill="none" stroke="#6b6b6b" stroke-width="0.9"/>
<line x1="219.60" y1="638.50" x2="219.60" y2="688.30" stroke="#222" stroke-width="1.0" />
<line x1="219.60" y1="688.30" x2="271.00" y2="688.30" stroke="#222" stroke-width="1.0" />
<path d="M218.40 641.50h1.2M218.40 646.18h1.2M218.40 650.86h1.2M218.40 655.54h1.2M218.40 660.22h1.2M218.40 664.90h1.2M218.40 669.58h1.2M218.40 674.26h1.2M218.40 678.94h1.2M218.40 683.62h1.2M218.40 688.30h1.2" stroke="#333" stroke-width="0.6"/>
<line x1="217.60" y1="688.00" x2="219.60" y2="688.00" stroke="#222" stroke-width="0.7" />
<text x="216.40" y="690.20" font-size="6.2" text-anchor="end" fill="#222"  stroke="#222" stroke-width="0.15">0</text>
<line x1="217.60" y1="678.64" x2="219.60" y2="678.64" stroke="#222" stroke-width="0.7" />
<text x="216.40" y="680.84" font-size="6.2" text-anchor="end" fill="#222"  stroke="#222" stroke-width="0.15">20</text>
<line x1="217.60" y1="669.28" x2="219.60" y2="669.28" stroke="#222" stroke-width="0.7" />
<text x="216.40" y="671.48" font-size="6.2" text-anchor="end" fill="#222"  stroke="#222" stroke-width="0.15">40</text>
<line x1="217.60" y1="659.92" x2="219.60" y2="659.92" stroke="#222" stroke-width="0.7" />
<text x="216.40" y="662.12" font-size="6.2" text-anchor="end" fill="#222"  stroke="#222" stroke-width="0.15">60</text>
<line x1="217.60" y1="650.56" x2="219.60" y2="650.56" stroke="#222" stroke-width="0.7" />
<text x="216.40" y="652.76" font-size="6.2" text-anchor="end" fill="#222"  stroke="#222" stroke-width="0.15">80</text>
<line x1="217.60" y1="641.20" x2="219.60" y2="641.20" stroke="#222" stroke-width="0.7" />
<text x="216.40" y="643.40" font-size="6.2" text-anchor="end" fill="#222"  stroke="#222" stroke-width="0.15">100</text>
<line x1="222.20" y1="688.30" x2="222.20" y2="690.10" stroke="#222" stroke-width="0.7" />
<text x="222.20" y="695.90" font-size="6.2" text-anchor="middle" fill="#222">10<tspan font-size="4.2" dy="-2.4">2</tspan></text>
<line x1="233.90" y1="688.30" x2="233.90" y2="690.10" stroke="#222" stroke-width="0.7" />
<text x="233.90" y="695.90" font-size="6.2" text-anchor="middle" fill="#222">10<tspan font-size="4.2" dy="-2.4">3</tspan></text>
<line x1="245.60" y1="688.30" x2="245.60" y2="690.10" stroke="#222" stroke-width="0.7" />
<text x="245.60" y="695.90" font-size="6.2" text-anchor="middle" fill="#222">10<tspan font-size="4.2" dy="-2.4">4</tspan></text>
<line x1="257.30" y1="688.30" x2="257.30" y2="690.10" stroke="#222" stroke-width="0.7" />
<text x="257.30" y="695.90" font-size="6.2" text-anchor="middle" fill="#222">10<tspan font-size="4.2" dy="-2.4">5</tspan></text>
<line x1="269.00" y1="688.30" x2="269.00" y2="690.10" stroke="#222" stroke-width="0.7" />
<text x="269.00" y="695.90" font-size="6.2" text-anchor="middle" fill="#222">10<tspan font-size="4.2" dy="-2.4">6</tspan></text>
<text x="246.70" y="634.90" font-size="8.8" text-anchor="middle" fill="#111" textLength="23.10" lengthAdjust="spacingAndGlyphs"  stroke="#111" stroke-width="0.15">U937</text>
<path d="M309.60 688.00L309.60 688.00L309.66 687.98L309.73 687.91L309.79 687.80L309.86 687.64L309.92 687.44L309.99 687.20L310.05 686.91L310.11 686.58L310.18 686.20L310.24 685.79L310.31 685.33L310.37 684.84L310.43 684.30L310.50 683.73L310.56 683.12L310.63 682.48L310.69 681.80L310.75 681.09L310.82 680.35L310.88 679.57L310.95 678.77L311.01 677.94L311.08 677.09L311.14 676.21L311.20 675.31L311.27 674.38L311.33 673.44L311.40 672.49L311.46 671.51L311.53 670.53L311.59 669.53L311.65 668.52L311.72 667.51L311.78 666.49L311.85 665.47L311.91 664.44L311.97 663.42L312.04 662.39L312.10 661.37L312.17 660.36L312.23 659.36L312.30 658.36L312.36 657.38L312.42 656.41L312.49 655.46L312.55 654.53L312.62 653.61L312.68 652.72L312.74 651.84L312.81 651.00L312.87 650.18L312.94 649.38L313.00 648.62L313.06 647.89L313.13 647.18L313.19 646.52L313.26 645.88L313.32 645.29L313.39 644.73L313.45 644.20L313.51 643.72L313.58 643.28L313.64 642.88L313.71 642.52L313.77 642.20L313.84 641.92L313.90 641.69L313.96 641.50L314.03 641.36L314.09 641.26L314.16 641.21L314.22 641.20L314.28 641.29L314.35 641.46L314.41 641.74L314.48 642.11L314.54 642.58L314.61 643.14L314.67 643.80L314.73 644.54L314.80 645.36L314.86 646.27L314.93 647.25L314.99 648.31L315.05 649.43L315.12 650.62L315.18 651.87L315.25 653.17L315.31 654.53L315.38 655.92L315.44 657.35L315.50 658.81L315.57 660.30L315.63 661.80L315.70 663.32L315.76 664.84L315.82 666.36L315.89 667.87L315.95 669.37L316.02 670.85L316.08 672.30L316.15 673.72L316.21 675.10L316.27 676.44L316.34 677.72L316.40 678.95L316.47 680.13L316.53 681.23L316.59 682.26L316.66 683.22L316.72 684.11L316.79 684.90L316.85 685.62L316.92 686.24L316.98 686.77L317.04 687.21L317.11 687.56L317.17 687.80L317.24 687.95L317.30 688.00L317.30 688.00Z" fill="#f9a4a4" stroke="#f46c6c" stroke-width="0.6"/>
<path d="M313.50 688.00L313.50 688.00L313.68 687.95L313.87 687.79L314.05 687.52L314.23 687.15L314.42 686.67L314.60 686.09L314.78 685.42L314.97 684.65L315.15 683.78L315.33 682.83L315.52 681.50L315.70 679.68L315.88 677.68L316.07 675.54L316.25 673.28L316.43 670.93L316.62 668.50L316.80 666.04L316.98 663.57L317.17 661.12L317.35 658.73L317.53 656.40L317.72 654.19L317.90 652.10L318.08 650.17L318.27 648.43L318.45 646.88L318.63 645.54L318.82 644.45L319.00 643.60L319.18 643.00L319.37 642.68L319.55 642.61L319.73 642.82L319.92 643.30L320.10 644.03L320.28 645.02L320.47 644.86L320.65 644.05L320.83 643.34L321.02 642.73L321.20 642.22L321.38 641.81L321.57 641.50L321.75 641.30L321.93 641.21L322.12 641.21L322.30 641.26L322.48 641.35L322.67 641.48L322.85 641.66L323.03 641.87L323.22 642.13L323.40 642.43L323.58 642.77L323.77 643.15L323.95 643.57L324.13 643.89L324.32 643.63L324.50 643.54L324.68 643.63L324.87 643.89L325.05 644.34L325.23 644.95L325.42 645.73L325.60 646.66L325.78 647.76L325.97 648.99L326.15 650.36L326.33 651.85L326.52 652.98L326.70 653.86L326.88 654.75L327.07 655.67L327.25 656.60L327.43 657.54L327.62 658.50L327.80 659.47L327.98 660.45L328.17 661.43L328.35 662.42L328.53 663.42L328.72 664.42L328.90 665.42L329.08 666.41L329.27 667.41L329.45 668.39L329.63 669.38L329.82 670.35L330.00 671.31L330.18 672.26L330.37 673.20L330.55 674.12L330.73 675.02L330.92 675.90L331.10 676.77L331.28 677.61L331.47 678.43L331.65 679.22L331.83 679.99L332.02 680.72L332.20 681.43L332.38 682.11L332.57 682.76L332.75 683.37L332.93 683.95L333.12 684.49L333.30 685.00L333.48 685.47L333.67 685.90L333.85 686.30L334.03 686.65L334.22 686.96L334.40 687.24L334.58 687.47L334.77 687.66L334.95 687.81L335.13 687.91L335.32 687.98L335.50 688.00L335.50 688.00Z" fill="#9ae4f9" stroke="#22bcec" stroke-width="0.7" style="mix-blend-mode:multiply"/>
<path d="M299.20 638.90H350.60V688.30" fill="none" stroke="#6b6b6b" stroke-width="0.9"/>
<line x1="299.20" y1="638.50" x2="299.20" y2="688.30" stroke="#222" stroke-width="1.0" />
<line x1="299.20" y1="688.30" x2="350.60" y2="688.30" stroke="#222" stroke-width="1.0" />
<path d="M298.00 641.50h1.2M298.00 646.18h1.2M298.00 650.86h1.2M298.00 655.54h1.2M298.00 660.22h1.2M298.00 664.90h1.2M298.00 669.58h1.2M298.00 674.26h1.2M298.00 678.94h1.2M298.00 683.62h1.2M298.00 688.30h1.2" stroke="#333" stroke-width="0.6"/>
<line x1="297.20" y1="688.00" x2="299.20" y2="688.00" stroke="#222" stroke-width="0.7" />
<text x="296.00" y="690.20" font-size="6.2" text-anchor="end" fill="#222"  stroke="#222" stroke-width="0.15">0</text>
<line x1="297.20" y1="678.64" x2="299.20" y2="678.64" stroke="#222" stroke-width="0.7" />
<text x="296.00" y="680.84" font-size="6.2" text-anchor="end" fill="#222"  stroke="#222" stroke-width="0.15">20</text>
<line x1="297.20" y1="669.28" x2="299.20" y2="669.28" stroke="#222" stroke-width="0.7" />
<text x="296.00" y="671.48" font-size="6.2" text-anchor="end" fill="#222"  stroke="#222" stroke-width="0.15">40</text>
<line x1="297.20" y1="659.92" x2="299.20" y2="659.92" stroke="#222" stroke-width="0.7" />
<text x="296.00" y="662.12" font-size="6.2" text-anchor="end" fill="#222"  stroke="#222" stroke-width="0.15">60</text>
<line x1="297.20" y1="650.56" x2="299.20" y2="650.56" stroke="#222" stroke-width="0.7" />
<text x="296.00" y="652.76" font-size="6.2" text-anchor="end" fill="#222"  stroke="#222" stroke-width="0.15">80</text>
<line x1="297.20" y1="641.20" x2="299.20" y2="641.20" stroke="#222" stroke-width="0.7" />
<text x="296.00" y="643.40" font-size="6.2" text-anchor="end" fill="#222"  stroke="#222" stroke-width="0.15">100</text>
<line x1="301.80" y1="688.30" x2="301.80" y2="690.10" stroke="#222" stroke-width="0.7" />
<text x="301.80" y="695.90" font-size="6.2" text-anchor="middle" fill="#222">10<tspan font-size="4.2" dy="-2.4">2</tspan></text>
<line x1="313.50" y1="688.30" x2="313.50" y2="690.10" stroke="#222" stroke-width="0.7" />
<text x="313.50" y="695.90" font-size="6.2" text-anchor="middle" fill="#222">10<tspan font-size="4.2" dy="-2.4">3</tspan></text>
<line x1="325.20" y1="688.30" x2="325.20" y2="690.10" stroke="#222" stroke-width="0.7" />
<text x="325.20" y="695.90" font-size="6.2" text-anchor="middle" fill="#222">10<tspan font-size="4.2" dy="-2.4">4</tspan></text>
<line x1="336.90" y1="688.30" x2="336.90" y2="690.10" stroke="#222" stroke-width="0.7" />
<text x="336.90" y="695.90" font-size="6.2" text-anchor="middle" fill="#222">10<tspan font-size="4.2" dy="-2.4">5</tspan></text>
<line x1="348.60" y1="688.30" x2="348.60" y2="690.10" stroke="#222" stroke-width="0.7" />
<text x="348.60" y="695.90" font-size="6.2" text-anchor="middle" fill="#222">10<tspan font-size="4.2" dy="-2.4">6</tspan></text>
<text x="326.30" y="634.90" font-size="8.8" text-anchor="middle" fill="#111" textLength="25.40" lengthAdjust="spacingAndGlyphs"  stroke="#111" stroke-width="0.15">THP-1</text>
<path d="M388.10 615.90L388.10 615.90L388.19 615.88L388.27 615.83L388.36 615.74L388.45 615.61L388.53 615.45L388.62 615.25L388.71 615.01L388.79 614.74L388.88 614.44L388.97 614.10L389.05 613.73L389.14 613.33L389.23 612.89L389.31 612.42L389.40 611.92L389.49 611.39L389.57 610.83L389.66 610.24L389.75 609.63L389.83 608.98L389.92 608.32L390.01 607.62L390.09 606.91L390.18 606.17L390.27 605.41L390.35 604.63L390.44 603.83L390.53 603.01L390.61 602.18L390.70 601.33L390.79 600.47L390.87 599.60L390.96 598.71L391.05 597.82L391.13 596.91L391.22 596.00L391.31 595.09L391.39 594.17L391.48 593.25L391.57 592.32L391.65 591.40L391.74 590.48L391.83 589.56L391.91 588.65L392.00 587.74L392.09 586.84L392.17 585.95L392.26 585.07L392.35 584.20L392.43 583.34L392.52 582.50L392.61 581.67L392.69 580.86L392.78 580.07L392.87 579.30L392.95 578.55L393.04 577.82L393.13 577.11L393.21 576.42L393.30 575.77L393.39 575.13L393.47 574.53L393.56 573.95L393.65 573.40L393.73 572.88L393.82 572.40L393.91 571.94L393.99 571.52L394.08 571.12L394.17 570.76L394.25 570.44L394.34 570.15L394.43 569.89L394.51 569.67L394.60 569.49L394.69 569.34L394.77 569.22L394.86 569.15L394.95 569.11L395.03 569.11L395.12 569.24L395.21 569.50L395.29 569.91L395.38 570.45L395.47 571.12L395.55 571.93L395.64 572.86L395.73 573.90L395.81 575.06L395.90 576.33L395.99 577.69L396.07 579.15L396.16 580.68L396.25 582.28L396.33 583.95L396.42 585.67L396.51 587.43L396.59 589.22L396.68 591.03L396.77 592.85L396.85 594.67L396.94 596.47L397.03 598.25L397.11 600.00L397.20 601.70L397.29 603.34L397.37 604.92L397.46 606.42L397.55 607.84L397.63 609.17L397.72 610.40L397.81 611.51L397.89 612.52L397.98 613.40L398.07 614.15L398.15 614.78L398.24 615.27L398.33 615.62L398.41 615.83L398.50 615.90L398.50 615.90Z" fill="#f9a4a4" stroke="#f46c6c" stroke-width="0.6"/>
<path d="M394.20 615.90L394.20 615.90L394.33 615.86L394.47 615.73L394.60 615.51L394.74 615.22L394.88 614.83L395.01 614.37L395.14 613.83L395.28 613.20L395.41 612.51L395.55 611.73L395.69 610.89L395.82 609.98L395.95 609.01L396.09 607.97L396.22 606.88L396.36 605.74L396.50 604.55L396.63 603.31L396.76 602.03L396.90 600.72L397.03 599.38L397.17 598.01L397.31 596.63L397.44 595.22L397.57 593.81L397.71 592.39L397.84 590.98L397.98 589.57L398.12 588.17L398.25 586.78L398.38 585.42L398.52 584.08L398.65 582.77L398.79 581.50L398.93 580.27L399.06 579.09L399.19 577.95L399.33 576.87L399.46 575.84L399.60 574.88L399.74 573.98L399.87 573.15L400.00 572.39L400.14 571.70L400.27 571.09L400.41 570.56L400.54 570.10L400.68 569.73L400.81 569.45L400.95 569.25L401.08 569.13L401.22 569.10L401.35 569.13L401.49 569.21L401.62 569.35L401.76 569.53L401.89 569.76L402.03 570.03L402.16 570.36L402.30 570.73L402.44 571.15L402.57 571.61L402.70 572.12L402.84 572.67L402.97 573.27L403.11 573.90L403.25 574.58L403.38 575.29L403.51 576.04L403.65 576.82L403.78 577.64L403.92 578.49L404.06 579.37L404.19 580.27L404.32 581.21L404.46 582.16L404.59 583.14L404.73 584.14L404.87 585.16L405.00 586.19L405.13 587.23L405.27 588.29L405.40 589.35L405.54 590.43L405.67 591.50L405.81 592.58L405.94 593.66L406.08 594.73L406.21 595.80L406.35 596.87L406.48 597.92L406.62 598.97L406.75 600.00L406.89 601.01L407.02 602.01L407.16 602.98L407.29 603.93L407.43 604.86L407.56 605.76L407.70 606.64L407.83 607.48L407.97 608.30L408.10 609.07L408.24 609.82L408.38 610.52L408.51 611.19L408.64 611.82L408.78 612.41L408.91 612.96L409.05 613.46L409.19 613.91L409.32 614.33L409.45 614.69L409.59 615.01L409.72 615.28L409.86 615.50L410.00 615.68L410.13 615.80L410.26 615.88L410.40 615.90L410.40 615.90Z" fill="#9ae4f9" stroke="#22bcec" stroke-width="0.7" style="mix-blend-mode:multiply"/>
<path d="M378.10 566.80H429.50V616.20" fill="none" stroke="#6b6b6b" stroke-width="0.9"/>
<line x1="378.10" y1="566.40" x2="378.10" y2="616.20" stroke="#222" stroke-width="1.0" />
<line x1="378.10" y1="616.20" x2="429.50" y2="616.20" stroke="#222" stroke-width="1.0" />
<path d="M376.90 569.40h1.2M376.90 574.08h1.2M376.90 578.76h1.2M376.90 583.44h1.2M376.90 588.12h1.2M376.90 592.80h1.2M376.90 597.48h1.2M376.90 602.16h1.2M376.90 606.84h1.2M376.90 611.52h1.2M376.90 616.20h1.2" stroke="#333" stroke-width="0.6"/>
<line x1="376.10" y1="615.90" x2="378.10" y2="615.90" stroke="#222" stroke-width="0.7" />
<text x="374.90" y="618.10" font-size="6.2" text-anchor="end" fill="#222"  stroke="#222" stroke-width="0.15">0</text>
<line x1="376.10" y1="606.54" x2="378.10" y2="606.54" stroke="#222" stroke-width="0.7" />
<text x="374.90" y="608.74" font-size="6.2" text-anchor="end" fill="#222"  stroke="#222" stroke-width="0.15">20</text>
<line x1="376.10" y1="597.18" x2="378.10" y2="597.18" stroke="#222" stroke-width="0.7" />
<text x="374.90" y="599.38" font-size="6.2" text-anchor="end" fill="#222"  stroke="#222" stroke-width="0.15">40</text>
<line x1="376.10" y1="587.82" x2="378.10" y2="587.82" stroke="#222" stroke-width="0.7" />
<text x="374.90" y="590.02" font-size="6.2" text-anchor="end" fill="#222"  stroke="#222" stroke-width="0.15">60</text>
<line x1="376.10" y1="578.46" x2="378.10" y2="578.46" stroke="#222" stroke-width="0.7" />
<text x="374.90" y="580.66" font-size="6.2" text-anchor="end" fill="#222"  stroke="#222" stroke-width="0.15">80</text>
<line x1="376.10" y1="569.10" x2="378.10" y2="569.10" stroke="#222" stroke-width="0.7" />
<text x="374.90" y="571.30" font-size="6.2" text-anchor="end" fill="#222"  stroke="#222" stroke-width="0.15">100</text>
<line x1="380.70" y1="616.20" x2="380.70" y2="618.00" stroke="#222" stroke-width="0.7" />
<text x="380.70" y="623.80" font-size="6.2" text-anchor="middle" fill="#222">10<tspan font-size="4.2" dy="-2.4">2</tspan></text>
<line x1="392.40" y1="616.20" x2="392.40" y2="618.00" stroke="#222" stroke-width="0.7" />
<text x="392.40" y="623.80" font-size="6.2" text-anchor="middle" fill="#222">10<tspan font-size="4.2" dy="-2.4">3</tspan></text>
<line x1="404.10" y1="616.20" x2="404.10" y2="618.00" stroke="#222" stroke-width="0.7" />
<text x="404.10" y="623.80" font-size="6.2" text-anchor="middle" fill="#222">10<tspan font-size="4.2" dy="-2.4">4</tspan></text>
<line x1="415.80" y1="616.20" x2="415.80" y2="618.00" stroke="#222" stroke-width="0.7" />
<text x="415.80" y="623.80" font-size="6.2" text-anchor="middle" fill="#222">10<tspan font-size="4.2" dy="-2.4">5</tspan></text>
<line x1="427.50" y1="616.20" x2="427.50" y2="618.00" stroke="#222" stroke-width="0.7" />
<text x="427.50" y="623.80" font-size="6.2" text-anchor="middle" fill="#222">10<tspan font-size="4.2" dy="-2.4">6</tspan></text>
<text x="405.20" y="562.70" font-size="8.8" text-anchor="middle" fill="#111" textLength="45.20" lengthAdjust="spacingAndGlyphs"  stroke="#111" stroke-width="0.15">OCI-AML3</text>
<path d="M455.80 615.90L455.80 615.90L455.92 615.88L456.03 615.84L456.15 615.76L456.26 615.66L456.38 615.52L456.49 615.35L456.61 615.16L456.72 614.93L456.84 614.67L456.95 614.39L457.06 614.08L457.18 613.74L457.30 613.37L457.41 612.97L457.53 612.55L457.64 612.10L457.75 611.62L457.87 611.12L457.99 610.60L458.10 610.05L458.22 609.48L458.33 608.89L458.44 608.28L458.56 607.64L458.68 606.99L458.79 606.31L458.91 605.62L459.02 604.91L459.13 604.19L459.25 603.45L459.37 602.70L459.48 601.93L459.60 601.15L459.71 600.36L459.82 599.56L459.94 598.75L460.06 597.93L460.17 597.10L460.29 596.27L460.40 595.43L460.51 594.59L460.63 593.75L460.75 592.90L460.86 592.06L460.98 591.21L461.09 590.37L461.21 589.53L461.32 588.69L461.44 587.86L461.55 587.04L461.67 586.22L461.78 585.41L461.90 584.61L462.01 583.82L462.12 583.04L462.24 582.27L462.36 581.52L462.47 580.78L462.59 580.05L462.70 579.35L462.81 578.66L462.93 577.98L463.05 577.33L463.16 576.70L463.28 576.08L463.39 575.49L463.50 574.92L463.62 574.38L463.74 573.85L463.85 573.36L463.97 572.88L464.08 572.43L464.19 572.01L464.31 571.62L464.43 571.25L464.54 570.91L464.66 570.60L464.77 570.31L464.88 570.06L465.00 569.84L465.12 569.64L465.23 569.47L465.35 569.34L465.46 569.23L465.58 569.16L465.69 569.11L465.81 569.10L465.92 569.22L466.04 569.54L466.15 570.07L466.27 570.81L466.38 571.74L466.50 572.86L466.61 574.15L466.73 575.62L466.84 577.23L466.96 578.98L467.07 580.86L467.19 582.84L467.30 584.90L467.42 587.04L467.53 589.22L467.65 591.44L467.76 593.66L467.88 595.87L467.99 598.06L468.11 600.19L468.22 602.25L468.34 604.23L468.45 606.10L468.56 607.84L468.68 609.45L468.80 610.91L468.91 612.19L469.03 613.31L469.14 614.23L469.25 614.95L469.37 615.48L469.49 615.79L469.60 615.90L469.60 615.90Z" fill="#f9a4a4" stroke="#f46c6c" stroke-width="0.6"/>
<path d="M461.20 615.90L461.20 615.90L461.31 615.87L461.42 615.80L461.52 615.67L461.63 615.49L461.74 615.27L461.85 614.99L461.96 614.66L462.07 614.29L462.18 613.87L462.28 613.40L462.39 612.89L462.50 612.33L462.61 611.73L462.72 611.09L462.82 610.41L462.93 609.69L463.04 608.93L463.15 608.13L463.26 607.30L463.37 606.44L463.47 605.55L463.58 604.63L463.69 603.69L463.80 602.72L463.91 601.73L464.02 600.71L464.12 599.68L464.23 598.64L464.34 597.58L464.45 596.51L464.56 595.43L464.67 594.34L464.77 593.26L464.88 592.16L464.99 591.07L465.10 589.99L465.21 588.91L465.32 587.83L465.43 586.77L465.53 585.72L465.64 584.68L465.75 583.66L465.86 582.66L465.97 581.68L466.07 580.73L466.18 579.80L466.29 578.90L466.40 578.02L466.51 577.18L466.62 576.37L466.72 575.60L466.83 574.87L466.94 574.17L467.05 573.51L467.16 572.89L467.27 572.32L467.38 571.79L467.48 571.30L467.59 570.87L467.70 570.47L467.81 570.13L467.92 569.83L468.02 569.59L468.13 569.39L468.24 569.24L468.35 569.15L468.46 569.10L468.57 569.12L468.68 569.21L468.78 569.38L468.89 569.64L469.00 569.98L469.11 570.40L469.22 570.90L469.32 571.48L469.43 572.13L469.54 572.85L469.65 573.65L469.76 574.51L469.87 575.43L469.97 576.42L470.08 577.46L470.19 578.56L470.30 579.70L470.41 580.89L470.52 582.13L470.62 583.40L470.73 584.70L470.84 586.03L470.95 587.38L471.06 588.75L471.17 590.14L471.27 591.53L471.38 592.93L471.49 594.33L471.60 595.71L471.71 597.09L471.82 598.45L471.93 599.79L472.03 601.11L472.14 602.39L472.25 603.64L472.36 604.85L472.47 606.01L472.57 607.13L472.68 608.19L472.79 609.20L472.90 610.15L473.01 611.03L473.12 611.85L473.22 612.60L473.33 613.28L473.44 613.89L473.55 614.41L473.66 614.86L473.77 615.24L473.88 615.53L473.98 615.73L474.09 615.86L474.20 615.90L474.20 615.90Z" fill="#9ae4f9" stroke="#22bcec" stroke-width="0.7" style="mix-blend-mode:multiply"/>
<path d="M455.00 566.80H506.40V616.20" fill="none" stroke="#6b6b6b" stroke-width="0.9"/>
<line x1="455.00" y1="566.40" x2="455.00" y2="616.20" stroke="#222" stroke-width="1.0" />
<line x1="455.00" y1="616.20" x2="506.40" y2="616.20" stroke="#222" stroke-width="1.0" />
<path d="M453.80 569.40h1.2M453.80 574.08h1.2M453.80 578.76h1.2M453.80 583.44h1.2M453.80 588.12h1.2M453.80 592.80h1.2M453.80 597.48h1.2M453.80 602.16h1.2M453.80 606.84h1.2M453.80 611.52h1.2M453.80 616.20h1.2" stroke="#333" stroke-width="0.6"/>
<line x1="453.00" y1="615.90" x2="455.00" y2="615.90" stroke="#222" stroke-width="0.7" />
<text x="451.80" y="618.10" font-size="6.2" text-anchor="end" fill="#222"  stroke="#222" stroke-width="0.15">0</text>
<line x1="453.00" y1="606.54" x2="455.00" y2="606.54" stroke="#222" stroke-width="0.7" />
<text x="451.80" y="608.74" font-size="6.2" text-anchor="end" fill="#222"  stroke="#222" stroke-width="0.15">20</text>
<line x1="453.00" y1="597.18" x2="455.00" y2="597.18" stroke="#222" stroke-width="0.7" />
<text x="451.80" y="599.38" font-size="6.2" text-anchor="end" fill="#222"  stroke="#222" stroke-width="0.15">40</text>
<line x1="453.00" y1="587.82" x2="455.00" y2="587.82" stroke="#222" stroke-width="0.7" />
<text x="451.80" y="590.02" font-size="6.2" text-anchor="end" fill="#222"  stroke="#222" stroke-width="0.15">60</text>
<line x1="453.00" y1="578.46" x2="455.00" y2="578.46" stroke="#222" stroke-width="0.7" />
<text x="451.80" y="580.66" font-size="6.2" text-anchor="end" fill="#222"  stroke="#222" stroke-width="0.15">80</text>
<line x1="453.00" y1="569.10" x2="455.00" y2="569.10" stroke="#222" stroke-width="0.7" />
<text x="451.80" y="571.30" font-size="6.2" text-anchor="end" fill="#222"  stroke="#222" stroke-width="0.15">100</text>
<line x1="463.50" y1="616.20" x2="463.50" y2="618.00" stroke="#222" stroke-width="0.7" />
<text x="463.50" y="623.80" font-size="6.2" text-anchor="middle" fill="#222">10<tspan font-size="4.2" dy="-2.4">3</tspan></text>
<line x1="478.80" y1="616.20" x2="478.80" y2="618.00" stroke="#222" stroke-width="0.7" />
<text x="478.80" y="623.80" font-size="6.2" text-anchor="middle" fill="#222">10<tspan font-size="4.2" dy="-2.4">4</tspan></text>
<line x1="490.70" y1="616.20" x2="490.70" y2="618.00" stroke="#222" stroke-width="0.7" />
<text x="490.70" y="623.80" font-size="6.2" text-anchor="middle" fill="#222">10<tspan font-size="4.2" dy="-2.4">5</tspan></text>
<line x1="502.70" y1="616.20" x2="502.70" y2="618.00" stroke="#222" stroke-width="0.7" />
<text x="502.70" y="623.80" font-size="6.2" text-anchor="middle" fill="#222">10<tspan font-size="4.2" dy="-2.4">6</tspan></text>
<text x="482.10" y="562.70" font-size="8.8" text-anchor="middle" fill="#111" textLength="33.00" lengthAdjust="spacingAndGlyphs"  stroke="#111" stroke-width="0.15">MV4-11</text>
<path d="M381.80 688.00L381.80 688.00L381.88 687.99L381.96 687.94L382.04 687.88L382.12 687.78L382.20 687.66L382.29 687.51L382.37 687.33L382.45 687.12L382.53 686.89L382.61 686.64L382.69 686.35L382.77 686.04L382.85 685.71L382.93 685.35L383.01 684.97L383.09 684.56L383.17 684.13L383.25 683.68L383.34 683.20L383.42 682.70L383.50 682.18L383.58 681.64L383.66 681.08L383.74 680.50L383.82 679.90L383.90 679.29L383.98 678.65L384.06 678.00L384.14 677.34L384.23 676.66L384.31 675.96L384.39 675.25L384.47 674.53L384.55 673.80L384.63 673.06L384.71 672.30L384.79 671.54L384.87 670.77L384.95 669.99L385.03 669.21L385.11 668.42L385.19 667.62L385.28 666.82L385.36 666.02L385.44 665.22L385.52 664.42L385.60 663.62L385.68 662.81L385.76 662.01L385.84 661.22L385.92 660.43L386.00 659.64L386.08 658.86L386.17 658.08L386.25 657.31L386.33 656.56L386.41 655.81L386.49 655.07L386.57 654.34L386.65 653.62L386.73 652.92L386.81 652.23L386.89 651.56L386.97 650.90L387.05 650.26L387.13 649.63L387.22 649.02L387.30 648.43L387.38 647.86L387.46 647.31L387.54 646.78L387.62 646.27L387.70 645.78L387.78 645.32L387.86 644.87L387.94 644.45L388.02 644.06L388.11 643.68L388.19 643.34L388.27 643.01L388.35 642.72L388.43 642.44L388.51 642.20L388.59 641.98L388.67 641.79L388.75 641.62L388.83 641.48L388.91 641.37L388.99 641.29L389.07 641.23L389.16 641.20L389.24 641.23L389.32 641.50L389.40 642.05L389.48 642.88L389.56 643.97L389.64 645.32L389.72 646.89L389.80 648.69L389.88 650.67L389.96 652.83L390.05 655.13L390.13 657.55L390.21 660.05L390.29 662.60L390.37 665.19L390.45 667.76L390.53 670.30L390.61 672.76L390.69 675.13L390.77 677.37L390.85 679.45L390.93 681.35L391.01 683.05L391.10 684.52L391.18 685.75L391.26 686.73L391.34 687.43L391.42 687.86L391.50 688.00L391.50 688.00Z" fill="#f9a4a4" stroke="#f46c6c" stroke-width="0.6"/>
<path d="M384.80 688.00L384.80 688.00L384.96 687.97L385.11 687.88L385.27 687.73L385.43 687.53L385.58 687.27L385.74 686.95L385.90 686.57L386.05 686.14L386.21 685.65L386.37 685.11L386.52 684.52L386.68 683.88L386.84 683.19L386.99 682.45L387.15 681.67L387.31 680.84L387.46 679.98L387.62 679.07L387.78 678.13L387.93 677.16L388.09 676.15L388.25 675.11L388.40 674.05L388.56 672.96L388.72 671.85L388.87 670.73L389.03 669.59L389.19 668.43L389.34 667.27L389.50 666.10L389.66 664.93L389.81 663.75L389.97 662.58L390.13 661.41L390.28 660.25L390.44 659.10L390.60 657.97L390.75 656.85L390.91 655.75L391.07 654.67L391.22 653.62L391.38 652.60L391.54 651.60L391.69 650.64L391.85 649.72L392.01 648.83L392.16 647.98L392.32 647.18L392.48 646.41L392.63 645.70L392.79 645.03L392.95 644.41L393.10 643.84L393.26 643.33L393.42 642.86L393.57 642.46L393.73 642.10L393.89 641.81L394.04 641.57L394.20 641.39L394.36 641.27L394.51 641.21L394.67 641.21L394.83 641.27L394.98 641.41L395.14 641.61L395.30 641.89L395.45 642.23L395.61 642.64L395.77 643.11L395.92 643.65L396.08 644.25L396.24 644.92L396.39 645.64L396.55 646.41L396.71 647.25L396.86 648.13L397.02 649.06L397.18 650.04L397.33 651.07L397.49 652.13L397.65 653.23L397.80 654.37L397.96 655.53L398.12 656.72L398.27 657.94L398.43 659.18L398.59 660.43L398.74 661.69L398.90 662.97L399.06 664.25L399.21 665.53L399.37 666.80L399.53 668.07L399.68 669.33L399.84 670.58L400.00 671.81L400.15 673.01L400.31 674.19L400.47 675.34L400.62 676.46L400.78 677.55L400.94 678.60L401.09 679.60L401.25 680.56L401.41 681.47L401.56 682.33L401.72 683.14L401.88 683.89L402.03 684.59L402.19 685.22L402.35 685.80L402.50 686.31L402.66 686.75L402.82 687.13L402.97 687.44L403.13 687.69L403.29 687.86L403.44 687.97L403.60 688.00L403.60 688.00Z" fill="#9ae4f9" stroke="#22bcec" stroke-width="0.7" style="mix-blend-mode:multiply"/>
<path d="M378.10 638.90H429.50V688.30" fill="none" stroke="#6b6b6b" stroke-width="0.9"/>
<line x1="378.10" y1="638.50" x2="378.10" y2="688.30" stroke="#222" stroke-width="1.0" />
<line x1="378.10" y1="688.30" x2="429.50" y2="688.30" stroke="#222" stroke-width="1.0" />
<path d="M376.90 641.50h1.2M376.90 646.18h1.2M376.90 650.86h1.2M376.90 655.54h1.2M376.90 660.22h1.2M376.90 664.90h1.2M376.90 669.58h1.2M376.90 674.26h1.2M376.90 678.94h1.2M376.90 683.62h1.2M376.90 688.30h1.2" stroke="#333" stroke-width="0.6"/>
<line x1="376.10" y1="688.00" x2="378.10" y2="688.00" stroke="#222" stroke-width="0.7" />
<text x="374.90" y="690.20" font-size="6.2" text-anchor="end" fill="#222"  stroke="#222" stroke-width="0.15">0</text>
<line x1="376.10" y1="678.64" x2="378.10" y2="678.64" stroke="#222" stroke-width="0.7" />
<text x="374.90" y="680.84" font-size="6.2" text-anchor="end" fill="#222"  stroke="#222" stroke-width="0.15">20</text>
<line x1="376.10" y1="669.28" x2="378.10" y2="669.28" stroke="#222" stroke-width="0.7" />
<text x="374.90" y="671.48" font-size="6.2" text-anchor="end" fill="#222"  stroke="#222" stroke-width="0.15">40</text>
<line x1="376.10" y1="659.92" x2="378.10" y2="659.92" stroke="#222" stroke-width="0.7" />
<text x="374.90" y="662.12" font-size="6.2" text-anchor="end" fill="#222"  stroke="#222" stroke-width="0.15">60</text>
<line x1="376.10" y1="650.56" x2="378.10" y2="650.56" stroke="#222" stroke-width="0.7" />
<text x="374.90" y="652.76" font-size="6.2" text-anchor="end" fill="#222"  stroke="#222" stroke-width="0.15">80</text>
<line x1="376.10" y1="641.20" x2="378.10" y2="641.20" stroke="#222" stroke-width="0.7" />
<text x="374.90" y="643.40" font-size="6.2" text-anchor="end" fill="#222"  stroke="#222" stroke-width="0.15">100</text>
<line x1="380.70" y1="688.30" x2="380.70" y2="690.10" stroke="#222" stroke-width="0.7" />
<text x="380.70" y="695.90" font-size="6.2" text-anchor="middle" fill="#222">10<tspan font-size="4.2" dy="-2.4">2</tspan></text>
<line x1="392.40" y1="688.30" x2="392.40" y2="690.10" stroke="#222" stroke-width="0.7" />
<text x="392.40" y="695.90" font-size="6.2" text-anchor="middle" fill="#222">10<tspan font-size="4.2" dy="-2.4">3</tspan></text>
<line x1="404.10" y1="688.30" x2="404.10" y2="690.10" stroke="#222" stroke-width="0.7" />
<text x="404.10" y="695.90" font-size="6.2" text-anchor="middle" fill="#222">10<tspan font-size="4.2" dy="-2.4">4</tspan></text>
<line x1="415.80" y1="688.30" x2="415.80" y2="690.10" stroke="#222" stroke-width="0.7" />
<text x="415.80" y="695.90" font-size="6.2" text-anchor="middle" fill="#222">10<tspan font-size="4.2" dy="-2.4">5</tspan></text>
<line x1="427.50" y1="688.30" x2="427.50" y2="690.10" stroke="#222" stroke-width="0.7" />
<text x="427.50" y="695.90" font-size="6.2" text-anchor="middle" fill="#222">10<tspan font-size="4.2" dy="-2.4">6</tspan></text>
<text x="405.20" y="634.90" font-size="8.8" text-anchor="middle" fill="#111" textLength="23.10" lengthAdjust="spacingAndGlyphs"  stroke="#111" stroke-width="0.15">U937</text>
<path d="M464.50 688.00L464.50 688.00L464.58 687.99L464.66 687.95L464.74 687.88L464.81 687.79L464.89 687.68L464.97 687.54L465.05 687.37L465.13 687.18L465.20 686.96L465.28 686.72L465.36 686.45L465.44 686.16L465.52 685.85L465.60 685.51L465.68 685.15L465.75 684.76L465.83 684.36L465.91 683.93L465.99 683.48L466.07 683.01L466.14 682.52L466.22 682.01L466.30 681.48L466.38 680.93L466.46 680.37L466.54 679.78L466.62 679.18L466.69 678.57L466.77 677.94L466.85 677.29L466.93 676.63L467.01 675.95L467.08 675.27L467.16 674.57L467.24 673.86L467.32 673.14L467.40 672.41L467.48 671.67L467.56 670.93L467.63 670.18L467.71 669.42L467.79 668.65L467.87 667.88L467.95 667.11L468.02 666.34L468.10 665.56L468.18 664.78L468.26 664.00L468.34 663.23L468.42 662.45L468.50 661.68L468.57 660.91L468.65 660.14L468.73 659.38L468.81 658.62L468.89 657.87L468.96 657.13L469.04 656.40L469.12 655.68L469.20 654.96L469.28 654.26L469.36 653.57L469.44 652.89L469.51 652.22L469.59 651.57L469.67 650.93L469.75 650.30L469.83 649.69L469.90 649.10L469.98 648.53L470.06 647.97L470.14 647.43L470.22 646.91L470.30 646.41L470.38 645.94L470.45 645.48L470.53 645.04L470.61 644.62L470.69 644.23L470.77 643.86L470.84 643.51L470.92 643.18L471.00 642.88L471.08 642.60L471.16 642.35L471.24 642.12L471.31 641.92L471.39 641.74L471.47 641.59L471.55 641.46L471.63 641.36L471.71 641.28L471.78 641.23L471.86 641.20L471.94 641.25L472.02 641.61L472.10 642.33L472.18 643.38L472.25 644.74L472.33 646.41L472.41 648.36L472.49 650.55L472.57 652.95L472.65 655.53L472.72 658.25L472.80 661.06L472.88 663.93L472.96 666.80L473.04 669.64L473.12 672.41L473.19 675.06L473.27 677.55L473.35 679.84L473.43 681.91L473.51 683.71L473.59 685.22L473.66 686.42L473.74 687.30L473.82 687.82L473.90 688.00L473.90 688.00Z" fill="#f9a4a4" stroke="#f46c6c" stroke-width="0.6"/>
<path d="M468.00 688.00L468.00 688.00L468.16 687.94L468.33 687.77L468.49 687.48L468.65 687.08L468.82 686.57L468.98 685.95L469.14 685.22L469.31 684.40L469.47 683.47L469.63 682.45L469.80 681.35L469.96 680.16L470.12 678.89L470.29 677.55L470.45 676.15L470.61 674.70L470.78 673.19L470.94 671.64L471.10 670.05L471.27 668.44L471.43 666.81L471.59 665.17L471.76 663.53L471.92 661.89L472.08 660.26L472.25 658.66L472.41 657.08L472.57 655.54L472.74 654.05L472.90 652.61L473.06 651.23L473.23 649.91L473.39 648.67L473.55 647.51L473.72 646.43L473.88 645.44L474.04 644.54L474.21 643.74L474.37 643.05L474.53 642.46L474.70 641.98L474.86 641.62L475.02 641.37L475.19 641.23L475.35 641.20L475.51 641.24L475.68 641.31L475.84 641.43L476.00 641.58L476.17 641.78L476.33 642.02L476.49 642.30L476.66 642.61L476.82 642.97L476.98 643.36L477.15 643.80L477.31 644.27L477.47 644.77L477.64 645.31L477.80 645.88L477.96 646.49L478.13 647.13L478.29 647.80L478.45 648.50L478.62 649.23L478.78 649.98L478.94 650.76L479.11 651.57L479.27 652.40L479.43 653.25L479.60 654.12L479.76 655.01L479.92 655.91L480.09 656.84L480.25 657.77L480.41 658.72L480.58 659.68L480.74 659.92L480.90 659.98L481.07 660.12L481.23 660.33L481.39 660.61L481.56 660.97L481.72 661.41L481.88 661.91L482.05 662.48L482.21 663.11L482.37 663.80L482.54 664.55L482.70 665.35L482.86 666.20L483.03 667.09L483.19 668.02L483.35 668.98L483.52 669.97L483.68 670.98L483.84 672.01L484.01 673.04L484.17 674.09L484.33 675.13L484.50 676.17L484.66 677.19L484.82 678.20L484.99 679.18L485.15 680.13L485.31 681.05L485.48 681.93L485.64 682.77L485.80 683.56L485.97 684.29L486.13 684.97L486.29 685.59L486.46 686.14L486.62 686.63L486.78 687.04L486.95 687.38L487.11 687.65L487.27 687.84L487.44 687.96L487.60 688.00L487.60 688.00Z" fill="#9ae4f9" stroke="#22bcec" stroke-width="0.7" style="mix-blend-mode:multiply"/>
<path d="M455.00 638.90H506.40V688.30" fill="none" stroke="#6b6b6b" stroke-width="0.9"/>
<line x1="455.00" y1="638.50" x2="455.00" y2="688.30" stroke="#222" stroke-width="1.0" />
<line x1="455.00" y1="688.30" x2="506.40" y2="688.30" stroke="#222" stroke-width="1.0" />
<path d="M453.80 641.50h1.2M453.80 646.18h1.2M453.80 650.86h1.2M453.80 655.54h1.2M453.80 660.22h1.2M453.80 664.90h1.2M453.80 669.58h1.2M453.80 674.26h1.2M453.80 678.94h1.2M453.80 683.62h1.2M453.80 688.30h1.2" stroke="#333" stroke-width="0.6"/>
<line x1="453.00" y1="688.00" x2="455.00" y2="688.00" stroke="#222" stroke-width="0.7" />
<text x="451.80" y="690.20" font-size="6.2" text-anchor="end" fill="#222"  stroke="#222" stroke-width="0.15">0</text>
<line x1="453.00" y1="678.64" x2="455.00" y2="678.64" stroke="#222" stroke-width="0.7" />
<text x="451.80" y="680.84" font-size="6.2" text-anchor="end" fill="#222"  stroke="#222" stroke-width="0.15">20</text>
<line x1="453.00" y1="669.28" x2="455.00" y2="669.28" stroke="#222" stroke-width="0.7" />
<text x="451.80" y="671.48" font-size="6.2" text-anchor="end" fill="#222"  stroke="#222" stroke-width="0.15">40</text>
<line x1="453.00" y1="659.92" x2="455.00" y2="659.92" stroke="#222" stroke-width="0.7" />
<text x="451.80" y="662.12" font-size="6.2" text-anchor="end" fill="#222"  stroke="#222" stroke-width="0.15">60</text>
<line x1="453.00" y1="650.56" x2="455.00" y2="650.56" stroke="#222" stroke-width="0.7" />
<text x="451.80" y="652.76" font-size="6.2" text-anchor="end" fill="#222"  stroke="#222" stroke-width="0.15">80</text>
<line x1="453.00" y1="641.20" x2="455.00" y2="641.20" stroke="#222" stroke-width="0.7" />
<text x="451.80" y="643.40" font-size="6.2" text-anchor="end" fill="#222"  stroke="#222" stroke-width="0.15">100</text>
<line x1="457.60" y1="688.30" x2="457.60" y2="690.10" stroke="#222" stroke-width="0.7" />
<text x="457.60" y="695.90" font-size="6.2" text-anchor="middle" fill="#222">10<tspan font-size="4.2" dy="-2.4">2</tspan></text>
<line x1="469.30" y1="688.30" x2="469.30" y2="690.10" stroke="#222" stroke-width="0.7" />
<text x="469.30" y="695.90" font-size="6.2" text-anchor="middle" fill="#222">10<tspan font-size="4.2" dy="-2.4">3</tspan></text>
<line x1="481.00" y1="688.30" x2="481.00" y2="690.10" stroke="#222" stroke-width="0.7" />
<text x="481.00" y="695.90" font-size="6.2" text-anchor="middle" fill="#222">10<tspan font-size="4.2" dy="-2.4">4</tspan></text>
<line x1="492.70" y1="688.30" x2="492.70" y2="690.10" stroke="#222" stroke-width="0.7" />
<text x="492.70" y="695.90" font-size="6.2" text-anchor="middle" fill="#222">10<tspan font-size="4.2" dy="-2.4">5</tspan></text>
<line x1="504.40" y1="688.30" x2="504.40" y2="690.10" stroke="#222" stroke-width="0.7" />
<text x="504.40" y="695.90" font-size="6.2" text-anchor="middle" fill="#222">10<tspan font-size="4.2" dy="-2.4">6</tspan></text>
<text x="482.10" y="634.90" font-size="8.8" text-anchor="middle" fill="#111" textLength="25.40" lengthAdjust="spacingAndGlyphs"  stroke="#111" stroke-width="0.15">THP-1</text>
<text x="120.50" y="550.20" font-size="9.2" text-anchor="middle" fill="#000" font-weight="bold" textLength="25.60" lengthAdjust="spacingAndGlyphs" >T-1A5</text>
<text x="281.30" y="550.00" font-size="9.2" text-anchor="middle" fill="#000" font-weight="bold" textLength="45.20" lengthAdjust="spacingAndGlyphs" >HEK5-1B3</text>
<text x="436.20" y="550.00" font-size="9.2" text-anchor="middle" fill="#000" font-weight="bold" textLength="21.90" lengthAdjust="spacingAndGlyphs" >58B1</text>
<line x1="199.20" y1="547.40" x2="199.20" y2="694.70" stroke="#222" stroke-width="1.4" />
<line x1="362.60" y1="548.50" x2="362.60" y2="691.50" stroke="#222" stroke-width="1.4" />
<line x1="38.20" y1="564.00" x2="38.20" y2="577.00" stroke="#333" stroke-width="1.1" />
<path d="M35.6 565.2 L38.2 559.6 L40.8 565.2 Z" fill="#111"/>
<text x="0" y="0" font-size="10" text-anchor="middle" fill="#222" textLength="82.70" lengthAdjust="spacingAndGlyphs" transform="translate(38.20,621.80) rotate(-90)" dy="2.4" stroke="#222" stroke-width="0.15">Normalize to mode</text>
<line x1="38.20" y1="667.00" x2="38.20" y2="691.20" stroke="#333" stroke-width="1.1" />
<line x1="47.70" y1="701.00" x2="270.60" y2="701.00" stroke="#555" stroke-width="1.7" />
<line x1="302.50" y1="701.00" x2="505.50" y2="701.00" stroke="#555" stroke-width="1.7" />
<path d="M504.5 697.8 L510.6 701.0 L504.5 704.2 Z" fill="#111"/>
<text x="285.60" y="705.60" font-size="7.5" text-anchor="middle" fill="#222" textLength="21.90" lengthAdjust="spacingAndGlyphs"  stroke="#222" stroke-width="0.15">B7-H3</text>
<text x="7.00" y="16.40" font-size="12" text-anchor="start" fill="#000" font-weight="bold" >A</text>
<text x="178.60" y="16.30" font-size="12" text-anchor="start" fill="#000" font-weight="bold" >B</text>
<text x="336.60" y="16.30" font-size="12" text-anchor="start" fill="#000" font-weight="bold" >C</text>
<text x="7.00" y="213.50" font-size="12" text-anchor="start" fill="#000" font-weight="bold" >D</text>
<text x="179.60" y="213.50" font-size="12" text-anchor="start" fill="#000" font-weight="bold" >E</text>
<text x="340.60" y="213.50" font-size="12" text-anchor="start" fill="#000" font-weight="bold" >F</text>
<text x="7.00" y="404.60" font-size="12" text-anchor="start" fill="#000" font-weight="bold" >G</text>
<text x="193.80" y="411.60" font-size="12" text-anchor="start" fill="#000" font-weight="bold" >H</text>
<text x="365.40" y="411.40" font-size="12" text-anchor="start" fill="#000" font-weight="bold" >I</text>
<text x="6.40" y="546.10" font-size="12" text-anchor="start" fill="#000" font-weight="bold" >J</text>
<rect x="0.75" y="0.75" width="518.5" height="710.5" fill="none" stroke="#000" stroke-width="1.5"/>
</svg>
</body></html>
